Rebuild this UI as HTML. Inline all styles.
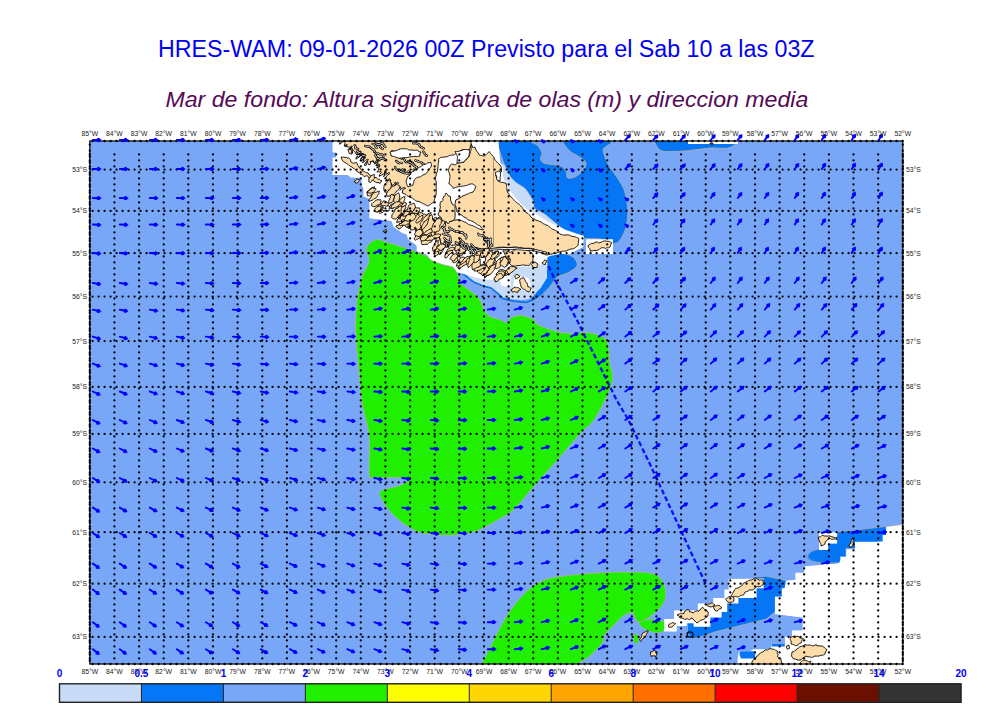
<!DOCTYPE html><html><head><meta charset="utf-8"><style>html,body{margin:0;padding:0;background:#fff;overflow:hidden}</style></head><body><svg width="1000" height="707" viewBox="0 0 1000 707" style="display:block">
<rect width="1000" height="707" fill="#fff"/>
<text x="158" y="56.6" font-family="Liberation Sans" font-size="23" fill="#0000f5" textLength="656.5" lengthAdjust="spacingAndGlyphs">HRES-WAM: 09-01-2026 00Z Previsto para el Sab 10 a las 03Z</text>
<text x="165.5" y="106.5" font-family="Liberation Sans" font-style="italic" font-size="22.6" fill="#550a55" textLength="642.8" lengthAdjust="spacingAndGlyphs">Mar de fondo: Altura significativa de olas (m) y direccion media</text>
<defs><clipPath id="mc"><rect x="89.8" y="141.0" width="813.0" height="523.0"/></clipPath></defs>
<g clip-path="url(#mc)">
<rect x="89.8" y="141.0" width="813.0" height="523.0" fill="#79a7f8"/>
<path d="M498.0,140.0C480.5,141.4 497.9,144.3 499.0,148.5C500.1,152.7 502.6,160.2 504.5,165.0C506.4,169.8 508.5,174.0 510.5,177.0C512.5,180.0 514.0,181.0 516.5,183.0C519.0,185.0 522.8,186.0 525.5,189.0C528.2,192.0 531.5,197.8 533.0,201.0C534.5,204.2 532.5,206.2 534.5,208.5C536.5,210.8 541.8,212.2 545.0,214.5C548.2,216.8 550.5,219.2 554.0,222.0C557.5,224.8 561.3,228.3 566.0,231.0C570.7,233.7 576.3,236.7 582.0,238.0C587.7,239.3 594.5,238.1 600.0,239.0C605.5,239.9 611.1,244.0 614.9,243.4C618.7,242.8 620.8,238.7 622.8,235.4C624.8,232.1 625.9,227.9 626.7,223.6C627.5,219.3 628.0,215.0 627.7,209.7C627.4,204.4 626.3,196.8 624.8,191.9C623.3,187.0 621.6,184.7 618.8,180.0C616.0,175.3 610.6,169.0 608.0,164.0C605.4,159.0 603.7,154.0 603.0,150.0C602.3,146.0 621.5,141.7 604.0,140.0C586.5,138.3 515.5,138.6 498.0,140.0Z" fill="#0576f6" stroke="#b8ae9c" stroke-width="0.8"/>
<path d="M548.0,252.0C551.7,251.5 564.6,253.7 569.3,255.2C574.0,256.7 575.1,259.2 576.2,261.2C577.4,263.2 577.7,265.0 576.2,267.0C574.7,269.0 570.4,271.3 567.3,273.0C564.2,274.7 560.4,274.7 557.4,277.0C554.4,279.3 552.5,283.7 549.5,287.0C546.5,290.3 542.6,294.5 539.6,296.8C536.6,299.1 532.0,302.3 531.7,301.0C531.4,299.7 535.5,293.9 538.0,288.8C540.5,283.7 544.9,275.7 546.4,270.6C547.9,265.5 546.7,261.1 547.0,258.0C547.3,254.9 544.3,252.5 548.0,252.0Z" fill="#0576f6" stroke="#b8ae9c" stroke-width="0.8"/>
<path d="M530.0,140.0C525.8,141.2 535.5,143.3 537.5,145.5C539.5,147.7 541.5,150.8 542.0,153.0C542.5,155.2 540.0,157.2 540.5,159.0C541.0,160.8 541.8,162.4 545.0,163.5C548.2,164.6 556.5,164.5 560.0,165.8C563.5,167.0 564.8,169.0 566.0,171.0C567.2,173.0 566.0,176.8 567.5,177.8C569.0,178.8 572.2,178.4 575.0,177.0C577.8,175.6 582.2,172.0 584.0,169.5C585.8,167.0 586.5,164.2 585.5,162.0C584.5,159.8 580.5,157.8 578.0,156.0C575.5,154.2 573.0,153.8 570.5,151.5C568.0,149.2 564.2,144.8 563.0,142.5C561.8,140.2 568.5,138.4 563.0,138.0C557.5,137.6 534.2,138.8 530.0,140.0Z" fill="#79a7f8" stroke="#b8ae9c" stroke-width="0.8"/>
<path d="M652.0,138.0C637.7,138.5 652.7,139.0 654.0,141.0C655.3,143.0 657.3,148.2 660.0,150.0C662.7,151.8 665.0,151.5 670.0,151.6C675.0,151.7 683.3,151.0 690.0,150.4C696.7,149.8 703.7,148.4 710.0,148.0C716.3,147.6 723.3,149.0 728.0,148.0C732.7,147.0 736.0,143.7 738.0,142.0C740.0,140.3 754.3,138.7 740.0,138.0C725.7,137.3 666.3,137.5 652.0,138.0Z" fill="#0576f6" stroke="#b8ae9c" stroke-width="0.8"/>
<rect x="688" y="140" width="50" height="4" fill="#fff"/>
<path d="M709,143.5l3,-1.5 2,2 -2,1.5z" fill="#333"/>
<polygon points="498.0,162.0 504.5,165.0 510.5,177.0 516.5,183.0 525.5,189.0 533.0,201.0 534.5,208.5 545.0,214.5 554.0,222.0 566.0,231.0 582.0,238.0 584.0,246.0 560.0,252.0 520.0,246.0 500.0,230.0 488.0,200.0 490.0,170.0" fill="#c8dcf8"/>
<path d="M476.0,143.5C476.6,142.8 479.0,143.1 480.0,144.0C481.0,144.9 482.2,147.8 482.0,149.0C481.8,150.2 479.9,151.2 479.0,151.0C478.1,150.8 477.0,149.2 476.5,148.0C476.0,146.8 475.4,144.2 476.0,143.5Z" fill="#c8dcf8"/>
<polygon points="466.4,277.9 482.0,287.0 495.0,290.9 500.2,296.1 508.0,298.7 521.0,300.0 530.1,298.7 540.5,288.3 547.0,277.9 547.0,261.0 540.0,255.0 500.0,258.0 470.0,268.0" fill="#c8dcf8"/>
<polyline points="463.0,274.0 466.4,276.6 473.0,281.8 482.0,285.7 491.1,288.3 497.6,293.5 502.8,298.7 513.2,301.3 526.2,302.6 531.4,300.5 539.2,292.2 547.0,284.4" fill="none" stroke="#0576f6" stroke-width="2.0" stroke-linejoin="round" stroke-linecap="round"/>
<polyline points="463.0,275.2 466.4,277.8 473.0,283.0 482.0,287.0 491.1,289.5 497.6,294.7 502.8,299.9 513.2,302.5 526.2,303.8 532.0,301.5" fill="none" stroke="#b8ae9c" stroke-width="0.5" stroke-linejoin="round" stroke-linecap="round"/>
<polygon points="332.5,141.0 332.5,152.4 336.3,152.4 336.3,157.4 332.5,157.4 332.5,175.0 348.0,175.0 350.7,177.6 361.5,178.0 361.5,184.8 363.4,188.4 363.4,196.3 369.4,199.0 369.4,218.2 391.4,221.0 393.6,227.0 401.3,232.5 406.8,234.7 407.9,239.1 416.7,245.7 416.7,251.2 426.6,254.5 431.0,260.0 436.5,263.3 453.0,266.6 456.3,272.0 463.8,274.0 482.0,279.2 500.2,280.5 501.5,285.7 510.6,287.0 510.6,266.0 547.0,264.0 547.0,258.0 552.0,254.0 570.0,254.0 583.0,247.0 584.0,236.0 566.0,230.0 548.0,221.5 536.0,214.0 526.0,208.5 520.0,203.0 512.0,193.0 505.0,183.0 502.0,172.0 500.0,160.0 499.0,148.0 498.5,140.0 476.0,140.0" fill="#fff"/>
<polygon points="514.5,275.3 528.8,278.0 532.7,292.2 513.2,287.0" fill="#fff"/>
<polygon points="586.0,239.4 613.0,239.4 613.0,254.0 586.0,254.0" fill="#fff"/>
<polygon points="586.0,239.4 613.0,239.4 613.0,254.0 586.0,254.0" fill="#fff"/>
<polygon points="340.0,141.0 471.0,141.0 471.2,144.3 469.4,149.7 462.2,149.7 453.2,155.1 446.0,156.9 438.8,158.7 437.9,167.7 435.2,178.5 436.1,192.7 434.3,201.7 427.9,206.0 419.0,201.7 410.0,197.2 402.0,192.5 394.8,186.0 387.6,180.0 380.4,174.0 376.8,167.7 373.2,162.3 366.0,165.0 357.0,156.9 357.0,151.5 350.7,153.3 348.0,145.2" fill="#fff" stroke="#fff" stroke-width="3" stroke-linejoin="round"/>
<polygon points="471.2,144.3 473.0,147.9 474.8,147.0 479.3,155.1 483.8,156.0 489.2,151.5 493.7,156.9 496.4,161.4 500.0,165.0 501.5,168.0 501.5,171.8 495.5,175.5 498.5,181.5 506.0,183.0 507.5,192.0 513.5,199.5 519.5,204.5 524.0,211.0 531.0,217.0 541.0,222.0 548.0,225.5 560.0,234.0 578.7,238.4 578.2,245.3 574.5,248.2 566.0,251.0 552.0,254.0 546.0,255.0 540.0,252.0 534.0,249.0 508.0,247.4 482.0,249.3 460.0,245.4 450.0,245.0 440.0,243.0 430.0,239.0 420.0,234.0 410.0,229.0 402.0,224.0 397.0,218.0 400.0,212.0 408.0,210.0 418.0,213.0 428.0,215.0 438.0,219.0 445.0,222.0 453.2,220.6 458.6,219.7 465.8,222.4 478.4,228.7 483.8,229.6 480.2,226.0 473.0,221.5 464.0,217.0 457.7,212.5 455.0,204.4 455.9,199.9 464.0,195.4 473.0,192.0 475.7,186.6 473.0,183.9 460.4,186.6 453.2,188.4 448.7,183.0 448.7,168.6 451.4,164.1 455.0,165.0 457.7,163.2 464.0,162.3 469.4,156.0" fill="#fff" stroke="#fff" stroke-width="3" stroke-linejoin="round"/>
<polygon points="341.0,157.0 344.0,157.0 351.0,162.0 359.0,167.5 368.0,173.0 376.0,177.5 382.0,181.0 380.0,183.5 372.0,180.0 362.0,174.0 353.0,168.0 346.0,163.0 342.0,160.0" fill="#fff" stroke="#fff" stroke-width="3" stroke-linejoin="round"/>
<polygon points="348.0,149.0 351.0,149.5 352.0,154.0 349.0,153.5" fill="#fff" stroke="#fff" stroke-width="3" stroke-linejoin="round"/>
<polygon points="446.0,193.0 450.0,196.0 452.0,204.0 455.0,212.0 454.0,220.0 448.0,224.0 442.0,221.0 438.0,214.0 440.0,206.0 443.0,198.0" fill="#fff" stroke="#fff" stroke-width="3" stroke-linejoin="round"/>
<polygon points="503.0,250.5 515.0,250.0 528.0,250.5 533.0,254.0 532.7,261.0 528.8,266.0 523.6,265.0 514.5,266.0 505.4,261.0" fill="#fff" stroke="#fff" stroke-width="3" stroke-linejoin="round"/>
<polygon points="340.0,141.0 341.0,141.0 342.0,141.0 343.1,141.0 344.1,141.0 345.1,141.0 346.1,141.0 347.2,141.0 348.2,141.0 349.2,141.0 350.2,141.0 351.3,141.0 352.3,141.0 353.3,141.0 354.3,141.0 355.4,141.0 356.4,141.0 357.4,141.0 358.4,141.0 359.4,141.0 360.5,141.0 361.5,141.0 362.5,141.0 363.5,141.0 364.6,141.0 365.6,141.0 366.6,141.0 367.6,141.0 368.7,141.0 369.7,141.0 370.7,141.0 371.7,141.0 372.8,141.0 373.8,141.0 374.8,141.0 375.8,141.0 376.8,141.0 377.9,141.0 378.9,141.0 379.9,141.0 380.9,141.0 382.0,141.0 383.0,141.0 384.0,141.0 385.0,141.0 386.1,141.0 387.1,141.0 388.1,141.0 389.1,141.0 390.1,141.0 391.2,141.0 392.2,141.0 393.2,141.0 394.2,141.0 395.3,141.0 396.3,141.0 397.3,141.0 398.3,141.0 399.4,141.0 400.4,141.0 401.4,141.0 402.4,141.0 403.5,141.0 404.5,141.0 405.5,141.0 406.5,141.0 407.5,141.0 408.6,141.0 409.6,141.0 410.6,141.0 411.6,141.0 412.7,141.0 413.7,141.0 414.7,141.0 415.7,141.0 416.8,141.0 417.8,141.0 418.8,141.0 419.8,141.0 420.9,141.0 421.9,141.0 422.9,141.0 423.9,141.0 424.9,141.0 426.0,141.0 427.0,141.0 428.0,141.0 429.0,141.0 430.1,141.0 431.1,141.0 432.1,141.0 433.1,141.0 434.2,141.0 435.2,141.0 436.2,141.0 437.2,141.0 438.2,141.0 439.3,141.0 440.3,141.0 441.3,141.0 442.3,141.0 443.4,141.0 444.4,141.0 445.4,141.0 446.4,141.0 447.5,141.0 448.5,141.0 449.5,141.0 450.5,141.0 451.6,141.0 452.6,141.0 453.6,141.0 454.6,141.0 455.6,141.0 456.7,141.0 457.7,141.0 458.7,141.0 459.7,141.0 460.8,141.0 461.8,141.0 462.8,141.0 463.8,141.0 464.9,141.0 465.9,141.0 466.9,141.0 467.9,141.0 469.0,141.0 470.0,141.0 471.0,141.0 471.1,141.8 471.1,142.7 471.1,143.5 471.2,144.3 470.6,145.6 470.2,147.0 470.0,148.4 469.4,149.7 468.5,149.8 467.6,149.9 466.7,149.9 465.8,149.9 464.9,149.8 464.0,149.9 463.1,149.8 462.2,149.7 461.1,150.4 460.0,151.1 458.8,151.7 457.8,152.5 456.7,153.2 455.5,153.9 454.4,154.6 453.2,155.1 452.3,155.1 451.3,155.1 450.4,155.4 449.5,155.5 448.6,156.0 447.8,156.4 446.9,156.6 446.0,156.9 445.1,157.0 444.1,157.0 443.2,157.3 442.2,157.2 441.3,157.4 440.4,157.7 439.7,158.3 438.8,158.7 438.5,159.8 438.8,161.0 438.5,162.1 438.3,163.2 438.2,164.3 438.0,165.4 438.1,166.6 437.9,167.7 437.7,169.1 437.6,170.5 437.3,171.9 436.6,173.1 436.2,174.5 436.1,175.9 435.5,177.1 435.2,178.5 435.3,179.4 435.6,180.3 436.0,181.1 436.2,182.0 436.3,182.9 436.4,183.8 436.4,184.7 436.3,185.6 436.2,186.5 436.2,187.4 436.1,188.3 436.4,189.1 436.3,190.0 436.3,190.9 436.3,191.8 436.1,192.7 436.2,193.9 435.9,195.0 435.5,196.1 435.2,197.2 434.8,198.3 434.5,199.4 434.3,200.5 434.3,201.7 433.5,202.3 432.7,202.8 431.9,203.3 431.1,203.8 430.4,204.5 429.6,205.0 428.8,205.6 427.9,206.0 426.8,205.5 425.7,204.9 424.6,204.2 423.4,203.9 422.4,203.2 421.2,202.7 420.2,202.1 419.0,201.7 417.8,201.3 416.5,201.1 415.4,200.5 414.4,199.7 413.4,199.0 412.3,198.2 411.2,197.6 410.0,197.2 409.0,196.7 407.9,196.2 407.0,195.5 406.1,194.6 405.1,194.2 404.0,193.7 403.0,193.0 402.3,193.0 402.7,189.8 405.6,188.2 404.7,187.4 401.8,188.4 399.8,190.3 401.2,188.9 400.3,186.7 399.4,185.9 398.9,187.4 398.4,189.1 395.0,190.4 395.4,186.6 396.4,185.3 398.7,182.9 397.8,182.1 396.0,183.6 394.7,186.2 396.0,185.2 395.9,182.7 394.9,182.0 395.1,183.5 393.0,185.0 391.6,185.5 391.5,183.3 389.7,183.9 389.9,182.1 390.2,181.1 390.2,179.5 389.2,178.7 388.1,180.3 387.6,180.2 385.2,180.9 387.7,180.5 385.2,178.2 387.1,175.5 389.9,173.3 389.0,172.5 385.8,174.4 383.6,176.8 385.1,173.2 386.1,170.8 385.2,170.0 384.5,173.5 381.6,175.1 379.1,176.4 379.8,174.4 381.2,172.3 381.5,172.6 380.9,171.5 379.7,172.1 379.0,171.8 376.8,171.8 378.7,170.0 378.7,167.9 379.9,165.4 379.3,164.3 378.7,166.7 376.8,168.1 377.4,165.9 378.7,164.6 378.0,163.6 377.5,165.6 375.8,165.5 376.8,163.5 379.2,161.2 378.5,160.2 376.8,162.8 374.3,163.8 377.0,161.6 378.4,157.7 377.7,156.7 376.7,160.2 373.9,163.1 373.3,161.2 373.6,161.3 372.9,160.3 372.6,161.2 373.0,161.9 372.8,161.3 371.1,161.4 369.9,161.9 371.1,161.7 370.6,163.2 369.9,164.8 368.2,164.3 367.5,162.4 367.7,161.1 366.5,161.5 366.0,163.2 366.6,164.8 366.2,165.2 364.4,165.4 364.8,164.2 366.4,161.8 368.6,159.9 367.8,159.1 365.8,160.2 362.6,162.8 364.0,159.0 364.6,155.1 363.7,154.3 364.2,158.4 361.3,161.2 362.7,158.8 365.9,157.6 365.0,156.8 361.4,157.5 360.7,159.3 362.1,156.9 363.3,154.2 362.4,153.4 361.0,155.5 357.6,158.0 355.9,159.2 356.6,156.5 358.8,157.0 359.5,156.5 359.5,155.3 359.0,154.4 357.0,154.8 360.3,154.1 363.7,154.9 363.7,153.7 360.2,153.4 357.4,152.5 359.4,152.3 361.0,152.3 361.0,151.1 358.5,151.2 357.5,151.9 356.8,155.1 354.9,152.0 353.2,150.4 351.3,147.2 350.2,147.5 352.3,149.6 352.5,153.3 351.3,151.6 349.8,148.9 348.7,149.3 349.5,151.9 351.0,152.8 349.2,150.5 350.5,149.4 350.8,149.0 350.4,147.9 350.7,149.1 349.2,148.7 351.4,147.7 352.3,146.9 351.9,145.8 350.6,147.0 348.6,147.0 344.8,146.3 347.5,144.8 346.0,144.8 344.2,146.0 345.0,143.4 344.4,142.6 343.4,140.6 342.3,140.1 342.4,141.7 342.8,141.8 339.6,144.3" fill="#fddcaa" stroke="#000" stroke-width="0.9" stroke-linejoin="round"/>
<polygon points="471.2,144.3 471.7,145.2 472.3,146.0 472.7,146.9 473.0,147.9 473.9,147.4 474.8,147.0 475.3,148.0 475.8,149.1 476.1,150.2 476.8,151.2 477.5,152.1 478.1,153.1 478.8,154.0 479.3,155.1 480.4,155.3 481.6,155.5 482.7,155.8 483.8,156.0 484.6,155.7 485.4,155.2 486.1,154.6 486.7,154.0 487.4,153.4 488.1,152.9 488.6,152.2 489.2,151.5 489.7,152.2 490.2,152.9 490.7,153.7 491.3,154.3 491.9,155.0 492.4,155.7 493.1,156.3 493.7,156.9 494.2,158.1 494.7,159.4 495.5,160.4 496.4,161.4 497.2,162.4 498.1,163.3 499.0,164.2 500.0,165.0 500.4,165.7 500.8,166.5 501.2,167.2 501.5,168.0 501.5,168.9 501.5,169.9 501.4,170.8 501.5,171.8 500.8,172.3 500.0,172.7 499.3,173.3 498.6,173.8 497.8,174.2 497.1,174.7 496.3,175.1 495.5,175.5 496.0,176.2 496.4,177.0 497.0,177.6 497.5,178.2 497.8,179.1 497.9,179.9 498.3,180.7 498.5,181.5 499.4,181.7 500.3,182.0 501.3,182.3 502.2,182.4 503.2,182.5 504.1,182.8 505.0,183.0 506.0,183.0 506.2,184.1 506.5,185.2 506.6,186.4 506.6,187.5 506.9,188.6 506.9,189.8 507.1,190.9 507.5,192.0 508.1,193.1 508.8,194.1 509.4,195.1 510.2,196.0 511.0,196.9 511.8,197.8 512.7,198.6 513.5,199.5 514.1,200.3 514.8,201.0 515.5,201.6 516.3,202.2 517.2,202.7 517.8,203.5 518.7,204.0 519.5,204.5 520.1,205.3 520.9,206.0 521.5,206.8 522.3,207.4 522.7,208.3 523.2,209.2 523.6,210.1 524.0,211.0 525.0,211.7 525.9,212.3 526.9,212.9 528.0,213.5 528.8,214.3 529.6,215.1 530.3,216.1 531.0,217.0 532.0,218.1 533.3,218.5 534.6,219.2 535.8,220.0 537.1,220.5 538.4,220.9 539.7,221.4 541.0,222.0 541.9,222.5 542.6,223.2 543.4,223.7 544.3,224.1 545.2,224.5 546.1,225.0 547.0,225.3 548.0,225.5 548.7,226.2 549.3,226.8 550.0,227.4 550.7,228.1 551.5,228.6 552.3,229.1 553.1,229.5 554.1,229.7 554.9,230.1 555.7,230.6 556.5,231.0 557.3,231.5 557.9,232.2 558.6,232.7 559.4,233.3 560.0,234.0 561.2,234.4 562.3,234.8 563.5,235.0 564.7,235.1 566.0,235.0 567.2,234.8 568.4,234.9 569.6,235.3 570.7,235.7 571.8,236.3 573.0,236.5 574.2,236.7 575.4,236.9 576.5,237.4 577.6,237.8 578.7,238.4 578.7,239.3 578.7,240.1 578.5,241.0 578.4,241.8 578.4,242.7 578.3,243.6 578.2,244.4 578.2,245.3 577.2,245.9 576.3,246.7 575.5,247.5 574.5,248.2 573.5,248.7 572.3,248.8 571.2,249.0 570.1,249.1 569.1,249.6 568.1,250.1 567.0,250.6 566.0,251.0 565.1,251.2 564.2,251.2 563.3,251.2 562.4,251.2 561.5,251.4 560.6,251.6 559.8,251.9 558.9,252.2 558.1,252.4 557.2,252.7 556.4,253.1 555.5,253.3 554.6,253.4 553.7,253.5 552.9,253.7 552.0,254.0 550.5,254.2 549.0,254.6 547.5,254.8 546.0,255.0 545.2,254.7 544.5,254.3 543.7,254.0 542.8,253.8 542.1,253.4 541.4,252.9 540.7,252.4 540.0,252.0 539.2,251.7 538.4,251.4 537.7,250.9 537.0,250.6 536.2,250.2 535.5,249.8 534.7,249.4 534.0,249.0 533.2,248.7 532.4,248.6 531.6,248.6 530.8,248.4 530.0,248.3 529.2,248.3 528.4,248.2 527.5,248.2 526.7,248.3 525.9,248.3 525.1,248.2 524.3,248.2 523.4,248.1 522.7,247.8 521.9,247.7 521.0,247.6 520.2,247.6 519.4,247.6 518.6,247.5 517.8,247.3 517.0,247.1 516.2,247.0 515.3,247.0 514.5,247.0 513.7,247.1 512.9,247.2 512.1,247.3 511.3,247.4 510.5,247.4 509.6,247.4 508.8,247.4 508.0,247.4 507.2,247.3 506.4,247.3 505.5,247.4 504.7,247.3 503.9,247.2 503.1,247.1 502.3,247.3 501.5,247.2 500.6,247.3 499.8,247.2 499.0,247.3 498.2,247.4 497.4,247.5 496.6,247.7 495.8,248.0 495.0,248.2 494.2,248.4 493.4,248.5 492.6,248.6 491.8,248.6 490.9,248.6 490.1,248.6 489.3,248.6 488.5,248.6 487.7,248.7 486.9,248.8 486.1,248.8 485.2,248.9 484.4,249.0 483.6,249.0 482.8,249.0 482.0,249.3 480.6,249.1 479.2,248.7 478.0,248.0 476.7,247.6 475.3,247.4 473.9,247.3 472.5,246.9 471.1,246.9 469.7,246.6 468.3,246.7 466.9,246.6 465.5,246.7 464.1,246.3 462.7,246.0 461.4,245.7 459.8,245.0 459.2,244.0 460.5,241.5 459.3,241.4 458.8,242.7 458.2,245.4 457.9,244.3 456.7,243.2 455.5,243.1 456.4,244.2 455.5,245.2 453.5,245.1 451.6,245.6 450.8,245.2 449.3,243.3 449.2,241.3 448.0,241.3 448.4,243.6 449.5,244.5 448.6,247.6 448.0,244.2 446.9,247.8 447.3,244.9 447.0,242.0 445.3,241.1 444.1,240.9 444.5,243.2 444.4,243.7 442.7,244.9 441.6,242.9 440.6,243.3 440.3,239.4 438.6,235.6 437.5,235.2 440.0,239.5 437.3,242.0 435.2,244.6 435.5,240.9 436.0,239.2 436.4,236.1 435.2,235.7 434.1,237.4 432.5,239.7 432.5,238.2 432.5,237.7 431.3,237.3 431.2,239.1 430.2,238.6 428.7,239.4 429.6,239.1 430.1,237.1 429.9,235.5 428.8,235.0 428.4,236.4 427.5,237.7 424.3,236.1 423.6,235.3 421.1,234.6 420.7,233.1 421.3,230.9 420.2,230.4 419.8,232.0 420.2,233.6 420.4,231.1 422.1,227.5 421.0,227.0 419.0,229.5 417.5,232.7 417.4,231.7 416.4,228.7 415.3,228.2 416.1,230.3 415.4,231.2 415.8,229.5 415.8,227.5 414.8,227.0 414.7,229.2 413.0,230.0 410.7,230.0 410.5,227.4 409.9,223.7 408.8,223.2 409.6,225.9 409.5,228.5 409.4,227.8 409.9,228.0 408.9,227.3 408.3,228.4 408.5,228.5 407.8,227.5 408.8,226.3 407.8,225.7 408.0,227.1 406.2,227.3 404.9,225.3 405.0,223.5 404.4,222.9 403.4,222.2 403.4,222.9 402.3,224.0 402.7,221.2 405.7,220.2 404.7,219.6 401.4,220.0 402.1,224.4 402.2,222.7 402.0,221.0 401.2,220.1 401.7,221.3 400.4,221.7 396.6,222.5 397.8,219.2 400.6,216.6 401.2,212.5 400.4,211.5 399.8,215.9 396.8,217.7 398.3,217.2 400.0,219.3 400.5,218.3 400.3,216.0 398.9,215.4 397.1,213.3 399.9,213.7 401.8,214.0 403.8,215.8 404.3,214.7 402.0,213.0 400.4,212.3 401.7,213.8 401.5,216.1 402.6,215.8 402.1,212.8 402.1,211.3 405.2,210.8 407.7,210.0 408.4,214.0 412.4,215.8 413.6,215.5 409.2,212.7 408.2,209.6 409.1,211.2 407.3,213.3 408.4,213.6 409.4,212.2 411.6,211.2 411.9,212.5 411.1,214.6 412.3,215.0 411.9,214.0 413.7,211.4 413.4,212.9 413.3,215.1 414.4,215.4 415.5,214.6 416.8,212.5 417.5,214.5 418.0,214.9 419.2,215.3 419.2,214.5 418.0,212.9 419.6,211.6 420.3,213.1 421.6,212.3 422.8,214.1 424.6,214.0 426.0,215.2 426.1,215.7 427.3,215.9 426.7,214.6 426.8,214.9 428.5,213.4 428.3,215.0 429.2,214.4 429.2,216.2 431.7,214.6 432.5,216.4 432.5,219.4 433.9,221.3 435.0,221.8 433.1,218.9 435.2,217.4 436.3,217.4 436.8,219.2 438.5,217.3 437.9,218.4 437.5,220.5 439.1,223.2 440.2,223.7 439.4,222.1 441.2,219.6 442.7,218.0 442.2,220.5 444.5,219.6 445.3,222.0 443.9,224.7 441.3,227.0 442.4,227.5 445.9,226.1 445.0,222.0 446.0,222.0 447.1,221.9 448.1,221.7 449.2,221.7 450.2,221.5 451.2,221.3 452.2,221.0 453.2,220.6 454.5,220.3 455.9,220.0 457.2,219.8 458.6,219.7 459.6,219.8 460.5,220.2 461.4,220.5 462.2,220.9 463.1,221.3 464.0,221.8 464.9,222.2 465.8,222.4 466.5,222.9 467.3,223.4 468.0,224.0 468.6,224.6 469.5,224.9 470.4,225.0 471.2,225.3 472.1,225.5 473.0,225.8 473.7,226.2 474.5,226.6 475.3,226.9 476.1,227.4 476.9,227.8 477.6,228.3 478.4,228.7 479.7,229.0 481.0,229.5 482.4,229.8 483.8,229.6 482.7,229.0 481.7,228.1 481.0,227.0 480.2,226.0 479.3,225.5 478.2,225.3 477.4,224.6 476.4,224.1 475.7,223.3 474.8,222.7 473.9,222.1 473.0,221.5 471.8,221.2 470.6,220.6 469.4,220.3 468.2,219.9 467.4,218.9 466.3,218.1 465.2,217.5 464.0,217.0 463.2,216.4 462.5,215.8 461.7,215.2 460.8,214.9 460.0,214.2 459.3,213.6 458.5,213.0 457.7,212.5 457.0,211.7 456.6,210.6 456.7,209.5 456.4,208.4 456.0,207.4 455.7,206.4 455.4,205.4 455.0,204.4 455.2,203.3 455.4,202.1 455.6,201.0 455.9,199.9 457.0,199.4 458.0,199.0 459.1,198.5 460.0,197.8 461.1,197.3 461.9,196.5 463.0,195.9 464.0,195.4 465.2,195.1 466.2,194.4 467.4,194.2 468.5,193.7 469.5,193.0 470.7,192.7 471.9,192.5 473.0,192.0 473.8,190.7 474.7,189.5 475.2,188.0 475.7,186.6 475.3,185.7 474.4,185.2 473.7,184.6 473.0,183.9 472.2,184.0 471.4,183.9 470.5,184.0 469.8,184.2 469.0,184.5 468.2,184.8 467.5,185.2 466.7,185.4 465.9,185.5 465.1,185.7 464.4,185.9 463.6,186.0 462.8,186.1 462.0,186.3 461.2,186.4 460.4,186.6 459.5,186.6 458.5,186.7 457.6,187.0 456.7,186.9 455.8,187.3 454.9,187.6 454.1,188.1 453.2,188.4 452.9,187.6 452.4,186.8 451.9,186.0 451.1,185.6 450.4,185.0 450.0,184.2 449.2,183.8 448.7,183.0 449.1,182.1 449.5,181.3 449.5,180.4 449.7,179.5 449.6,178.5 449.8,177.6 450.0,176.7 450.1,175.8 449.7,175.0 449.5,174.1 449.3,173.2 449.0,172.3 448.6,171.4 448.5,170.5 448.6,169.5 448.7,168.6 449.3,167.4 449.9,166.2 450.5,165.1 451.4,164.1 452.3,164.2 453.3,164.3 454.1,164.7 455.0,165.0 455.7,164.5 456.3,164.0 457.0,163.7 457.7,163.2 459.3,162.8 460.8,162.6 461.6,162.3 462.4,162.1 463.2,162.2 464.0,162.3 464.6,161.4 465.3,160.6 466.0,159.9 466.8,159.2 467.4,158.4 468.1,157.6 468.7,156.8 469.4,156.0 469.6,154.5 470.2,153.1 470.3,151.6 471.0,150.3 471.1,148.8 471.2,147.3 471.2,145.8" fill="#fddcaa" stroke="#000" stroke-width="0.9" stroke-linejoin="round"/>
<polygon points="341.0,157.0 341.8,157.1 342.5,157.4 343.3,157.2 344.0,157.0 345.1,157.6 346.4,157.4 347.4,158.0 348.7,157.8 349.6,158.6 350.4,159.6 350.8,160.8 351.0,162.0 351.6,162.5 352.3,162.8 353.0,163.2 353.8,163.2 354.5,163.0 355.2,162.7 355.9,162.7 356.6,162.4 357.2,163.7 357.4,165.1 358.5,166.1 359.0,167.5 360.2,168.2 360.9,169.4 361.8,170.4 363.1,170.9 364.2,171.7 365.4,172.3 366.7,172.7 368.0,173.0 368.8,173.9 369.4,175.0 370.4,175.7 371.7,175.7 372.7,176.3 373.8,176.7 374.8,177.5 376.0,177.5 376.7,178.0 377.4,178.6 378.1,179.0 378.9,179.4 379.7,179.7 380.4,180.3 381.3,180.5 382.0,181.0 381.2,181.4 380.7,182.0 380.5,182.8 380.0,183.5 379.1,182.8 378.0,182.5 376.8,182.7 375.8,182.3 374.9,181.6 373.8,181.3 373.2,180.3 372.0,180.0 371.4,179.4 370.9,178.9 370.1,178.7 369.3,178.5 368.8,177.9 368.6,177.1 368.0,176.6 367.7,175.9 366.7,175.8 365.8,175.9 365.1,176.4 364.2,176.7 363.7,176.1 363.1,175.4 362.5,174.7 362.0,174.0 361.3,174.4 360.5,174.2 359.9,173.6 359.4,173.0 358.4,172.0 357.0,171.7 356.3,170.5 355.2,169.6 354.2,168.6 353.0,168.0 352.1,167.3 351.3,166.7 350.3,166.3 349.4,165.7 348.6,164.9 347.7,164.3 346.8,163.7 346.0,163.0 344.9,162.4 343.8,161.8 342.9,160.9 342.0,160.0 342.0,159.2 341.6,158.5 341.3,157.7" fill="#fddcaa" stroke="#000" stroke-width="0.9" stroke-linejoin="round"/>
<polygon points="348.0,149.0 348.7,149.3 349.5,149.4 350.2,149.4 351.0,149.5 351.3,150.6 351.7,151.7 351.6,152.9 352.0,154.0 351.2,153.9 350.5,153.7 349.7,153.6 349.0,153.5 348.9,152.4 348.5,151.3 348.2,150.1" fill="#fddcaa" stroke="#000" stroke-width="0.9" stroke-linejoin="round"/>
<polygon points="446.0,193.0 446.9,193.8 447.8,194.7 448.1,195.5 448.5,196.1 449.2,196.1 450.0,196.0 450.4,197.0 450.5,198.0 450.5,199.1 450.6,200.1 450.9,201.1 451.5,202.0 451.8,203.0 452.0,204.0 453.1,204.5 454.0,205.3 454.9,206.2 455.0,207.4 455.1,208.6 455.0,209.7 454.8,210.9 455.0,212.0 455.0,213.0 455.2,214.0 455.1,215.1 455.2,216.1 454.8,217.1 455.0,218.2 454.6,219.2 454.0,220.0 453.2,220.4 452.3,220.7 451.5,221.2 450.5,221.2 449.5,221.6 449.3,222.7 448.7,223.4 448.0,224.0 447.5,223.2 447.1,222.4 446.4,221.8 445.5,221.5 444.6,221.2 443.8,220.8 442.9,221.0 442.0,221.0 442.2,219.9 441.6,219.0 441.3,218.0 440.8,217.0 439.9,216.5 439.0,215.9 438.3,215.1 438.0,214.0 438.5,213.1 439.1,212.2 439.2,211.1 439.6,210.2 439.8,209.1 440.2,208.1 440.4,207.0 440.0,206.0 440.0,204.9 440.2,203.8 440.2,202.7 440.7,201.7 442.0,201.5 442.9,200.5 442.8,199.2 443.0,198.0 443.5,197.3 443.5,196.5 444.3,196.3 444.9,195.8 445.4,194.3" fill="#fddcaa" stroke="#000" stroke-width="0.9" stroke-linejoin="round"/>
<polygon points="503.0,250.5 503.8,250.6 504.6,250.8 505.4,250.7 506.2,250.8 507.0,251.1 507.7,251.4 508.4,251.8 509.1,252.2 509.9,252.1 510.7,252.0 511.4,251.7 512.1,251.3 512.9,251.0 513.6,250.7 514.3,250.3 515.0,250.0 515.8,249.7 516.6,249.4 517.4,249.1 518.2,248.8 519.0,248.8 519.8,249.1 520.7,249.1 521.5,249.3 522.4,249.4 523.2,249.5 524.0,249.4 524.9,249.3 525.7,249.3 526.5,249.7 527.3,250.0 528.0,250.5 528.7,250.8 529.2,251.4 529.9,251.8 530.5,252.2 531.3,252.5 531.9,252.9 532.5,253.4 533.0,254.0 532.9,254.9 533.0,255.8 533.0,256.6 533.1,257.5 533.0,258.4 533.1,259.3 532.8,260.1 532.7,261.0 532.3,261.7 531.5,262.1 531.1,262.8 530.5,263.3 530.0,263.9 529.7,264.7 529.3,265.4 528.8,266.0 527.5,265.5 526.3,265.2 524.9,265.3 523.6,265.0 522.5,265.0 521.3,265.1 520.2,265.6 519.1,265.5 517.9,265.7 516.8,265.6 515.7,266.2 514.5,266.0 513.1,266.1 511.8,265.7 510.9,264.6 509.7,263.9 509.1,262.7 508.1,261.7 506.8,261.3 505.4,261.0 505.3,259.6 505.6,258.2 505.1,256.8 505.6,255.4 504.7,254.3 504.6,252.8 503.9,252.5 503.3,252.0 503.2,251.3" fill="#fddcaa" stroke="#000" stroke-width="0.9" stroke-linejoin="round"/>
<polygon points="531.4,264.5 532.0,263.8 532.5,263.2 533.2,262.7 534.0,262.3 535.2,262.1 536.1,262.9 537.0,263.5 538.0,264.0 537.5,264.8 537.2,265.7 537.2,266.6 537.0,267.5 536.0,267.4 535.0,267.7 534.0,267.3 533.0,267.5 532.7,266.7 532.5,265.9 532.1,265.1" fill="#fddcaa" stroke="#000" stroke-width="0.9" stroke-linejoin="round"/>
<polygon points="541.8,263.0 542.8,262.4 543.4,261.4 544.4,260.7 545.0,259.7 545.8,260.7 547.0,261.0 546.2,261.9 545.9,263.0 545.3,263.9 545.0,265.0 544.3,264.3 543.3,264.1 542.5,263.6" fill="#fddcaa" stroke="#000" stroke-width="0.9" stroke-linejoin="round"/>
<polygon points="514.5,276.0 515.2,275.5 515.8,275.1 516.4,274.5 517.0,274.0 517.7,274.8 518.7,275.2 519.3,276.1 519.7,277.0 518.7,277.5 517.7,277.9 516.7,278.4 516.0,279.2 515.7,278.4 515.2,277.6 515.0,276.7" fill="#fddcaa" stroke="#000" stroke-width="0.9" stroke-linejoin="round"/>
<polygon points="519.7,280.0 520.4,278.9 521.5,278.3 522.7,277.8 524.0,278.0 524.4,278.7 524.7,279.5 525.1,280.2 525.0,281.0 525.6,281.6 526.1,282.2 526.5,283.0 527.3,283.3 527.6,284.2 527.6,285.1 527.8,286.0 527.9,286.9 528.9,286.9 529.7,287.2 530.5,287.8 531.4,288.0 530.7,289.0 530.2,290.1 529.9,291.3 529.0,292.2 528.2,291.5 527.1,291.4 526.3,290.7 525.5,290.1 524.6,289.6 523.7,289.1 522.9,288.5 522.0,288.0 521.3,287.2 520.9,286.2 520.7,285.1 520.5,284.1 520.0,283.1 520.2,282.0 519.6,281.1" fill="#fddcaa" stroke="#000" stroke-width="0.9" stroke-linejoin="round"/>
<polygon points="510.6,290.0 511.7,289.3 512.9,288.7 513.8,287.6 515.0,287.0 515.8,287.3 516.5,287.7 517.3,287.5 518.1,287.8 518.9,287.9 519.5,288.5 520.2,289.0 521.0,289.0 520.2,289.8 519.1,290.3 518.0,290.9 518.0,292.2 517.2,292.3 516.4,292.2 515.6,292.0 515.0,291.5 514.2,291.5 513.5,291.8 512.8,292.0 512.0,292.0 511.8,290.6" fill="#fddcaa" stroke="#000" stroke-width="0.9" stroke-linejoin="round"/>
<polygon points="354.3,181.0 355.3,180.9 356.2,180.3 356.8,179.5 357.0,178.5 357.5,179.2 358.2,179.6 359.0,179.6 359.7,180.0 358.9,180.7 358.4,181.6 357.8,182.4 357.0,183.0 356.0,183.0 355.1,182.7 354.5,181.9" fill="#fddcaa" stroke="#000" stroke-width="0.9" stroke-linejoin="round"/>
<polygon points="396.0,226.0 397.1,225.6 398.3,225.3 398.9,224.2 400.0,223.5 400.7,224.2 401.4,224.8 402.6,224.9 403.0,226.0 402.0,226.8 401.2,227.8 400.1,228.4 399.0,229.0 398.0,228.5 397.6,227.4 396.4,227.1" fill="#fddcaa" stroke="#000" stroke-width="0.9" stroke-linejoin="round"/>
<polygon points="383.0,231.0 383.9,230.8 384.8,230.4 385.5,229.8 386.0,229.0 386.1,229.8 386.5,230.5 386.7,231.3 387.0,232.0 386.2,232.0 385.4,231.8 384.7,232.1 384.0,232.5 383.5,231.8" fill="#fddcaa" stroke="#000" stroke-width="0.9" stroke-linejoin="round"/>
<polygon points="588.0,246.0 588.7,245.0 589.8,244.6 590.6,243.7 591.8,243.5 592.9,243.4 594.0,243.2 595.0,242.5 596.0,242.0 597.4,242.1 598.5,243.0 599.8,242.7 601.1,242.2 602.3,241.7 603.4,241.1 604.7,241.0 606.0,241.0 606.8,241.3 607.6,241.2 608.4,241.3 609.2,241.3 609.9,241.7 610.7,242.0 611.2,242.6 612.0,243.0 611.3,243.9 610.6,244.8 610.3,245.9 610.0,247.0 609.4,247.5 608.6,247.8 607.8,247.8 607.0,247.8 606.1,248.0 605.4,248.5 604.7,248.0 603.8,247.8 603.0,247.7 602.2,247.7 601.4,247.8 600.7,248.3 599.9,248.5 599.3,249.1 598.8,249.8 598.0,250.0 597.1,250.4 596.0,250.6 595.0,250.5 594.0,250.3 593.1,250.8 592.0,251.0 591.0,250.9 590.0,251.0 590.2,249.5 589.3,248.4 588.4,247.3" fill="#fddcaa" stroke="#000" stroke-width="0.9" stroke-linejoin="round"/>
<polyline points="460.0,246.5 482.0,249.8 508.0,248.3 534.0,250.0 546.0,253.0" fill="none" stroke="#000" stroke-width="2.6" stroke-linejoin="round" stroke-linecap="round"/>
<polyline points="460.0,246.5 482.0,249.8 508.0,248.3 534.0,250.0 546.0,253.0" fill="none" stroke="#fff" stroke-width="1.0" stroke-linejoin="round" stroke-linecap="round"/>
<polygon points="388.8,207.9 389.3,206.9 390.3,206.3 390.5,205.5 390.6,204.7 391.9,204.2 393.3,203.8 394.2,203.6 395.1,203.9 396.1,203.8 397.1,204.1 396.7,204.8 396.7,205.6 395.7,206.4 394.6,207.0 393.7,208.0 392.5,208.5 391.6,208.3 390.8,208.0 389.8,208.1" fill="#fddcaa" stroke="#000" stroke-width="0.9" stroke-linejoin="round"/>
<polygon points="421.9,244.5 421.5,243.4 421.2,242.3 421.3,241.2 422.1,240.4 423.0,239.8 423.8,239.2 424.5,238.5 425.1,237.8 426.1,237.9 427.0,237.4 428.0,236.6 429.3,236.7 429.9,235.6 430.7,234.7 431.3,235.7 431.7,236.8 432.7,237.5 433.7,238.2 433.1,239.0 432.4,239.8 432.1,240.8 431.6,241.8 430.4,242.2 429.2,242.5 428.3,243.4 427.6,244.4 426.1,244.2 424.6,244.5 423.2,244.5" fill="#fddcaa" stroke="#000" stroke-width="0.9" stroke-linejoin="round"/>
<polygon points="394.5,202.6 394.1,201.7 393.8,200.8 393.7,199.5 394.2,198.2 393.9,197.3 394.5,196.5 394.7,195.7 394.8,194.9 395.9,194.5 396.9,194.0 397.7,193.2 398.8,192.8 398.9,193.8 399.5,194.6 399.7,195.9 399.8,197.1 399.5,198.0 399.4,199.0 398.9,199.9 398.5,200.7 398.0,201.6 397.8,202.6 397.0,203.1 396.1,203.7 395.3,203.1" fill="#fddcaa" stroke="#000" stroke-width="0.9" stroke-linejoin="round"/>
<polygon points="368.8,181.9 369.0,180.9 368.8,180.0 368.9,178.9 369.4,178.0 370.3,177.0 370.7,175.7 371.7,175.5 372.6,175.0 373.6,174.8 374.5,174.5 374.3,175.5 374.3,176.5 374.4,177.5 374.4,178.4 373.5,179.4 372.4,180.2 371.4,181.5 370.2,182.6 369.5,182.2" fill="#fddcaa" stroke="#000" stroke-width="0.9" stroke-linejoin="round"/>
<polygon points="379.0,212.5 378.9,211.6 378.4,210.9 379.3,210.6 379.8,209.9 380.3,209.1 380.7,208.3 381.5,208.0 382.2,207.5 382.9,206.8 383.9,206.9 385.4,206.5 386.8,205.8 387.5,206.3 388.4,206.5 388.5,207.6 387.7,208.5 387.0,209.6 385.9,210.4 384.7,211.0 383.5,211.6 382.8,212.3 382.0,212.8 381.0,212.8 380.3,213.5 379.7,213.0" fill="#fddcaa" stroke="#000" stroke-width="0.9" stroke-linejoin="round"/>
<polygon points="424.1,234.5 423.3,233.7 423.9,233.2 424.5,232.7 425.2,232.2 425.9,231.8 426.4,231.0 427.2,230.6 428.1,230.3 428.7,229.6 430.1,228.9 431.7,228.9 432.7,228.9 433.8,228.9 433.2,229.9 432.7,230.9 432.3,231.6 431.7,232.3 430.9,232.7 430.0,232.8 429.3,233.3 428.4,233.5 427.8,234.2 427.2,234.9 426.4,234.6 425.5,234.6" fill="#fddcaa" stroke="#000" stroke-width="0.9" stroke-linejoin="round"/>
<polygon points="420.6,225.6 419.9,224.3 420.4,223.3 420.9,222.3 421.7,221.5 422.3,220.6 422.8,219.6 423.1,218.5 423.9,217.6 424.9,217.1 425.6,216.4 426.3,215.7 427.2,215.2 427.8,214.5 428.6,213.8 429.2,213.1 430.1,212.7 431.1,212.5 430.8,213.7 429.9,214.6 429.3,215.6 429.0,216.8 428.7,218.3 427.8,219.6 427.1,220.4 426.1,221.0 425.9,222.1 425.2,222.9 423.9,223.8 422.9,224.9 422.0,226.1 421.3,227.4 421.0,226.5" fill="#fddcaa" stroke="#000" stroke-width="0.9" stroke-linejoin="round"/>
<polygon points="387.1,196.1 386.5,195.2 386.2,194.0 386.8,192.9 387.4,191.7 388.3,190.8 389.3,190.0 390.0,188.9 390.8,187.8 391.8,186.8 392.9,186.1 394.2,186.0 395.3,185.4 396.2,184.6 397.2,183.8 397.9,184.6 398.4,185.6 399.4,186.1 400.3,186.8 399.4,187.9 399.2,189.2 398.2,190.1 397.2,191.0 396.0,191.6 395.5,192.8 394.5,193.7 393.4,194.4 392.5,194.9 391.5,195.0 390.6,195.4 389.8,196.0 388.5,196.1" fill="#fddcaa" stroke="#000" stroke-width="0.9" stroke-linejoin="round"/>
<polygon points="490.6,258.7 490.6,257.8 490.5,257.0 490.4,255.7 490.5,254.4 491.2,253.5 491.7,252.5 492.8,252.1 493.9,252.5 494.9,252.0 495.2,251.1 496.2,251.4 497.1,250.8 498.2,251.0 498.7,252.0 498.6,253.0 498.8,254.0 499.0,255.6 498.0,256.8 497.0,257.1 496.5,258.0 495.6,258.5 494.7,258.7 493.9,259.4 493.3,260.2 492.3,260.3 491.4,260.6 491.0,259.7" fill="#fddcaa" stroke="#000" stroke-width="0.9" stroke-linejoin="round"/>
<polygon points="406.6,215.5 406.2,214.6 405.5,213.9 406.2,213.6 406.9,213.2 407.5,212.6 408.2,212.3 409.3,211.8 410.1,211.0 411.4,210.2 412.9,210.0 413.3,210.8 413.7,211.7 414.3,212.4 414.9,213.2 414.1,213.4 413.3,213.7 412.6,214.2 412.0,214.8 410.9,215.3 410.2,216.3 409.3,215.8 408.3,216.1 407.4,215.8" fill="#fddcaa" stroke="#000" stroke-width="0.9" stroke-linejoin="round"/>
<polygon points="380.7,207.8 379.9,207.1 379.4,206.2 380.1,205.6 380.6,205.0 381.0,204.2 381.6,203.7 382.0,202.9 382.6,202.4 383.0,201.7 383.3,200.9 384.6,200.9 385.7,201.4 387.0,202.3 387.8,202.8 388.6,203.4 388.2,204.7 387.6,206.0 386.3,206.8 385.0,207.7 384.0,207.4 382.9,207.7 381.8,207.3" fill="#fddcaa" stroke="#000" stroke-width="0.9" stroke-linejoin="round"/>
<polygon points="484.6,278.3 484.6,277.0 484.0,275.8 484.4,274.6 485.3,273.7 485.7,272.5 485.7,271.2 486.2,270.1 487.1,269.2 487.9,268.2 488.7,267.3 489.4,266.4 490.3,265.7 490.9,264.8 491.5,263.8 492.0,263.1 492.9,262.8 493.6,262.1 494.5,262.0 493.9,262.9 493.3,263.8 494.0,264.8 493.6,266.0 493.1,266.8 492.9,267.7 492.8,268.6 492.6,269.5 491.7,270.4 491.0,271.5 490.8,272.7 490.4,273.9 489.2,274.7 487.9,275.1 487.0,275.8 486.3,276.8 485.3,277.4" fill="#fddcaa" stroke="#000" stroke-width="0.9" stroke-linejoin="round"/>
<polygon points="495.3,268.5 495.0,267.3 495.4,266.2 495.6,264.7 496.0,263.3 496.1,262.0 497.0,261.0 497.8,260.2 498.7,259.3 499.4,258.8 500.1,258.4 500.7,257.8 501.4,257.4 502.3,257.6 503.1,257.3 504.2,257.5 505.2,257.5 504.5,258.7 503.5,259.8 503.0,261.2 501.9,262.3 501.5,263.5 501.4,264.8 500.4,265.6 500.0,266.9 499.3,267.4 498.5,267.8 497.7,268.1 497.0,268.5 496.1,268.7" fill="#fddcaa" stroke="#000" stroke-width="0.9" stroke-linejoin="round"/>
<polygon points="434.2,254.8 433.8,253.3 434.3,252.2 434.6,251.1 435.5,250.0 436.6,249.2 437.3,248.6 438.0,247.9 438.7,247.2 439.2,246.4 439.6,247.4 440.0,248.3 441.0,248.4 442.0,248.8 441.5,249.7 441.0,250.6 440.1,251.0 439.4,251.8 439.0,253.3 438.0,254.5 436.7,255.2 435.4,255.7" fill="#fddcaa" stroke="#000" stroke-width="0.9" stroke-linejoin="round"/>
<polygon points="453.2,262.7 452.4,261.7 452.3,260.9 452.6,260.0 453.4,259.1 453.3,257.9 454.2,257.5 455.1,257.0 456.6,256.9 457.3,257.5 457.3,258.4 457.6,259.4 457.8,260.4 456.7,261.1 456.1,262.2 455.3,262.4 454.5,262.6" fill="#fddcaa" stroke="#000" stroke-width="0.9" stroke-linejoin="round"/>
<polygon points="499.9,262.3 501.0,261.6 501.2,260.3 501.8,259.5 502.5,258.8 503.4,257.9 504.5,257.3 505.6,257.1 506.8,256.9 507.9,257.2 509.0,257.3 508.9,258.2 509.0,259.2 508.5,259.8 507.7,260.2 507.0,260.7 506.2,260.9 505.3,261.5 504.3,262.0 503.5,262.3 502.7,262.8 502.1,263.4 501.2,263.6 500.4,263.1" fill="#fddcaa" stroke="#000" stroke-width="0.9" stroke-linejoin="round"/>
<polygon points="469.3,260.3 469.9,259.6 470.4,258.7 470.5,257.8 470.8,256.8 471.4,256.2 472.0,255.6 472.2,254.8 472.3,253.9 473.1,252.9 473.8,251.8 474.8,251.0 475.6,250.0 476.4,249.9 477.3,249.8 478.1,249.9 479.0,249.9 480.5,250.1 481.9,249.8 482.4,250.9 482.7,252.1 482.8,253.4 482.1,254.4 481.2,255.1 480.4,256.0 479.5,256.9 478.6,257.9 477.3,258.2 476.2,258.9 475.3,259.2 474.6,259.7 473.7,259.6 472.9,259.7 472.0,260.0 471.0,259.8 470.1,260.0" fill="#fddcaa" stroke="#000" stroke-width="0.9" stroke-linejoin="round"/>
<polygon points="438.9,254.0 438.4,253.0 438.6,251.6 439.0,250.2 439.5,249.2 440.4,248.6 441.0,247.8 441.4,246.8 442.1,245.8 442.9,245.0 443.2,243.8 443.9,242.9 444.8,242.3 445.9,241.9 445.8,242.9 445.9,244.0 445.0,244.6 444.7,245.6 444.4,247.1 443.6,248.4 443.6,249.4 443.1,250.3 442.6,251.1 442.2,252.0 441.5,252.7 440.9,253.4 440.3,254.2 439.7,255.0" fill="#fddcaa" stroke="#000" stroke-width="0.9" stroke-linejoin="round"/>
<polygon points="445.4,254.2 445.5,253.0 446.3,252.1 446.9,251.1 447.2,250.2 447.6,249.3 448.4,248.9 449.3,248.5 450.1,248.2 450.7,247.4 451.6,247.4 452.4,247.1 453.3,247.4 454.3,247.5 454.4,248.4 454.3,249.3 453.4,249.8 452.6,250.4 452.0,251.2 451.4,252.0 450.9,252.7 450.2,253.2 449.5,253.8 448.8,254.4 448.0,254.7 447.2,255.0 446.2,255.1 445.6,255.9 445.5,255.0" fill="#fddcaa" stroke="#000" stroke-width="0.9" stroke-linejoin="round"/>
<polygon points="490.5,264.2 489.8,263.4 488.8,263.1 488.8,262.0 488.4,260.9 488.5,259.7 489.4,258.8 490.5,258.9 491.3,258.2 492.2,258.4 493.1,258.1 494.0,258.5 494.8,259.0 495.3,260.1 495.5,261.3 494.6,262.1 494.0,263.1 493.1,263.5 492.2,263.7 491.4,264.2" fill="#fddcaa" stroke="#000" stroke-width="0.9" stroke-linejoin="round"/>
<polygon points="484.9,264.3 484.5,263.2 484.1,262.1 485.1,261.4 485.6,260.3 485.5,259.1 485.3,257.8 486.0,257.1 486.4,256.1 487.1,255.4 487.6,254.5 488.2,253.7 488.7,252.9 489.5,252.2 489.9,251.3 491.0,250.5 492.4,250.1 491.9,251.6 492.5,253.1 492.3,253.9 492.2,254.7 492.0,255.6 492.0,256.4 491.4,257.3 490.9,258.2 490.3,259.0 489.9,259.9 489.4,261.1 488.3,261.8 487.6,262.8 487.3,264.0 486.1,264.0" fill="#fddcaa" stroke="#000" stroke-width="0.9" stroke-linejoin="round"/>
<polygon points="455.9,266.1 456.8,265.2 456.9,263.9 457.6,262.5 458.5,261.2 459.3,260.1 460.6,259.3 461.8,258.6 463.2,258.0 464.2,258.1 465.3,258.1 466.3,257.8 467.3,257.4 467.3,258.4 467.7,259.2 467.6,260.2 467.1,261.1 465.9,262.0 465.1,263.3 464.0,263.9 463.2,264.9 462.7,266.2 461.3,266.5 459.9,265.8 458.4,266.2 457.2,265.8" fill="#fddcaa" stroke="#000" stroke-width="0.9" stroke-linejoin="round"/>
<polygon points="398.4,206.7 397.8,205.4 398.3,203.9 398.9,202.4 399.5,201.6 399.6,200.6 400.0,199.7 400.7,199.0 401.1,198.2 401.9,197.8 402.8,197.4 403.3,196.7 404.2,196.9 405.1,196.5 404.7,197.6 405.1,198.7 404.6,199.4 404.4,200.3 404.1,201.0 403.5,201.7 403.1,202.4 402.6,203.1 402.8,204.0 402.2,204.8 401.4,205.3 400.6,205.8 400.0,206.5 399.7,207.4" fill="#fddcaa" stroke="#000" stroke-width="0.9" stroke-linejoin="round"/>
<polygon points="415.3,240.3 414.6,239.6 414.2,238.7 414.7,237.7 415.6,237.1 415.7,236.0 416.0,235.1 416.6,234.4 417.3,234.0 417.5,233.1 418.1,232.4 419.3,231.3 420.4,230.2 421.6,230.2 422.6,229.6 422.7,230.7 423.1,231.7 423.2,232.6 423.1,233.5 422.7,234.3 422.0,234.8 421.3,235.4 420.7,236.2 420.4,237.0 420.0,237.9 418.7,238.3 417.7,239.2 416.4,239.3" fill="#fddcaa" stroke="#000" stroke-width="0.9" stroke-linejoin="round"/>
<polygon points="457.5,256.4 457.7,255.4 457.6,254.4 458.1,253.8 458.7,253.1 459.2,252.4 459.5,251.7 460.1,250.9 460.9,250.2 461.3,249.2 461.9,248.4 462.7,248.0 463.5,248.0 464.1,247.5 464.8,247.0 466.1,247.5 467.2,248.5 466.2,248.8 465.8,249.9 465.3,250.7 465.1,251.7 464.2,252.4 463.3,253.1 463.0,254.3 462.1,255.1 460.8,255.2 459.6,255.7 458.5,255.9" fill="#fddcaa" stroke="#000" stroke-width="0.9" stroke-linejoin="round"/>
<polygon points="457.8,267.9 458.2,266.9 458.6,265.9 459.6,265.6 460.5,264.9 461.3,263.9 461.6,262.7 462.5,262.2 463.6,261.8 464.4,261.0 465.4,260.6 466.3,259.9 467.1,259.1 468.2,258.9 469.2,258.3 470.2,258.1 471.3,258.3 470.3,258.5 469.9,259.3 469.8,260.2 469.3,260.9 468.3,261.8 467.7,263.1 467.0,263.9 466.3,264.8 465.2,264.8 464.2,265.3 463.1,265.9 462.0,266.7 461.2,267.7 459.9,268.1 458.8,268.2" fill="#fddcaa" stroke="#000" stroke-width="0.9" stroke-linejoin="round"/>
<polygon points="371.6,205.8 372.0,204.9 371.4,204.1 372.0,203.4 372.7,202.7 373.6,202.4 374.3,201.7 375.0,201.0 375.8,200.2 376.9,200.0 377.9,199.5 379.2,200.0 380.6,199.6 381.1,200.8 380.8,202.1 380.7,203.2 380.3,204.2 379.4,204.7 378.4,204.8 377.5,205.2 376.5,205.4 375.8,206.0 375.0,206.6 374.0,206.6 373.0,206.7 372.4,206.1" fill="#fddcaa" stroke="#000" stroke-width="0.9" stroke-linejoin="round"/>
<polygon points="460.4,263.4 460.0,262.5 460.8,261.2 461.9,260.1 462.9,259.5 463.9,258.7 465.0,258.2 465.9,257.3 467.2,256.5 468.7,256.4 470.1,256.1 471.5,255.6 470.6,256.8 469.6,258.0 468.7,259.2 467.8,260.3 466.8,260.7 466.0,261.2 465.1,261.7 464.3,262.3 463.3,263.0 462.2,263.8 461.1,264.4 460.1,265.1 459.9,264.2" fill="#fddcaa" stroke="#000" stroke-width="0.9" stroke-linejoin="round"/>
<polygon points="367.6,195.9 367.4,195.0 367.2,194.2 366.9,192.8 367.1,191.5 368.0,191.3 368.9,190.9 369.5,190.1 370.0,189.3 370.8,188.3 372.1,187.6 373.3,187.2 374.4,186.7 374.5,187.9 374.4,189.1 373.8,190.3 373.3,191.7 372.6,192.3 372.1,193.1 372.3,194.1 371.9,195.0 370.6,195.3 369.4,196.0 368.5,195.7" fill="#fddcaa" stroke="#000" stroke-width="0.9" stroke-linejoin="round"/>
<polygon points="413.5,218.1 413.3,217.0 413.2,215.9 412.7,215.1 412.8,214.1 413.4,212.8 414.0,211.6 414.5,210.4 415.5,209.6 416.2,208.8 417.3,208.5 417.9,209.4 418.0,210.4 418.1,211.7 418.2,212.9 417.4,214.1 416.5,215.3 415.6,215.8 415.2,216.9 414.4,217.5" fill="#fddcaa" stroke="#000" stroke-width="0.9" stroke-linejoin="round"/>
<polygon points="486.2,267.7 486.2,266.7 486.2,265.7 486.0,264.5 486.1,263.3 486.9,262.6 487.7,261.8 488.2,260.8 488.8,259.9 490.2,259.3 491.6,258.6 492.7,258.4 493.9,258.3 494.4,259.2 494.3,260.3 494.2,261.2 493.6,261.8 493.2,262.6 493.3,263.5 492.7,264.4 492.0,265.1 491.2,265.6 490.3,266.0 489.5,266.5 489.1,267.4 488.4,268.0 487.6,268.4 486.9,268.1" fill="#fddcaa" stroke="#000" stroke-width="0.9" stroke-linejoin="round"/>
<polygon points="417.5,235.9 416.3,235.7 415.2,235.6 414.8,234.9 414.6,234.1 415.0,233.4 415.4,232.6 415.9,231.2 417.2,230.4 418.0,229.6 419.1,229.5 419.9,229.3 420.8,229.3 421.4,229.9 421.8,230.7 422.3,231.7 422.7,232.8 422.2,234.3 420.8,235.0 420.1,236.0 419.0,236.8 418.0,236.7" fill="#fddcaa" stroke="#000" stroke-width="0.9" stroke-linejoin="round"/>
<polygon points="433.4,250.4 433.6,248.8 434.0,248.1 434.6,247.5 435.2,246.8 436.0,246.6 437.0,246.2 438.1,246.2 439.1,246.1 440.1,245.8 441.6,245.5 443.1,245.2 444.6,245.0 446.1,245.2 445.7,246.1 445.5,247.1 444.4,247.6 444.0,248.7 443.0,248.8 441.9,249.2 440.9,249.8 439.9,250.3 438.9,250.9 437.9,251.4 436.9,251.5 436.3,252.1 435.6,251.4 434.6,251.4" fill="#fddcaa" stroke="#000" stroke-width="0.9" stroke-linejoin="round"/>
<polygon points="390.7,208.4 391.3,207.5 391.5,206.4 391.6,205.5 392.1,204.8 393.0,204.7 393.7,204.2 394.1,203.3 394.7,202.5 395.8,202.4 396.6,201.7 397.8,201.8 399.0,201.8 399.9,201.8 400.7,202.0 401.1,202.8 401.8,203.2 400.8,203.6 399.9,204.1 399.1,204.8 398.5,205.7 397.9,206.3 397.1,206.7 396.4,207.2 395.7,207.8 394.6,207.7 393.5,207.8 392.2,208.3" fill="#fddcaa" stroke="#000" stroke-width="0.9" stroke-linejoin="round"/>
<polygon points="400.1,210.0 400.0,208.9 400.4,208.0 400.6,207.1 400.9,206.2 401.8,205.4 402.6,204.4 403.6,203.3 404.7,202.3 406.0,202.8 406.6,204.0 405.9,205.2 405.3,206.4 404.3,207.2 403.7,208.4 402.8,208.9 401.9,209.3 401.0,209.7" fill="#fddcaa" stroke="#000" stroke-width="0.9" stroke-linejoin="round"/>
<polygon points="420.7,240.3 420.2,238.9 420.8,238.0 421.1,237.0 422.0,236.0 423.1,235.3 424.2,235.3 425.2,235.0 426.0,235.3 426.8,235.6 427.5,236.3 428.1,237.0 427.5,238.4 426.4,239.4 425.1,240.0 424.0,240.7 423.0,240.9 422.0,240.9" fill="#fddcaa" stroke="#000" stroke-width="0.9" stroke-linejoin="round"/>
<polygon points="376.4,212.0 376.2,210.9 376.1,209.8 377.0,208.9 376.8,207.6 377.6,206.5 378.4,205.4 379.4,204.3 380.9,204.1 381.0,205.1 381.8,205.9 382.4,207.1 382.1,208.0 381.6,208.9 381.1,210.1 380.9,211.5 379.9,211.2 378.8,211.0 377.8,212.0" fill="#fddcaa" stroke="#000" stroke-width="0.9" stroke-linejoin="round"/>
<polygon points="460.3,252.6 460.1,251.1 460.9,249.8 462.3,249.0 463.5,248.6 464.2,247.4 465.3,247.1 466.3,246.7 467.1,246.7 468.0,246.9 467.6,247.7 467.3,248.6 467.2,249.7 466.3,250.3 465.6,251.6 464.4,252.5 463.3,253.0 462.1,252.8 461.2,252.7" fill="#fddcaa" stroke="#000" stroke-width="0.9" stroke-linejoin="round"/>
<polygon points="404.2,216.3 402.7,216.0 403.1,215.2 403.7,214.5 404.0,213.6 404.4,212.8 405.3,211.7 405.7,210.4 406.5,209.7 407.3,209.1 408.2,208.4 409.2,207.9 409.4,208.8 409.4,209.7 409.3,210.9 409.2,212.0 409.2,213.0 408.5,213.8 407.9,214.5 407.5,215.3 406.6,215.8 405.6,215.8" fill="#fddcaa" stroke="#000" stroke-width="0.9" stroke-linejoin="round"/>
<polygon points="399.7,225.5 399.5,224.5 399.8,223.6 400.9,223.4 402.0,223.1 402.8,222.3 403.3,221.3 404.4,221.1 405.3,220.5 406.2,219.9 407.2,219.4 408.6,219.6 410.0,219.4 411.3,220.2 410.9,221.7 409.4,222.2 409.1,223.8 408.0,224.3 406.9,223.9 406.1,224.7 405.2,225.4 404.1,225.4 403.1,225.1 402.2,225.1 401.4,225.4 400.6,225.7" fill="#fddcaa" stroke="#000" stroke-width="0.9" stroke-linejoin="round"/>
<polygon points="406.6,211.7 406.8,210.8 407.3,210.2 407.8,209.5 407.8,208.7 408.0,207.5 408.4,206.4 408.6,205.5 409.4,205.0 410.2,204.7 410.9,204.3 411.7,204.0 412.5,203.7 413.3,203.3 414.1,203.1 414.6,204.2 415.0,205.3 415.3,206.2 415.5,207.0 415.1,208.3 414.2,209.2 413.6,209.8 413.3,210.7 412.6,211.2 412.3,212.1 410.9,212.1 409.6,211.5 408.1,211.4" fill="#fddcaa" stroke="#000" stroke-width="0.9" stroke-linejoin="round"/>
<polygon points="483.0,275.2 482.1,274.7 481.6,274.0 482.8,273.1 484.3,272.4 485.3,272.0 486.2,271.4 487.1,271.3 487.8,270.9 488.4,270.3 489.2,270.0 490.0,270.6 489.9,271.6 490.1,273.2 489.5,274.3 488.6,275.2 487.1,275.7 485.9,276.6 485.1,276.0 484.1,275.8" fill="#fddcaa" stroke="#000" stroke-width="0.9" stroke-linejoin="round"/>
<polygon points="425.5,240.5 425.9,239.3 426.8,238.5 427.8,238.0 428.6,237.1 429.6,236.4 430.8,236.3 431.7,235.6 432.7,235.0 433.9,235.0 435.1,234.5 436.0,234.4 436.9,234.0 437.8,234.0 438.7,233.9 439.7,234.4 440.9,234.3 440.6,235.1 440.4,235.9 439.5,236.8 438.3,237.5 437.1,238.0 435.7,237.9 434.7,238.3 433.7,238.9 432.7,239.5 431.9,240.3 430.4,240.2 428.8,240.3 428.0,240.8 427.1,240.8 426.4,240.4" fill="#fddcaa" stroke="#000" stroke-width="0.9" stroke-linejoin="round"/>
<polygon points="451.5,259.6 450.6,259.1 449.7,258.9 450.8,257.9 451.1,256.4 452.3,255.7 452.9,254.5 454.1,254.3 455.1,253.5 456.4,254.4 457.0,254.9 457.6,255.5 457.5,256.8 457.0,258.0 456.2,258.2 455.5,258.7 455.1,259.4 454.9,260.2 453.8,260.9 452.6,260.8" fill="#fddcaa" stroke="#000" stroke-width="0.9" stroke-linejoin="round"/>
<polygon points="438.2,249.1 437.5,248.2 436.5,247.7 437.5,246.6 438.8,246.0 439.4,244.8 440.3,244.0 441.5,244.2 442.6,244.1 443.9,244.2 445.0,244.6 445.3,245.7 445.3,246.9 444.4,248.0 443.2,248.8 442.0,249.4 441.5,250.8 440.5,250.3 439.5,249.9" fill="#fddcaa" stroke="#000" stroke-width="0.9" stroke-linejoin="round"/>
<polygon points="501.2,260.5 500.7,259.8 499.9,259.3 500.7,258.6 501.3,257.6 502.3,257.4 503.1,256.8 504.1,256.8 504.9,256.5 506.2,257.4 506.8,258.1 507.5,258.8 506.1,259.1 505.2,260.3 504.9,261.4 504.0,262.3 502.7,261.9 501.5,262.6 501.4,261.5" fill="#fddcaa" stroke="#000" stroke-width="0.9" stroke-linejoin="round"/>
<polygon points="504.1,274.0 503.7,273.3 503.6,272.4 504.5,271.8 505.5,271.5 506.3,270.8 506.7,269.7 507.8,269.1 508.6,268.3 509.3,267.2 510.2,266.5 511.7,266.6 513.1,266.6 514.0,266.8 514.9,267.1 516.0,267.5 517.1,268.1 515.9,268.8 514.8,269.5 513.9,270.4 513.1,271.4 511.9,271.9 511.1,272.9 510.0,273.3 509.0,274.1 508.0,274.3 507.1,274.8 506.2,275.3 505.2,275.3 504.6,274.6" fill="#fddcaa" stroke="#000" stroke-width="0.9" stroke-linejoin="round"/>
<polygon points="503.4,265.6 503.4,264.5 503.8,263.6 503.6,262.7 503.7,261.7 504.2,261.1 504.5,260.3 505.0,259.6 505.7,259.2 506.8,259.3 507.9,259.4 509.1,259.3 510.3,258.8 510.5,260.0 509.9,261.1 510.1,262.3 509.3,263.2 508.3,264.4 507.2,265.4 506.2,266.3 504.9,266.1 504.3,265.4" fill="#fddcaa" stroke="#000" stroke-width="0.9" stroke-linejoin="round"/>
<polygon points="491.1,259.1 490.7,257.7 491.3,257.1 491.7,256.4 491.8,255.6 492.2,254.9 493.0,254.3 493.9,254.0 494.8,253.5 495.1,252.6 496.2,251.9 497.3,251.5 498.4,251.8 498.4,253.1 497.8,254.0 497.3,255.0 496.7,255.6 496.1,256.1 495.7,256.9 495.3,257.5 494.5,257.8 493.7,258.1 493.1,258.7 492.6,259.3" fill="#fddcaa" stroke="#000" stroke-width="0.9" stroke-linejoin="round"/>
<polygon points="486.7,275.6 485.6,274.7 486.4,273.7 487.2,272.7 487.5,271.5 488.4,270.5 488.8,269.4 489.7,268.6 490.0,267.4 491.0,266.7 491.7,265.9 492.6,265.5 493.7,265.1 494.1,264.1 495.2,263.9 496.3,263.6 495.6,264.7 495.9,266.1 495.1,266.7 494.7,267.6 494.4,268.5 494.4,269.4 493.6,270.5 492.8,271.5 492.1,272.6 491.3,273.6 490.0,274.5 488.5,275.1 487.6,275.3" fill="#fddcaa" stroke="#000" stroke-width="0.9" stroke-linejoin="round"/>
<polygon points="368.7,201.0 369.1,199.6 369.8,198.4 371.0,197.5 371.4,196.1 371.9,195.2 372.4,194.3 373.1,193.5 374.0,192.9 374.8,192.4 375.7,192.4 376.5,192.1 377.2,191.5 378.4,191.3 379.6,191.3 378.9,192.5 378.9,193.8 378.3,194.4 377.9,195.1 377.3,195.8 377.3,196.6 376.5,197.3 375.8,198.1 374.9,198.5 373.9,198.8 373.3,199.4 372.7,200.1 371.9,200.4 371.0,200.6 369.9,201.1" fill="#fddcaa" stroke="#000" stroke-width="0.9" stroke-linejoin="round"/>
<polygon points="498.7,276.4 497.7,275.6 496.5,275.1 497.4,274.7 498.3,274.2 498.7,273.3 499.5,272.8 500.5,271.7 501.4,270.6 502.6,270.2 503.9,270.5 505.2,270.6 506.6,270.6 507.2,271.7 507.6,272.8 506.8,273.3 506.0,273.9 505.4,274.6 504.8,275.4 503.9,275.7 503.2,276.2 503.2,277.1 502.6,277.9 501.1,278.0 499.6,278.3 499.0,277.5" fill="#fddcaa" stroke="#000" stroke-width="0.9" stroke-linejoin="round"/>
<polygon points="498.7,275.7 498.6,274.4 498.5,273.0 498.4,271.9 498.8,270.7 499.5,269.7 500.7,269.2 501.7,269.6 502.8,269.6 503.6,270.1 504.5,270.3 505.3,271.0 505.4,272.0 505.3,273.1 505.1,274.1 504.9,275.4 503.7,275.9 502.5,276.3 501.3,276.2 500.1,275.7" fill="#fddcaa" stroke="#000" stroke-width="0.9" stroke-linejoin="round"/>
<polygon points="456.8,253.6 456.5,252.7 456.0,251.7 456.3,250.9 456.5,250.1 456.9,249.4 457.3,248.6 457.7,247.5 458.3,246.5 459.3,246.0 460.4,245.4 461.3,245.5 462.1,246.1 462.9,245.8 463.6,245.0 464.4,245.8 465.5,245.8 465.9,246.8 466.3,247.8 466.0,248.6 465.7,249.4 465.6,250.2 465.4,251.0 464.5,251.7 463.4,252.0 462.6,252.8 461.8,253.6 460.9,253.6 460.0,253.9 459.2,254.4 458.4,255.0 457.5,254.4" fill="#fddcaa" stroke="#000" stroke-width="0.9" stroke-linejoin="round"/>
<polygon points="472.4,269.7 472.3,268.4 471.9,267.1 471.9,265.6 472.1,264.1 472.7,263.3 473.2,262.4 473.5,261.4 474.3,260.6 475.7,260.7 477.2,260.8 477.9,260.3 478.7,259.9 479.5,259.6 480.4,259.4 480.1,260.3 480.2,261.1 480.3,262.0 480.1,262.8 480.4,264.3 480.9,265.7 479.9,266.1 478.9,266.5 478.4,267.4 477.8,268.3 476.5,268.6 475.2,269.0 473.8,269.2" fill="#fddcaa" stroke="#000" stroke-width="0.9" stroke-linejoin="round"/>
<polygon points="458.7,262.9 459.0,262.0 459.2,261.0 459.2,259.5 460.1,258.6 460.5,257.3 461.4,257.3 462.3,257.2 463.8,257.0 464.8,258.1 463.8,259.0 463.1,260.2 462.7,261.1 462.0,261.8 460.5,262.3 459.7,262.6" fill="#fddcaa" stroke="#000" stroke-width="0.9" stroke-linejoin="round"/>
<polygon points="416.2,222.7 415.5,221.8 416.2,221.2 416.4,220.4 417.0,219.8 417.5,219.2 418.5,218.1 419.3,216.8 420.5,216.5 421.4,215.6 423.0,215.5 422.8,217.1 422.2,218.1 421.6,219.2 420.9,220.5 419.7,221.3 418.3,222.0 417.3,223.2" fill="#fddcaa" stroke="#000" stroke-width="0.9" stroke-linejoin="round"/>
<polygon points="466.6,263.8 466.4,263.0 466.2,262.1 466.4,261.1 466.5,260.1 467.3,259.2 467.9,258.1 468.8,257.9 469.8,258.0 470.6,258.0 471.4,257.9 471.5,258.8 471.6,259.6 471.9,260.5 471.8,261.3 471.6,262.7 470.5,263.6 469.5,264.0 468.4,264.0 467.5,264.0" fill="#fddcaa" stroke="#000" stroke-width="0.9" stroke-linejoin="round"/>
<polygon points="374.6,211.0 374.7,209.7 374.9,208.9 375.3,208.2 376.3,207.5 376.9,206.6 378.1,206.6 379.1,206.0 380.0,206.2 381.0,206.3 381.2,207.2 380.9,208.1 380.7,209.3 379.9,210.2 378.5,210.6 377.6,211.7 376.6,211.9 375.6,212.0" fill="#fddcaa" stroke="#000" stroke-width="0.9" stroke-linejoin="round"/>
<polygon points="389.1,203.5 388.8,202.5 388.6,201.5 389.0,200.2 389.6,198.9 390.5,197.6 390.1,196.1 390.9,194.9 392.1,194.2 392.5,195.0 393.1,195.6 394.0,195.4 394.9,195.5 394.4,197.0 393.8,198.4 393.3,199.8 393.0,201.3 392.3,202.3 391.0,202.7 390.0,202.9" fill="#fddcaa" stroke="#000" stroke-width="0.9" stroke-linejoin="round"/>
<polygon points="367.2,192.8 367.6,191.9 367.8,191.0 369.1,190.7 369.5,189.3 371.1,189.0 372.2,188.0 373.2,188.1 374.1,188.5 375.1,188.6 376.0,188.8 375.7,189.7 375.0,190.4 374.5,191.3 374.2,192.2 372.7,192.4 371.4,193.0 370.3,193.0 369.3,193.1 368.2,192.7" fill="#fddcaa" stroke="#000" stroke-width="0.9" stroke-linejoin="round"/>
<polygon points="404.4,220.7 404.5,219.5 404.9,218.3 405.8,217.0 406.1,215.5 407.2,215.1 408.2,214.5 409.2,214.1 410.1,213.5 411.1,213.5 412.0,213.5 412.9,213.3 413.8,213.0 414.3,213.9 414.7,214.9 415.5,215.7 416.0,216.7 415.5,217.6 414.9,218.2 414.6,219.2 413.9,219.8 412.8,220.2 411.8,220.7 410.6,220.8 409.7,221.6 408.4,221.1 407.0,221.1 405.7,220.6" fill="#fddcaa" stroke="#000" stroke-width="0.9" stroke-linejoin="round"/>
<polygon points="481.4,274.0 480.7,273.3 479.9,272.7 480.2,271.9 480.6,271.2 481.1,270.5 481.0,269.7 481.7,269.0 482.3,268.3 482.5,267.4 483.5,267.0 484.2,266.6 485.0,266.2 485.8,265.9 486.6,265.5 487.2,266.4 488.1,267.1 488.3,268.2 489.2,268.7 488.8,269.4 488.2,270.1 488.0,270.9 487.2,271.4 486.6,272.5 485.4,273.2 484.8,273.9 484.3,274.7 483.3,275.1 482.7,275.9 482.1,275.0" fill="#fddcaa" stroke="#000" stroke-width="0.9" stroke-linejoin="round"/>
<polygon points="454.9,250.7 454.8,249.9 454.8,249.1 455.1,248.1 455.1,247.2 456.1,246.3 456.9,245.4 458.0,245.0 458.5,244.0 459.6,243.3 460.7,242.6 460.2,244.0 459.9,245.4 460.1,246.3 460.3,247.2 459.5,248.5 458.2,249.5 457.2,250.1 456.3,251.0" fill="#fddcaa" stroke="#000" stroke-width="0.9" stroke-linejoin="round"/>
<polygon points="432.5,236.3 431.6,235.1 431.0,233.7 431.9,232.6 432.4,231.3 431.8,230.0 431.5,228.6 432.1,227.3 432.5,225.8 433.1,224.5 433.6,223.1 434.7,222.4 435.3,221.3 435.8,220.2 436.7,219.4 437.5,218.8 438.5,218.8 439.1,218.0 439.9,217.4 440.0,218.3 440.2,219.1 440.9,219.7 441.5,220.3 441.2,221.8 441.2,223.4 440.2,224.7 439.7,226.1 440.0,227.5 440.1,229.0 439.3,230.2 438.5,231.3 437.5,231.1 436.6,231.4 436.1,232.1 435.6,232.9 434.9,233.8 434.3,234.9 433.4,235.7" fill="#fddcaa" stroke="#000" stroke-width="0.9" stroke-linejoin="round"/>
<polygon points="395.5,211.7 395.1,210.8 395.1,209.8 395.6,209.0 396.3,208.4 397.1,208.1 398.0,208.0 399.5,207.6 400.8,207.0 402.0,207.0 403.1,206.7 404.1,206.1 405.1,205.4 405.4,206.7 405.9,207.8 405.0,208.8 404.7,210.0 403.5,211.0 403.5,212.5 402.7,213.2 401.6,213.7 400.7,214.3 399.6,214.6 399.2,213.9 398.8,213.1 397.9,212.9 397.0,213.0 396.1,212.6" fill="#fddcaa" stroke="#000" stroke-width="0.9" stroke-linejoin="round"/>
<polygon points="384.8,192.2 384.6,191.2 384.0,190.3 383.9,188.9 383.7,187.5 384.2,186.4 383.9,185.3 384.7,184.6 385.4,183.7 386.3,183.2 387.0,182.4 387.3,181.4 388.2,180.7 389.5,180.1 390.9,180.1 390.5,180.9 390.1,181.9 390.9,182.5 391.2,183.5 391.3,185.1 391.3,186.7 390.9,187.6 390.3,188.4 389.6,189.1 389.0,189.8 388.4,190.3 388.0,191.1 387.4,191.7 386.8,192.1 385.8,192.2" fill="#fddcaa" stroke="#000" stroke-width="0.9" stroke-linejoin="round"/>
<polygon points="480.8,257.7 481.3,256.5 480.7,255.4 480.5,254.0 480.7,252.7 481.3,251.8 482.4,251.6 482.7,250.6 483.2,249.6 484.0,249.7 484.9,249.6 485.3,248.9 485.9,248.3 487.0,248.2 488.1,248.5 489.1,249.0 489.7,250.0 489.1,250.8 488.4,251.5 488.0,252.5 487.8,253.5 487.4,254.3 487.0,255.2 486.4,256.0 485.7,256.5 484.4,257.0 483.1,257.5 481.9,257.4" fill="#fddcaa" stroke="#000" stroke-width="0.9" stroke-linejoin="round"/>
<polygon points="478.4,272.7 477.7,272.0 477.4,271.0 477.8,270.2 478.3,269.5 479.0,268.8 479.5,268.1 479.7,267.3 480.3,266.6 480.6,265.9 481.1,265.2 482.2,264.3 483.6,264.5 484.5,264.5 485.3,264.9 485.4,265.8 485.8,266.6 485.4,267.8 485.0,269.1 483.9,270.2 482.9,271.4 482.2,271.9 481.5,272.6 481.0,273.4 480.1,273.7 479.3,273.1" fill="#fddcaa" stroke="#000" stroke-width="0.9" stroke-linejoin="round"/>
<polygon points="393.7,218.8 392.6,218.3 391.7,217.7 391.8,216.6 391.9,215.5 392.3,214.4 392.8,213.4 393.8,212.5 394.6,211.4 394.7,210.1 395.4,208.9 396.2,208.6 397.0,208.5 397.7,208.0 398.4,207.6 399.1,206.9 399.9,206.4 400.8,206.0 401.7,205.7 401.7,206.7 401.7,207.7 401.3,208.7 401.0,209.7 401.1,211.2 401.2,212.7 400.7,213.7 399.9,214.5 399.4,215.4 398.5,216.1 397.7,216.9 397.2,217.8 396.3,218.5 395.7,219.4 394.7,219.0" fill="#fddcaa" stroke="#000" stroke-width="0.9" stroke-linejoin="round"/>
<polygon points="421.3,229.6 421.2,228.7 421.3,227.8 421.8,226.7 421.9,225.4 422.6,224.6 423.3,223.6 423.8,222.6 424.0,221.4 424.9,221.6 425.6,221.0 426.1,220.4 426.5,219.7 427.5,219.0 428.6,218.7 428.5,220.0 428.0,221.3 427.7,222.7 427.3,224.0 426.8,225.0 425.8,225.6 425.4,226.6 424.8,227.5 423.7,228.2 422.7,229.1" fill="#fddcaa" stroke="#000" stroke-width="0.9" stroke-linejoin="round"/>
<polygon points="497.2,275.8 496.6,275.0 496.2,274.1 497.0,272.9 498.1,272.0 499.3,271.3 500.6,271.1 501.7,270.9 502.8,271.0 503.5,271.6 504.3,272.0 504.3,272.9 504.6,273.8 504.1,275.0 504.0,276.3 503.2,276.7 502.4,277.1 501.7,277.6 501.0,278.0 500.1,278.3 499.3,278.1 498.5,278.3 497.6,278.3 497.5,277.1" fill="#fddcaa" stroke="#000" stroke-width="0.9" stroke-linejoin="round"/>
<polygon points="471.9,261.3 471.7,260.1 471.5,258.9 472.1,257.6 472.5,256.3 473.7,255.4 474.9,254.5 475.9,255.1 477.2,255.4 478.5,255.1 479.8,255.3 479.6,256.5 479.5,257.8 479.1,258.9 478.9,260.0 478.0,261.1 476.9,262.0 475.5,262.5 474.0,262.7 472.9,262.2" fill="#fddcaa" stroke="#000" stroke-width="0.9" stroke-linejoin="round"/>
<polygon points="468.4,267.9 468.1,266.7 467.7,265.5 467.9,264.5 468.2,263.5 468.6,262.6 468.7,261.6 469.2,260.6 469.8,259.6 469.6,258.5 469.8,257.4 471.0,256.6 472.0,255.4 473.1,256.2 473.9,255.8 474.8,255.9 474.2,256.7 474.2,257.7 474.1,258.7 473.9,259.6 474.1,260.7 473.9,261.7 473.2,262.5 472.7,263.4 471.7,264.2 470.8,265.1 470.2,265.9 469.5,266.4 468.9,267.2" fill="#fddcaa" stroke="#000" stroke-width="0.9" stroke-linejoin="round"/>
<polygon points="444.9,257.0 444.7,255.8 445.4,254.9 445.8,253.8 446.5,253.2 447.0,252.5 447.5,251.8 448.0,251.1 449.1,251.0 450.1,250.6 451.2,250.4 452.2,250.0 452.5,251.4 451.7,252.0 451.3,252.8 450.6,253.3 450.1,254.1 448.7,254.7 448.1,256.2 447.4,256.7 446.9,257.4 446.2,257.8 445.4,258.1" fill="#fddcaa" stroke="#000" stroke-width="0.9" stroke-linejoin="round"/>
<polygon points="473.9,270.7 473.9,269.6 475.1,268.7 476.1,267.6 477.4,267.6 478.6,267.2 479.6,266.4 480.7,265.8 481.6,265.7 482.4,265.4 483.2,265.2 484.1,265.2 485.6,265.3 487.0,265.1 486.4,266.3 485.4,267.0 484.5,267.7 483.5,268.1 482.4,268.4 481.5,269.0 480.6,269.5 480.1,270.3 479.1,270.1 478.2,270.3 476.8,271.0 475.2,271.0" fill="#fddcaa" stroke="#000" stroke-width="0.9" stroke-linejoin="round"/>
<polygon points="413.3,213.3 412.9,212.5 412.5,211.8 413.4,211.0 414.0,210.0 414.6,208.8 415.2,207.7 416.2,207.9 417.2,207.8 418.2,208.1 419.3,207.7 419.5,208.6 420.0,209.4 419.5,210.7 418.6,211.7 418.0,213.0 416.9,213.8 416.0,213.4 415.0,213.2 414.2,213.1" fill="#fddcaa" stroke="#000" stroke-width="0.9" stroke-linejoin="round"/>
<polygon points="433.2,251.4 432.8,250.5 432.7,249.6 432.4,248.0 433.2,246.6 433.8,245.9 434.2,245.0 434.6,244.1 434.7,243.2 435.4,242.6 436.1,242.0 436.4,241.2 436.6,240.3 437.7,240.9 438.2,242.1 437.9,243.4 438.6,244.4 438.0,245.2 437.3,245.9 436.7,246.7 436.5,247.7 436.3,248.6 436.3,249.5 435.5,250.0 434.7,250.5 434.0,251.0" fill="#fddcaa" stroke="#000" stroke-width="0.9" stroke-linejoin="round"/>
<polygon points="494.9,279.9 494.0,279.6 493.8,278.6 495.0,277.8 495.5,276.3 496.3,275.8 496.9,275.1 497.7,274.6 498.4,273.9 499.2,273.6 500.0,273.6 500.8,273.3 501.6,273.4 502.0,274.3 502.6,275.1 502.7,276.1 503.6,276.7 502.9,277.3 502.2,277.8 501.5,278.5 500.7,278.8 499.9,279.1 499.0,279.1 498.5,279.8 498.3,280.6 497.6,281.1 496.8,281.5 495.8,281.6 495.0,282.0 495.3,280.9" fill="#fddcaa" stroke="#000" stroke-width="0.9" stroke-linejoin="round"/>
<polygon points="502.6,265.9 501.5,265.6 500.5,265.2 500.3,264.5 500.1,263.7 500.3,262.9 500.6,262.1 501.6,260.9 502.5,259.6 502.8,258.7 503.4,257.9 503.9,257.1 504.4,256.2 505.4,257.2 506.2,258.3 507.0,258.8 507.6,259.5 508.3,260.7 508.7,262.0 507.9,262.6 507.6,263.5 507.0,264.2 506.9,265.2 506.5,266.1 505.6,266.4 505.0,267.1 504.4,267.8 503.4,266.9" fill="#fddcaa" stroke="#000" stroke-width="0.9" stroke-linejoin="round"/>
<polyline points="408.5,171.4 409.4,172.0 409.4,173.1 409.7,174.0 410.3,174.8 411.4,175.0 412.3,174.2 413.2,174.7 414.1,175.3" fill="none" stroke="#000" stroke-width="2.3" stroke-linejoin="round" stroke-linecap="round"/>
<polyline points="408.5,171.4 409.4,172.0 409.4,173.1 409.7,174.0 410.3,174.8 411.4,175.0 412.3,174.2 413.2,174.7 414.1,175.3" fill="none" stroke="#fff" stroke-width="0.9" stroke-linejoin="round" stroke-linecap="round"/>
<polyline points="403.4,156.3 403.2,157.1 403.1,157.9 403.7,158.4 404.0,159.2 404.7,159.7 404.6,160.5 405.0,161.2 405.5,161.7 406.3,162.2 407.1,162.2 407.9,161.7 408.5,161.1 409.3,161.3 410.0,161.1 410.6,161.7 411.3,162.1" fill="none" stroke="#000" stroke-width="2.3" stroke-linejoin="round" stroke-linecap="round"/>
<polyline points="403.4,156.3 403.2,157.1 403.1,157.9 403.7,158.4 404.0,159.2 404.7,159.7 404.6,160.5 405.0,161.2 405.5,161.7 406.3,162.2 407.1,162.2 407.9,161.7 408.5,161.1 409.3,161.3 410.0,161.1 410.6,161.7 411.3,162.1" fill="none" stroke="#fff" stroke-width="0.9" stroke-linejoin="round" stroke-linecap="round"/>
<polyline points="395.8,151.8 395.8,152.6 396.6,153.0 396.1,153.6 396.1,154.3 396.8,154.3 397.3,154.7 398.0,155.0 398.3,155.7 399.0,156.1 399.9,156.1 399.7,156.9 399.6,157.7 400.2,157.7 400.8,157.9 401.4,158.2 401.8,158.6" fill="none" stroke="#000" stroke-width="2.3" stroke-linejoin="round" stroke-linecap="round"/>
<polyline points="395.8,151.8 395.8,152.6 396.6,153.0 396.1,153.6 396.1,154.3 396.8,154.3 397.3,154.7 398.0,155.0 398.3,155.7 399.0,156.1 399.9,156.1 399.7,156.9 399.6,157.7 400.2,157.7 400.8,157.9 401.4,158.2 401.8,158.6" fill="none" stroke="#fff" stroke-width="0.9" stroke-linejoin="round" stroke-linecap="round"/>
<polyline points="415.4,160.4 416.0,160.6 416.5,161.0 417.1,161.0 417.8,161.0 418.0,161.7 418.8,161.7 419.4,161.8 420.0,162.0 420.5,162.2 421.1,162.5 421.7,162.6 422.2,163.0 422.6,163.6 422.8,164.3 423.5,164.2 424.2,164.3" fill="none" stroke="#000" stroke-width="2.3" stroke-linejoin="round" stroke-linecap="round"/>
<polyline points="415.4,160.4 416.0,160.6 416.5,161.0 417.1,161.0 417.8,161.0 418.0,161.7 418.8,161.7 419.4,161.8 420.0,162.0 420.5,162.2 421.1,162.5 421.7,162.6 422.2,163.0 422.6,163.6 422.8,164.3 423.5,164.2 424.2,164.3" fill="none" stroke="#fff" stroke-width="0.9" stroke-linejoin="round" stroke-linecap="round"/>
<polyline points="375.2,155.4 375.9,155.8 376.2,156.6 376.6,157.4 377.3,157.8 377.6,158.8 378.6,158.7 379.3,159.2 379.8,159.7 380.1,158.6 381.2,158.2 382.1,158.8 383.1,158.9 384.0,159.0 384.6,159.7 385.5,159.6 386.2,160.2" fill="none" stroke="#000" stroke-width="2.3" stroke-linejoin="round" stroke-linecap="round"/>
<polyline points="375.2,155.4 375.9,155.8 376.2,156.6 376.6,157.4 377.3,157.8 377.6,158.8 378.6,158.7 379.3,159.2 379.8,159.7 380.1,158.6 381.2,158.2 382.1,158.8 383.1,158.9 384.0,159.0 384.6,159.7 385.5,159.6 386.2,160.2" fill="none" stroke="#fff" stroke-width="0.9" stroke-linejoin="round" stroke-linecap="round"/>
<polyline points="377.7,144.2 378.7,144.5 379.7,144.8 379.8,145.8 380.0,146.7 380.5,147.5 381.3,147.9 381.9,148.6 382.8,148.8" fill="none" stroke="#000" stroke-width="2.3" stroke-linejoin="round" stroke-linecap="round"/>
<polyline points="377.7,144.2 378.7,144.5 379.7,144.8 379.8,145.8 380.0,146.7 380.5,147.5 381.3,147.9 381.9,148.6 382.8,148.8" fill="none" stroke="#fff" stroke-width="0.9" stroke-linejoin="round" stroke-linecap="round"/>
<polyline points="373.9,150.5 374.4,151.2 374.4,152.0 375.1,152.4 375.7,152.9 376.5,153.3 377.1,153.8 377.9,153.7 378.7,153.6 379.3,154.1 380.0,154.4 380.7,154.4 381.4,154.7 382.4,154.4 383.0,155.3 383.0,156.1 383.5,156.8" fill="none" stroke="#000" stroke-width="2.3" stroke-linejoin="round" stroke-linecap="round"/>
<polyline points="373.9,150.5 374.4,151.2 374.4,152.0 375.1,152.4 375.7,152.9 376.5,153.3 377.1,153.8 377.9,153.7 378.7,153.6 379.3,154.1 380.0,154.4 380.7,154.4 381.4,154.7 382.4,154.4 383.0,155.3 383.0,156.1 383.5,156.8" fill="none" stroke="#fff" stroke-width="0.9" stroke-linejoin="round" stroke-linecap="round"/>
<polyline points="393.2,152.8 393.9,152.8 394.6,152.8 394.8,153.4 395.0,154.1 396.1,154.2 397.2,154.5 397.3,155.1 397.5,155.7 398.1,156.1 398.7,156.0 399.3,156.9 400.4,157.3" fill="none" stroke="#000" stroke-width="2.3" stroke-linejoin="round" stroke-linecap="round"/>
<polyline points="393.2,152.8 393.9,152.8 394.6,152.8 394.8,153.4 395.0,154.1 396.1,154.2 397.2,154.5 397.3,155.1 397.5,155.7 398.1,156.1 398.7,156.0 399.3,156.9 400.4,157.3" fill="none" stroke="#fff" stroke-width="0.9" stroke-linejoin="round" stroke-linecap="round"/>
<polyline points="413.3,143.3 414.1,142.9 414.8,143.4 415.6,143.0 416.4,143.1 417.0,143.6 417.8,143.8 418.4,144.2 419.2,144.4 419.5,145.2 419.5,146.0 420.3,146.5 420.9,147.1 421.7,147.2 422.4,147.6 422.9,148.2 423.8,148.4" fill="none" stroke="#000" stroke-width="2.3" stroke-linejoin="round" stroke-linecap="round"/>
<polyline points="413.3,143.3 414.1,142.9 414.8,143.4 415.6,143.0 416.4,143.1 417.0,143.6 417.8,143.8 418.4,144.2 419.2,144.4 419.5,145.2 419.5,146.0 420.3,146.5 420.9,147.1 421.7,147.2 422.4,147.6 422.9,148.2 423.8,148.4" fill="none" stroke="#fff" stroke-width="0.9" stroke-linejoin="round" stroke-linecap="round"/>
<polyline points="395.3,167.0 395.0,167.8 395.7,168.5 396.4,168.9 396.7,169.7 397.5,170.0 398.0,170.6 398.8,170.5 399.6,170.7 400.5,171.3 401.5,170.8 402.3,170.3 402.6,169.4 403.3,169.8 404.1,170.1 404.9,170.5 405.2,171.3" fill="none" stroke="#000" stroke-width="2.3" stroke-linejoin="round" stroke-linecap="round"/>
<polyline points="395.3,167.0 395.0,167.8 395.7,168.5 396.4,168.9 396.7,169.7 397.5,170.0 398.0,170.6 398.8,170.5 399.6,170.7 400.5,171.3 401.5,170.8 402.3,170.3 402.6,169.4 403.3,169.8 404.1,170.1 404.9,170.5 405.2,171.3" fill="none" stroke="#fff" stroke-width="0.9" stroke-linejoin="round" stroke-linecap="round"/>
<polyline points="423.2,151.6 423.6,152.3 424.3,152.6 424.6,153.3 424.7,154.0 425.3,154.5 425.8,155.0 426.2,155.7 427.0,155.7" fill="none" stroke="#000" stroke-width="2.3" stroke-linejoin="round" stroke-linecap="round"/>
<polyline points="423.2,151.6 423.6,152.3 424.3,152.6 424.6,153.3 424.7,154.0 425.3,154.5 425.8,155.0 426.2,155.7 427.0,155.7" fill="none" stroke="#fff" stroke-width="0.9" stroke-linejoin="round" stroke-linecap="round"/>
<polyline points="396.1,160.8 396.7,161.3 397.4,161.7 397.7,162.7 398.6,162.9 399.4,163.3 400.3,162.9 401.1,162.8 401.9,163.0" fill="none" stroke="#000" stroke-width="2.3" stroke-linejoin="round" stroke-linecap="round"/>
<polyline points="396.1,160.8 396.7,161.3 397.4,161.7 397.7,162.7 398.6,162.9 399.4,163.3 400.3,162.9 401.1,162.8 401.9,163.0" fill="none" stroke="#fff" stroke-width="0.9" stroke-linejoin="round" stroke-linecap="round"/>
<polyline points="372.5,143.9 373.3,144.0 374.0,144.3 374.7,144.6 375.4,145.0 375.3,145.8 375.6,146.6 375.9,147.5 376.8,147.7" fill="none" stroke="#000" stroke-width="2.3" stroke-linejoin="round" stroke-linecap="round"/>
<polyline points="372.5,143.9 373.3,144.0 374.0,144.3 374.7,144.6 375.4,145.0 375.3,145.8 375.6,146.6 375.9,147.5 376.8,147.7" fill="none" stroke="#fff" stroke-width="0.9" stroke-linejoin="round" stroke-linecap="round"/>
<polyline points="357.0,151.4 358.1,152.0 359.2,152.1 360.0,153.0 361.0,153.6 361.4,154.1 361.6,154.7 362.1,155.1 362.7,155.3 363.4,155.5 364.0,155.6 364.7,155.6 365.2,155.2" fill="none" stroke="#000" stroke-width="2.3" stroke-linejoin="round" stroke-linecap="round"/>
<polyline points="357.0,151.4 358.1,152.0 359.2,152.1 360.0,153.0 361.0,153.6 361.4,154.1 361.6,154.7 362.1,155.1 362.7,155.3 363.4,155.5 364.0,155.6 364.7,155.6 365.2,155.2" fill="none" stroke="#fff" stroke-width="0.9" stroke-linejoin="round" stroke-linecap="round"/>
<polyline points="407.9,162.0 408.7,162.3 409.2,161.6 409.7,162.1 409.7,162.9 410.6,162.6 411.6,162.7 412.7,162.9 413.2,163.8 413.7,164.6 414.5,165.2" fill="none" stroke="#000" stroke-width="2.3" stroke-linejoin="round" stroke-linecap="round"/>
<polyline points="407.9,162.0 408.7,162.3 409.2,161.6 409.7,162.1 409.7,162.9 410.6,162.6 411.6,162.7 412.7,162.9 413.2,163.8 413.7,164.6 414.5,165.2" fill="none" stroke="#fff" stroke-width="0.9" stroke-linejoin="round" stroke-linecap="round"/>
<polyline points="375.8,143.3 376.2,144.0 376.9,144.4 377.6,144.6 378.4,144.5 379.2,144.7 380.0,144.7 380.6,144.2 381.2,143.6 382.0,143.2 382.9,143.3 383.4,144.0 383.7,144.8 384.0,145.5 384.1,146.2 385.0,146.2 385.4,147.0" fill="none" stroke="#000" stroke-width="2.3" stroke-linejoin="round" stroke-linecap="round"/>
<polyline points="375.8,143.3 376.2,144.0 376.9,144.4 377.6,144.6 378.4,144.5 379.2,144.7 380.0,144.7 380.6,144.2 381.2,143.6 382.0,143.2 382.9,143.3 383.4,144.0 383.7,144.8 384.0,145.5 384.1,146.2 385.0,146.2 385.4,147.0" fill="none" stroke="#fff" stroke-width="0.9" stroke-linejoin="round" stroke-linecap="round"/>
<polyline points="354.6,145.2 355.2,145.7 355.4,146.5 355.7,147.3 355.3,148.1 356.1,148.1 356.8,148.4 357.5,148.7 358.1,149.2" fill="none" stroke="#000" stroke-width="2.3" stroke-linejoin="round" stroke-linecap="round"/>
<polyline points="354.6,145.2 355.2,145.7 355.4,146.5 355.7,147.3 355.3,148.1 356.1,148.1 356.8,148.4 357.5,148.7 358.1,149.2" fill="none" stroke="#fff" stroke-width="0.9" stroke-linejoin="round" stroke-linecap="round"/>
<polyline points="413.7,169.8 414.5,170.2 415.1,170.8 415.4,171.6 415.9,172.3 416.7,172.9 417.8,172.6 418.1,173.4 418.4,174.3" fill="none" stroke="#000" stroke-width="2.3" stroke-linejoin="round" stroke-linecap="round"/>
<polyline points="413.7,169.8 414.5,170.2 415.1,170.8 415.4,171.6 415.9,172.3 416.7,172.9 417.8,172.6 418.1,173.4 418.4,174.3" fill="none" stroke="#fff" stroke-width="0.9" stroke-linejoin="round" stroke-linecap="round"/>
<polyline points="399.7,169.7 399.5,170.5 400.0,171.1 400.6,171.8 401.4,171.5 401.7,172.0 402.3,172.3 402.9,172.5 403.4,172.9 404.0,173.0 404.6,173.0 405.2,173.1 405.7,173.2 406.3,173.3 407.0,173.3 407.6,173.3 408.2,173.3" fill="none" stroke="#000" stroke-width="2.3" stroke-linejoin="round" stroke-linecap="round"/>
<polyline points="399.7,169.7 399.5,170.5 400.0,171.1 400.6,171.8 401.4,171.5 401.7,172.0 402.3,172.3 402.9,172.5 403.4,172.9 404.0,173.0 404.6,173.0 405.2,173.1 405.7,173.2 406.3,173.3 407.0,173.3 407.6,173.3 408.2,173.3" fill="none" stroke="#fff" stroke-width="0.9" stroke-linejoin="round" stroke-linecap="round"/>
<polyline points="392.3,151.1 392.6,151.8 392.5,152.5 393.2,152.7 394.0,152.4 395.0,151.9 396.1,152.2 397.1,152.3 398.0,153.0 398.7,153.7 399.5,154.3" fill="none" stroke="#000" stroke-width="2.3" stroke-linejoin="round" stroke-linecap="round"/>
<polyline points="392.3,151.1 392.6,151.8 392.5,152.5 393.2,152.7 394.0,152.4 395.0,151.9 396.1,152.2 397.1,152.3 398.0,153.0 398.7,153.7 399.5,154.3" fill="none" stroke="#fff" stroke-width="0.9" stroke-linejoin="round" stroke-linecap="round"/>
<polyline points="409.7,162.3 410.4,162.4 411.0,162.8 411.3,163.5 411.8,164.0 412.5,164.1 413.1,164.5 413.9,164.9 413.9,165.7 414.5,166.2 415.3,166.5 416.1,166.7 416.9,167.1 416.6,168.0 415.8,168.6 416.1,169.6 416.7,170.3" fill="none" stroke="#000" stroke-width="2.3" stroke-linejoin="round" stroke-linecap="round"/>
<polyline points="409.7,162.3 410.4,162.4 411.0,162.8 411.3,163.5 411.8,164.0 412.5,164.1 413.1,164.5 413.9,164.9 413.9,165.7 414.5,166.2 415.3,166.5 416.1,166.7 416.9,167.1 416.6,168.0 415.8,168.6 416.1,169.6 416.7,170.3" fill="none" stroke="#fff" stroke-width="0.9" stroke-linejoin="round" stroke-linecap="round"/>
<polyline points="365.1,145.9 365.8,146.1 366.5,146.3 367.2,146.6 367.9,146.7 368.6,146.3 369.4,146.5 369.9,147.1 370.6,147.6 371.1,148.0 371.7,148.4 371.9,149.2 372.7,149.4 373.7,149.3 374.0,150.2 374.4,150.9 374.5,151.6" fill="none" stroke="#000" stroke-width="2.3" stroke-linejoin="round" stroke-linecap="round"/>
<polyline points="365.1,145.9 365.8,146.1 366.5,146.3 367.2,146.6 367.9,146.7 368.6,146.3 369.4,146.5 369.9,147.1 370.6,147.6 371.1,148.0 371.7,148.4 371.9,149.2 372.7,149.4 373.7,149.3 374.0,150.2 374.4,150.9 374.5,151.6" fill="none" stroke="#fff" stroke-width="0.9" stroke-linejoin="round" stroke-linecap="round"/>
<polyline points="444.3,238.2 445.1,238.8 445.6,239.6 446.5,240.1 446.9,241.0 448.0,241.1 449.0,241.0 449.6,241.8 450.6,242.3" fill="none" stroke="#000" stroke-width="2.3" stroke-linejoin="round" stroke-linecap="round"/>
<polyline points="444.3,238.2 445.1,238.8 445.6,239.6 446.5,240.1 446.9,241.0 448.0,241.1 449.0,241.0 449.6,241.8 450.6,242.3" fill="none" stroke="#fff" stroke-width="1.0" stroke-linejoin="round" stroke-linecap="round"/>
<polyline points="442.5,227.4 443.0,227.9 443.3,228.5 444.0,228.7 444.8,228.7 444.0,229.4 444.7,230.0 444.3,230.6 444.5,231.3 445.2,231.4 445.7,231.1 446.3,231.3 446.8,231.7 447.5,231.6 448.0,232.0 448.5,231.6 449.0,231.3" fill="none" stroke="#000" stroke-width="2.3" stroke-linejoin="round" stroke-linecap="round"/>
<polyline points="442.5,227.4 443.0,227.9 443.3,228.5 444.0,228.7 444.8,228.7 444.0,229.4 444.7,230.0 444.3,230.6 444.5,231.3 445.2,231.4 445.7,231.1 446.3,231.3 446.8,231.7 447.5,231.6 448.0,232.0 448.5,231.6 449.0,231.3" fill="none" stroke="#fff" stroke-width="1.0" stroke-linejoin="round" stroke-linecap="round"/>
<polyline points="483.1,235.4 483.4,236.2 484.2,236.7 484.0,237.7 485.0,238.2 485.8,237.8 486.8,237.8 487.4,238.6 488.3,239.1" fill="none" stroke="#000" stroke-width="2.3" stroke-linejoin="round" stroke-linecap="round"/>
<polyline points="483.1,235.4 483.4,236.2 484.2,236.7 484.0,237.7 485.0,238.2 485.8,237.8 486.8,237.8 487.4,238.6 488.3,239.1" fill="none" stroke="#fff" stroke-width="1.0" stroke-linejoin="round" stroke-linecap="round"/>
<polyline points="455.8,242.2 456.3,242.8 456.5,243.6 457.5,243.4 457.8,244.4 458.6,244.3 459.3,244.7 460.0,244.6 460.7,244.4 461.4,244.8 462.0,245.3 461.6,246.1 462.2,246.7 463.0,247.1 463.1,247.9 463.8,248.1 464.5,248.3" fill="none" stroke="#000" stroke-width="2.3" stroke-linejoin="round" stroke-linecap="round"/>
<polyline points="455.8,242.2 456.3,242.8 456.5,243.6 457.5,243.4 457.8,244.4 458.6,244.3 459.3,244.7 460.0,244.6 460.7,244.4 461.4,244.8 462.0,245.3 461.6,246.1 462.2,246.7 463.0,247.1 463.1,247.9 463.8,248.1 464.5,248.3" fill="none" stroke="#fff" stroke-width="1.0" stroke-linejoin="round" stroke-linecap="round"/>
<polyline points="449.0,227.6 450.1,228.1 450.4,229.2 451.4,229.9 452.5,229.5 453.4,230.1 454.1,230.9 455.1,231.1 455.9,231.7" fill="none" stroke="#000" stroke-width="2.3" stroke-linejoin="round" stroke-linecap="round"/>
<polyline points="449.0,227.6 450.1,228.1 450.4,229.2 451.4,229.9 452.5,229.5 453.4,230.1 454.1,230.9 455.1,231.1 455.9,231.7" fill="none" stroke="#fff" stroke-width="1.0" stroke-linejoin="round" stroke-linecap="round"/>
<polyline points="471.2,244.4 471.6,244.9 472.1,245.4 472.7,245.7 473.1,246.3 473.3,247.0 473.8,247.4 474.3,247.8 474.9,248.2 475.5,248.7 476.2,249.0 476.6,249.6 476.7,250.4 477.4,250.5 478.2,250.5 478.8,250.8 479.5,251.0" fill="none" stroke="#000" stroke-width="2.3" stroke-linejoin="round" stroke-linecap="round"/>
<polyline points="471.2,244.4 471.6,244.9 472.1,245.4 472.7,245.7 473.1,246.3 473.3,247.0 473.8,247.4 474.3,247.8 474.9,248.2 475.5,248.7 476.2,249.0 476.6,249.6 476.7,250.4 477.4,250.5 478.2,250.5 478.8,250.8 479.5,251.0" fill="none" stroke="#fff" stroke-width="1.0" stroke-linejoin="round" stroke-linecap="round"/>
<polyline points="443.3,234.0 444.1,234.3 444.8,234.6 445.5,234.8 446.3,234.8 447.1,234.7 447.8,235.2 448.5,235.7 449.3,235.6 449.7,236.3 450.2,237.0 450.2,237.8 450.2,238.6 450.5,239.3 450.5,240.1 450.7,240.9 451.1,241.6" fill="none" stroke="#000" stroke-width="2.3" stroke-linejoin="round" stroke-linecap="round"/>
<polyline points="443.3,234.0 444.1,234.3 444.8,234.6 445.5,234.8 446.3,234.8 447.1,234.7 447.8,235.2 448.5,235.7 449.3,235.6 449.7,236.3 450.2,237.0 450.2,237.8 450.2,238.6 450.5,239.3 450.5,240.1 450.7,240.9 451.1,241.6" fill="none" stroke="#fff" stroke-width="1.0" stroke-linejoin="round" stroke-linecap="round"/>
<polyline points="486.3,239.5 485.8,240.2 485.2,240.8 485.8,241.4 486.3,242.0 487.0,242.2 487.6,242.6 488.0,243.1 488.2,243.8 488.0,244.4 488.1,245.1 488.5,245.5 488.8,246.1 489.1,247.2 489.6,248.4" fill="none" stroke="#000" stroke-width="2.3" stroke-linejoin="round" stroke-linecap="round"/>
<polyline points="486.3,239.5 485.8,240.2 485.2,240.8 485.8,241.4 486.3,242.0 487.0,242.2 487.6,242.6 488.0,243.1 488.2,243.8 488.0,244.4 488.1,245.1 488.5,245.5 488.8,246.1 489.1,247.2 489.6,248.4" fill="none" stroke="#fff" stroke-width="1.0" stroke-linejoin="round" stroke-linecap="round"/>
<polyline points="460.0,238.7 460.6,239.7 461.3,240.6 462.1,241.5 463.3,241.9 463.7,242.9 464.3,243.9 464.5,245.1 464.6,246.2" fill="none" stroke="#000" stroke-width="2.3" stroke-linejoin="round" stroke-linecap="round"/>
<polyline points="460.0,238.7 460.6,239.7 461.3,240.6 462.1,241.5 463.3,241.9 463.7,242.9 464.3,243.9 464.5,245.1 464.6,246.2" fill="none" stroke="#fff" stroke-width="1.0" stroke-linejoin="round" stroke-linecap="round"/>
<polyline points="456.2,231.9 457.1,231.6 457.9,231.4 458.8,231.7 459.5,232.3 460.3,232.8 461.2,232.5 462.1,232.5 462.9,232.6 463.4,233.5 463.9,234.4 464.8,235.1 466.0,234.7 466.0,235.5 465.4,236.0 466.0,236.3 466.6,236.6 466.0,237.5 466.0,238.5" fill="none" stroke="#000" stroke-width="2.3" stroke-linejoin="round" stroke-linecap="round"/>
<polyline points="456.2,231.9 457.1,231.6 457.9,231.4 458.8,231.7 459.5,232.3 460.3,232.8 461.2,232.5 462.1,232.5 462.9,232.6 463.4,233.5 463.9,234.4 464.8,235.1 466.0,234.7 466.0,235.5 465.4,236.0 466.0,236.3 466.6,236.6 466.0,237.5 466.0,238.5" fill="none" stroke="#fff" stroke-width="1.0" stroke-linejoin="round" stroke-linecap="round"/>
<polyline points="465.4,244.5 466.4,244.0 467.2,244.7 467.5,245.6 467.8,246.5 468.1,247.3 468.6,248.0 468.7,248.8 468.5,249.6 469.3,250.3 470.2,250.7 471.0,249.9 472.0,249.6 472.2,250.5 473.0,251.0 473.1,251.9 473.6,252.7" fill="none" stroke="#000" stroke-width="2.3" stroke-linejoin="round" stroke-linecap="round"/>
<polyline points="465.4,244.5 466.4,244.0 467.2,244.7 467.5,245.6 467.8,246.5 468.1,247.3 468.6,248.0 468.7,248.8 468.5,249.6 469.3,250.3 470.2,250.7 471.0,249.9 472.0,249.6 472.2,250.5 473.0,251.0 473.1,251.9 473.6,252.7" fill="none" stroke="#fff" stroke-width="1.0" stroke-linejoin="round" stroke-linecap="round"/>
<polyline points="484.8,238.7 485.5,239.0 485.9,239.7 486.6,239.8 487.2,239.9 487.7,240.4 487.9,241.1 488.2,241.8 488.9,242.1 488.6,242.7 488.7,243.4 488.3,244.0 488.4,244.7 488.4,245.5 488.2,246.2 488.6,246.9 489.2,247.3" fill="none" stroke="#000" stroke-width="2.3" stroke-linejoin="round" stroke-linecap="round"/>
<polyline points="484.8,238.7 485.5,239.0 485.9,239.7 486.6,239.8 487.2,239.9 487.7,240.4 487.9,241.1 488.2,241.8 488.9,242.1 488.6,242.7 488.7,243.4 488.3,244.0 488.4,244.7 488.4,245.5 488.2,246.2 488.6,246.9 489.2,247.3" fill="none" stroke="#fff" stroke-width="1.0" stroke-linejoin="round" stroke-linecap="round"/>
<polyline points="478.2,233.6 478.7,234.4 478.9,235.2 479.8,235.3 480.7,235.3 481.4,235.5 482.2,235.3 483.0,235.4 483.5,236.1 484.0,236.8 484.5,237.3 485.1,238.0 484.7,238.8 485.3,239.4 486.2,239.6 486.3,240.4 486.8,241.0" fill="none" stroke="#000" stroke-width="2.3" stroke-linejoin="round" stroke-linecap="round"/>
<polyline points="478.2,233.6 478.7,234.4 478.9,235.2 479.8,235.3 480.7,235.3 481.4,235.5 482.2,235.3 483.0,235.4 483.5,236.1 484.0,236.8 484.5,237.3 485.1,238.0 484.7,238.8 485.3,239.4 486.2,239.6 486.3,240.4 486.8,241.0" fill="none" stroke="#fff" stroke-width="1.0" stroke-linejoin="round" stroke-linecap="round"/>
<polyline points="484.0,240.1 484.6,239.2 485.7,239.4 486.6,239.4 487.5,239.1 488.6,239.2 489.4,240.1 490.5,239.7 491.0,238.6 490.9,239.7 490.1,240.4 490.4,241.3 490.5,242.3 490.2,243.3 491.1,244.0 491.7,244.7 491.9,245.7" fill="none" stroke="#000" stroke-width="2.3" stroke-linejoin="round" stroke-linecap="round"/>
<polyline points="484.0,240.1 484.6,239.2 485.7,239.4 486.6,239.4 487.5,239.1 488.6,239.2 489.4,240.1 490.5,239.7 491.0,238.6 490.9,239.7 490.1,240.4 490.4,241.3 490.5,242.3 490.2,243.3 491.1,244.0 491.7,244.7 491.9,245.7" fill="none" stroke="#fff" stroke-width="1.0" stroke-linejoin="round" stroke-linecap="round"/>
<polygon points="390.0,152.0 391.2,151.6 392.5,151.3 393.8,151.1 395.1,150.9 396.4,150.5 397.6,150.1 398.8,149.5 400.0,149.0 400.7,148.8 401.5,148.7 402.3,148.8 403.0,148.7 403.8,148.8 404.6,148.8 405.3,148.7 406.1,148.6 406.8,148.9 407.5,149.2 408.2,149.6 408.9,149.9 409.7,150.0 410.4,150.0 411.2,150.0 412.0,150.0 413.2,150.3 414.3,150.2 415.5,150.3 416.7,150.1 417.8,150.6 418.7,151.4 419.8,151.9 421.0,152.0 420.5,152.9 420.1,153.9 419.8,154.9 420.0,156.0 418.8,156.2 417.5,156.5 416.2,156.7 415.0,156.3 413.7,156.5 412.5,156.6 411.2,156.6 410.0,157.0 409.2,156.9 408.5,157.2 407.8,157.5 407.0,157.5 406.3,157.5 405.5,157.4 404.8,157.6 404.0,157.7 403.3,157.6 402.5,157.7 401.7,158.0 401.0,158.2 400.3,158.2 399.5,158.3 398.7,158.2 398.0,158.0 397.2,157.6 396.3,157.3 395.4,157.1 394.6,156.7 393.7,156.5 392.8,156.3 391.9,156.0 391.0,156.0 391.0,155.0 390.8,153.9 390.4,153.0" fill="#fff" stroke="#000" stroke-width="0.9" stroke-linejoin="round"/>
<polygon points="408.0,176.0 408.8,175.8 409.7,175.5 410.3,175.0 410.7,174.2 410.9,173.3 411.2,172.5 412.0,172.1 412.7,171.6 413.5,171.4 414.1,170.9 414.8,170.5 415.5,170.0 416.1,169.5 416.6,168.8 417.3,168.4 418.0,168.0 418.9,167.8 419.6,167.3 420.4,166.9 421.1,166.4 421.9,166.0 422.6,165.5 423.4,165.0 424.0,164.4 424.9,164.3 425.9,164.3 426.5,163.7 427.3,163.1 428.1,162.9 429.0,162.6 429.8,162.5 430.7,162.3 431.1,163.2 431.2,164.1 431.4,165.0 431.6,165.9 431.1,166.5 430.8,167.2 430.2,167.8 429.7,168.4 429.3,169.1 428.8,169.7 428.3,170.3 428.0,171.0 427.4,171.9 426.9,172.7 426.1,173.3 425.3,174.0 424.0,174.5 422.8,175.1 421.6,175.9 420.5,176.7 419.2,177.1 417.8,177.2 416.6,177.8 415.4,178.5 415.0,179.3 414.4,179.9 414.1,180.8 413.7,181.6 413.8,182.4 413.4,183.3 413.2,184.1 413.0,185.0 411.8,185.7 410.5,186.0 409.2,186.4 408.0,187.0 407.6,186.3 407.3,185.6 407.0,184.8 406.6,184.1 406.4,183.3 406.7,182.5 406.2,181.8 406.0,181.0 406.6,179.8 407.0,178.5 407.6,177.3" fill="#fff" stroke="#000" stroke-width="0.9" stroke-linejoin="round"/>
<polygon points="455.0,151.5 455.9,151.7 456.8,151.6 457.7,151.6 458.6,151.5 459.4,151.1 460.2,150.8 461.1,150.6 462.0,150.5 462.8,149.9 463.7,149.6 464.7,149.5 465.7,149.6 466.6,149.5 467.5,149.6 468.5,149.9 469.4,150.0 469.4,150.8 469.5,151.5 469.5,152.3 469.3,153.0 469.3,153.8 469.1,154.5 469.1,155.3 469.0,156.0 468.4,156.8 467.8,157.6 467.2,158.3 466.4,158.9 465.7,159.6 465.1,160.4 464.7,161.3 464.0,162.0 463.1,162.0 462.2,162.2 461.3,162.3 460.5,162.8 459.6,162.8 458.8,162.7 457.9,162.7 457.0,163.0 457.0,162.2 457.2,161.5 457.2,160.8 457.2,160.0 457.3,159.3 457.4,158.5 457.5,157.8 457.4,157.0 457.3,156.3 457.1,155.5 456.6,154.9 456.3,154.2 456.1,153.5 455.7,152.8 455.3,152.2" fill="#fff" stroke="#000" stroke-width="0.9" stroke-linejoin="round"/>
<polygon points="495.5,172.2 496.7,172.0 497.7,171.5 498.8,171.1 500.0,171.0 500.3,172.3 500.4,173.5 500.5,174.8 500.3,176.1 500.1,177.4 500.2,178.7 500.0,179.9 500.0,181.2 499.2,180.9 498.5,180.6 497.7,180.4 497.0,180.0 496.7,179.0 496.6,178.0 496.8,177.0 496.6,176.0 496.1,175.2 495.6,174.2 495.5,173.2" fill="#fff" stroke="#000" stroke-width="0.9" stroke-linejoin="round"/>
<polygon points="382.6,205.4 383.5,205.5 384.3,205.5 385.1,205.8 386.0,206.0 386.8,206.1 387.7,205.9 388.5,206.0 389.4,206.0 389.5,207.3 389.3,208.5 389.1,209.7 389.0,211.0 388.2,211.0 387.5,210.9 386.8,210.7 386.0,210.7 385.2,210.6 384.5,210.6 383.7,210.7 383.0,211.0 382.7,209.5 383.2,208.2 383.1,206.7" fill="#fff" stroke="#000" stroke-width="0.9" stroke-linejoin="round"/>
<polyline points="493.5,157.0 493.5,246.5" fill="none" stroke="#8a7a60" stroke-width="0.7" stroke-linejoin="round" stroke-linecap="round"/>
<path d="M376.1,239.6C372.7,240.5 367.7,244.4 366.5,248.0C365.3,251.6 369.7,256.3 368.9,261.3C368.1,266.3 363.6,271.3 361.6,278.1C359.6,284.9 357.8,294.2 356.8,302.2C355.8,310.2 355.6,318.2 355.6,326.2C355.6,334.2 356.2,342.3 356.8,350.3C357.4,358.3 358.4,366.0 359.2,374.3C360.0,382.6 360.7,393.4 361.6,400.0C362.5,406.6 363.1,407.7 364.4,414.0C365.7,420.3 368.4,428.0 369.2,438.0C370.0,448.0 368.4,467.4 369.2,474.0C370.0,480.6 369.2,477.0 374.0,477.6C378.8,478.2 392.4,477.0 398.0,477.6C403.6,478.2 407.6,479.8 407.6,481.2C407.6,482.6 402.4,484.4 398.0,486.0C393.6,487.6 384.0,488.8 381.2,490.8C378.4,492.8 379.2,494.0 381.2,498.0C383.2,502.0 388.0,509.6 393.2,514.8C398.4,520.0 406.4,526.0 412.4,529.2C418.4,532.4 422.4,533.0 429.2,534.0C436.0,535.0 445.6,535.6 453.2,535.2C460.8,534.8 468.0,533.8 474.8,531.6C481.6,529.4 487.6,525.6 494.0,522.0C500.4,518.4 507.2,515.2 513.2,510.0C519.2,504.8 524.0,497.6 530.0,490.8C536.0,484.0 543.2,476.0 549.2,469.2C555.2,462.4 560.8,456.0 566.0,450.0C571.2,444.0 576.1,437.8 580.4,433.2C584.7,428.6 588.6,426.7 592.0,422.6C595.4,418.5 598.3,413.0 600.7,408.7C603.1,404.4 604.8,400.8 606.6,396.8C608.4,392.9 610.6,388.6 611.6,385.0C612.6,381.4 612.9,378.6 612.6,375.0C612.3,371.4 610.3,367.8 609.6,363.2C608.9,358.6 609.4,351.4 608.6,347.3C607.8,343.2 606.7,340.5 604.7,338.4C602.7,336.3 600.0,335.5 596.7,334.5C593.4,333.5 589.5,332.7 584.9,332.5C580.3,332.3 574.3,333.8 569.0,333.5C563.7,333.2 558.5,332.0 553.2,330.5C547.9,329.0 540.6,326.4 537.3,324.6C534.0,322.8 536.0,321.1 533.4,319.6C530.8,318.1 525.1,315.9 521.5,315.6C517.9,315.3 514.1,316.4 511.6,317.6C509.1,318.8 508.6,322.3 506.6,322.6C504.6,322.9 502.5,320.6 499.7,319.6C496.9,318.6 492.4,318.2 489.8,316.6C487.2,315.0 485.5,312.5 483.9,309.7C482.2,306.9 481.8,302.7 479.9,299.8C478.0,296.9 475.6,295.3 472.3,292.5C469.0,289.7 462.7,285.8 460.3,282.9C457.9,280.0 459.1,277.5 457.9,275.0C456.7,272.5 455.6,269.5 453.0,267.7C450.4,265.9 445.7,265.7 442.0,264.4C438.3,263.1 433.8,261.5 431.0,260.0C428.2,258.5 427.9,256.9 425.5,255.6C423.1,254.3 419.4,253.4 416.7,252.3C413.9,251.2 413.9,250.7 409.0,249.0C404.1,247.3 392.5,244.0 387.0,242.4C381.5,240.8 379.5,238.7 376.1,239.6Z" fill="#20f000" stroke="#b8ae9c" stroke-width="0.8"/>
<polygon points="478.0,668.0 482.1,663.4 492.0,643.6 507.4,615.0 525.0,593.0 544.8,579.8 569.0,575.4 593.2,573.2 624.0,572.1 650.4,573.2 661.4,579.8 665.8,593.0 661.4,606.2 646.0,619.4 637.2,621.6 632.8,612.8 624.0,615.0 613.0,626.0 604.2,634.8 602.0,643.6 588.8,656.8 577.8,663.4 577.0,668.0" fill="#20f000"/>
<path d="M482.1,663.4C483.8,660.1 487.8,651.7 492.0,643.6C496.2,635.5 501.9,623.4 507.4,615.0C512.9,606.6 518.8,598.9 525.0,593.0C531.2,587.1 537.5,582.7 544.8,579.8C552.1,576.9 560.9,576.5 569.0,575.4C577.1,574.3 584.0,573.8 593.2,573.2C602.4,572.7 614.5,572.1 624.0,572.1C633.5,572.1 644.2,571.9 650.4,573.2C656.6,574.5 658.8,576.5 661.4,579.8C664.0,583.1 665.8,588.6 665.8,593.0C665.8,597.4 664.7,601.8 661.4,606.2C658.1,610.6 650.0,616.8 646.0,619.4C642.0,622.0 639.4,622.7 637.2,621.6C635.0,620.5 635.0,613.9 632.8,612.8C630.6,611.7 627.3,612.8 624.0,615.0C620.7,617.2 616.3,622.7 613.0,626.0C609.7,629.3 606.0,631.9 604.2,634.8C602.4,637.7 604.6,639.9 602.0,643.6C599.4,647.3 592.8,653.5 588.8,656.8C584.8,660.1 579.6,662.3 577.8,663.4" fill="#20f000" stroke="#b8ae9c" stroke-width="0.8"/>
<path d="M639.4,622.7C640.5,621.2 646.4,619.6 650.4,619.4C654.4,619.2 661.4,619.8 663.6,621.6C665.8,623.4 665.1,628.6 663.6,630.4C662.1,632.2 658.1,633.0 654.8,632.6C651.5,632.2 646.4,629.9 643.8,628.2C641.2,626.6 638.3,624.2 639.4,622.7Z" fill="#20f000" stroke="#b8ae9c" stroke-width="0.6"/>
<path d="M634.0,635.0C634.5,633.8 636.2,633.2 637.0,634.0C637.8,634.8 638.6,638.3 638.5,640.0C638.4,641.7 637.2,643.8 636.5,644.0C635.8,644.2 634.4,642.5 634.0,641.0C633.6,639.5 633.5,636.2 634.0,635.0Z" fill="#20f000" stroke="#b8ae9c" stroke-width="0.6"/>
<polygon points="902.8,524.5 885.4,526.8 885.4,534.7 878.0,534.7 878.0,541.9 855.0,541.9 855.0,549.2 846.2,549.2 846.2,556.4 839.0,556.4 838.0,563.0 804.2,566.5 804.2,572.7 795.4,572.7 795.4,579.8 784.8,580.7 784.8,586.9 781.2,586.9 781.2,596.6 775.0,596.6 775.0,614.3 802.4,617.8 802.4,630.2 791.8,630.2 791.8,636.4 784.8,636.4 784.8,644.3 772.0,644.3 770.8,649.2 753.4,649.2 750.5,651.0 739.0,651.0 737.6,658.4 737.6,668.0 910.0,668.0 910.0,524.0" fill="#fff"/>
<polygon points="775.0,614.3 802.4,617.8 802.4,630.2 791.8,630.2 791.8,636.4 784.8,636.4 784.8,644.3 772.0,644.3 772.0,614.3" fill="#79a7f8"/>
<polygon points="837.1,532.0 886.0,526.5 886.0,535.0 882.7,535.0 882.7,541.5 855.0,541.5 855.0,548.0 845.6,548.0 845.6,556.4 838.7,556.4 838.7,562.7 821.0,562.7 828.1,550.0 828.1,543.6 837.1,543.6" fill="#0576f6"/>
<path d="M821.0,562.7C816.5,562.4 814.3,562.0 812.0,561.0C809.7,560.0 807.6,558.5 807.4,556.9C807.2,555.3 809.1,552.8 811.0,551.5C812.9,550.2 815.8,549.4 819.0,549.0C822.2,548.6 826.7,548.3 830.0,549.0C833.3,549.7 837.2,550.7 838.7,553.0C840.2,555.3 841.7,561.1 838.7,562.7C835.8,564.3 825.5,563.0 821.0,562.7Z" fill="#0576f6"/>
<polyline points="837.1,532.0 860.0,529.5 886.0,526.5 902.8,524.5" fill="none" stroke="#b8ae9c" stroke-width="0.7" stroke-linejoin="round" stroke-linecap="round"/>
<polyline points="838.0,562.7 821.0,562.7 812.0,561.0 807.4,556.9 811.0,551.5 819.0,549.0 828.0,549.0" fill="none" stroke="#b8ae9c" stroke-width="0.7" stroke-linejoin="round" stroke-linecap="round"/>
<polygon points="819.0,532.5 837.1,532.5 837.1,543.6 828.1,543.6 828.1,550.0 819.0,550.0" fill="#fff"/>
<polygon points="688.0,621.8 755.0,577.0 766.4,576.3 779.0,579.1 786.0,580.5 784.6,588.2 781.8,588.2 781.8,596.6 774.8,596.6 774.8,612.0 766.4,619.0 744.0,624.6 716.0,631.6 699.2,637.2 693.6,638.6 688.0,634.0" fill="#0576f6"/>
<polyline points="774.8,612.0 766.4,619.0 744.0,624.6 716.0,631.6 699.2,637.2 693.6,638.6" fill="none" stroke="#b8ae9c" stroke-width="0.7" stroke-linejoin="round" stroke-linecap="round"/>
<polyline points="755.0,577.0 766.4,576.3 779.0,579.1 786.0,580.5" fill="none" stroke="#b8ae9c" stroke-width="0.7" stroke-linejoin="round" stroke-linecap="round"/>
<polygon points="728.6,579.1 763.6,578.4 763.6,588.2 756.6,588.2 756.6,598.0 738.4,598.0 738.4,603.6 727.2,603.6 727.2,612.0 721.6,612.0 721.6,617.6 710.4,617.6 710.4,626.7 693.6,626.7 693.6,623.2 686.6,623.2 686.6,626.0 676.8,626.0 676.8,631.6 664.2,631.6 664.2,619.0 674.0,619.0 674.0,610.6 697.8,610.6 697.8,603.6 713.2,603.6 713.2,598.0 724.4,598.0 724.4,589.6 728.6,589.6" fill="#fff"/>
<polygon points="739.6,651.2 755.2,651.2 755.2,658.4 741.0,658.4 739.6,655.0" fill="#0576f6"/>
<polygon points="772.0,644.0 784.8,644.0 784.8,646.5 772.0,646.5" fill="#0576f6"/>
<polygon points="731.0,596.0 731.9,594.8 732.6,593.5 733.1,592.2 734.0,591.0 734.4,590.1 735.1,589.5 735.5,588.5 736.5,588.3 737.4,588.1 738.3,587.9 739.1,587.3 740.0,587.0 740.8,586.4 741.6,585.9 742.2,585.1 743.0,584.5 743.2,583.4 744.2,582.9 745.2,582.5 746.0,582.0 746.7,581.6 747.4,581.3 748.1,580.9 748.8,580.5 749.6,580.2 750.4,580.0 751.2,580.0 752.0,580.0 752.7,579.5 753.4,579.0 754.1,578.6 754.7,578.0 755.6,578.2 756.4,578.5 757.1,579.0 758.0,579.0 758.9,580.2 760.4,579.9 761.7,579.9 763.0,580.0 763.3,581.0 763.1,582.0 763.2,583.0 763.5,584.0 762.9,584.8 762.1,585.2 761.4,585.8 760.7,586.4 759.8,586.6 758.9,586.8 757.9,586.5 757.0,586.5 755.7,587.4 754.8,588.7 753.5,589.6 752.0,590.0 750.9,590.1 749.8,589.7 748.9,590.4 748.0,591.0 746.7,591.6 745.2,591.9 744.4,593.1 744.0,594.5 743.3,595.0 742.5,595.1 741.6,595.1 740.9,595.5 740.1,595.8 739.5,596.4 738.8,596.8 738.0,597.0 737.1,596.9 736.3,596.6 735.4,596.4 734.5,596.4 733.6,596.7 732.7,596.8 731.7,596.7" fill="#fddcaa" stroke="#000" stroke-width="0.9" stroke-linejoin="round"/>
<polygon points="725.5,599.0 726.5,598.5 727.4,597.9 728.2,597.2 729.0,596.5 730.1,596.9 731.3,596.5 732.4,596.6 733.5,597.0 733.9,598.0 733.8,599.0 733.8,600.0 734.0,601.0 733.4,601.5 732.6,601.8 732.0,602.4 731.1,602.1 730.3,602.2 729.5,602.3 728.7,602.1 728.0,602.5 727.3,601.7 726.8,600.7 726.3,599.7" fill="#fddcaa" stroke="#000" stroke-width="0.9" stroke-linejoin="round"/>
<polygon points="677.0,615.0 677.8,614.5 678.8,614.4 679.5,613.8 680.3,613.4 681.3,613.1 682.1,613.8 683.0,613.5 684.0,613.5 684.3,612.0 685.3,610.8 686.6,610.0 688.0,609.5 689.4,610.2 689.4,611.8 690.8,611.8 692.0,612.5 693.0,612.7 693.9,612.6 694.5,611.8 695.4,611.3 696.3,611.1 697.2,610.7 698.0,611.1 699.0,611.0 699.8,610.0 700.8,609.0 701.7,607.9 703.0,607.5 703.8,608.6 704.7,609.6 706.1,609.9 707.0,611.0 708.1,611.9 708.1,613.4 708.0,614.7 708.0,616.0 707.3,616.6 706.6,617.2 705.7,617.5 705.2,618.2 704.4,618.8 703.7,619.4 702.8,619.6 702.0,620.0 700.5,620.3 699.4,621.4 698.2,622.2 697.0,623.0 695.9,622.1 695.0,621.0 693.9,620.1 693.0,619.0 692.2,618.1 691.0,618.0 690.5,619.0 689.5,619.6 688.6,619.4 687.8,618.9 686.9,618.8 686.0,619.0 685.2,619.4 684.4,619.2 683.7,618.8 683.0,618.3 681.5,618.0 680.0,618.0 679.4,617.0 679.0,616.0 678.1,615.4" fill="#fddcaa" stroke="#000" stroke-width="0.9" stroke-linejoin="round"/>
<polygon points="706.0,604.5 706.8,604.2 707.6,604.1 708.4,604.0 709.2,604.1 710.0,603.9 710.7,603.5 711.4,603.0 712.0,602.5 712.7,603.2 713.4,603.9 714.2,604.5 715.0,605.0 713.8,605.7 712.6,606.2 711.4,606.8 710.0,607.0 709.0,606.2 707.8,606.0 706.8,605.4" fill="#fddcaa" stroke="#000" stroke-width="0.9" stroke-linejoin="round"/>
<polygon points="713.0,607.0 713.7,606.6 714.4,606.3 715.2,606.2 715.9,605.7 716.7,605.7 717.5,605.7 718.3,605.5 719.0,605.0 719.5,605.9 720.3,606.4 721.3,607.0 721.5,608.0 721.0,608.7 720.1,608.7 719.3,608.9 718.7,609.4 718.1,610.0 717.6,610.7 716.8,610.9 716.0,611.0 714.9,610.3 714.4,609.1 713.8,608.0" fill="#fddcaa" stroke="#000" stroke-width="0.9" stroke-linejoin="round"/>
<polygon points="668.5,625.0 669.2,624.2 670.3,623.8 671.3,623.4 672.0,622.5 672.9,622.8 673.8,623.0 674.6,623.2 675.5,623.5 674.7,624.5 673.9,625.4 672.9,626.1 672.0,627.0 671.3,627.1 670.5,627.2 669.7,627.3 669.0,627.5 668.5,626.3" fill="#fddcaa" stroke="#000" stroke-width="0.9" stroke-linejoin="round"/>
<polygon points="818.5,537.0 819.5,536.8 820.6,536.8 821.4,536.1 822.1,535.4 823.1,535.4 824.0,536.0 825.0,536.0 826.0,536.0 827.4,536.1 828.8,535.9 830.2,536.2 831.5,536.5 832.9,537.0 834.2,537.5 835.6,537.8 837.0,537.5 836.7,538.5 837.0,539.5 835.9,539.2 834.8,538.8 833.7,539.1 832.5,539.2 831.3,539.1 830.3,538.5 829.0,538.3 828.0,539.0 827.6,539.7 827.2,540.3 826.5,540.7 825.8,541.1 825.4,541.8 825.1,542.5 825.0,543.2 825.0,544.0 823.9,544.4 823.2,545.3 822.1,545.7 821.0,546.0 821.0,544.6 820.5,543.3 819.9,542.0 819.0,541.0 819.0,540.0 818.7,539.0 818.3,538.0" fill="#fddcaa" stroke="#000" stroke-width="0.9" stroke-linejoin="round"/>
<polygon points="849.0,545.0 849.6,544.3 850.4,543.9 850.9,543.1 850.9,542.2 851.0,541.3 851.6,540.6 851.7,539.8 852.0,539.0 853.0,538.7 854.0,538.5 853.9,539.4 853.8,540.2 853.3,540.9 852.8,541.7 853.1,542.5 853.6,543.2 853.5,544.1 853.5,545.0 852.7,545.8 851.9,546.5 850.9,546.9 850.0,547.5 849.4,546.3" fill="#fddcaa" stroke="#000" stroke-width="0.9" stroke-linejoin="round"/>
<polygon points="750.4,668.0 750.8,667.3 751.2,666.6 751.4,665.8 752.1,665.3 752.1,664.5 752.1,663.7 751.9,662.9 751.9,662.1 752.7,660.8 753.6,659.5 754.5,659.5 755.4,659.3 755.6,658.4 756.0,657.6 756.5,656.3 757.8,655.7 758.8,654.8 759.4,653.6 760.5,653.0 761.7,652.4 762.9,651.9 764.0,651.2 764.5,650.2 765.5,649.8 766.5,649.9 767.6,650.0 768.4,649.4 769.3,649.0 770.2,648.5 771.2,648.8 772.0,649.2 772.9,649.1 773.7,649.4 774.6,649.5 775.3,650.0 775.9,650.6 776.8,650.7 777.6,651.2 777.3,652.3 777.2,653.3 778.0,654.2 777.9,655.4 777.5,656.7 778.7,657.5 779.8,657.8 780.8,658.4 780.9,659.6 781.2,660.8 781.2,662.0 781.6,663.2 782.1,664.5 783.2,665.4 783.0,666.8 782.4,668.0 781.3,668.0 780.4,668.6 779.4,668.7 778.4,669.1 777.2,669.1 776.6,670.1 775.5,670.1 774.5,670.0 773.5,670.3 772.5,670.5 771.4,670.4 770.5,670.9 769.5,671.1 768.5,671.3 767.4,671.5 766.4,671.3 765.4,671.0 764.5,670.2 763.8,669.4 762.9,668.8 761.9,668.1 761.3,667.0 760.2,666.6 759.0,666.9 757.8,666.6 756.7,667.1 755.7,666.4 754.6,666.4 753.3,666.4 752.1,666.3 751.3,667.2" fill="#fddcaa" stroke="#000" stroke-width="0.9" stroke-linejoin="round"/>
<polygon points="790.0,637.0 790.9,637.0 791.8,636.8 792.6,636.7 793.5,636.3 794.4,636.2 795.2,636.4 796.1,636.2 797.0,636.4 797.9,636.4 798.9,636.6 799.6,637.2 799.9,638.1 800.8,638.1 801.6,638.3 802.5,638.3 803.3,638.5 802.7,639.6 801.8,640.6 801.7,641.9 801.0,643.0 799.8,643.4 798.7,644.1 797.6,644.8 797.0,646.0 796.3,645.6 795.5,645.6 794.7,645.2 794.1,644.7 793.3,644.7 792.6,644.3 791.8,644.2 791.0,644.0 791.1,643.1 791.1,642.2 791.2,641.3 790.8,640.5 790.2,639.7 790.4,638.7 790.3,637.8" fill="#fddcaa" stroke="#000" stroke-width="0.9" stroke-linejoin="round"/>
<polygon points="792.0,652.0 793.2,651.7 794.4,651.3 795.2,650.3 796.4,649.8 797.1,648.8 798.2,648.1 799.1,647.4 800.0,646.5 801.3,646.4 802.6,646.0 804.1,645.8 804.8,644.5 806.0,645.0 807.4,645.1 808.7,645.0 810.0,645.0 810.7,645.4 811.5,645.5 812.3,645.8 813.1,645.9 813.8,645.4 814.7,645.6 815.2,644.8 816.1,644.7 816.9,645.1 817.2,646.0 818.1,645.7 818.9,645.7 820.5,646.0 822.0,646.0 822.7,646.3 823.4,646.8 824.0,647.4 824.7,647.7 825.3,648.3 825.9,648.9 826.6,649.3 827.0,650.0 826.0,650.7 825.7,651.9 825.2,652.9 825.0,654.0 823.8,654.6 822.8,655.4 821.4,655.3 820.1,655.4 818.9,656.3 817.6,655.9 816.3,656.2 815.0,656.0 813.9,656.5 812.9,657.1 811.7,657.5 810.5,657.2 809.4,656.7 808.2,656.8 807.0,656.6 806.0,656.0 805.3,656.6 804.4,656.9 804.0,657.7 803.1,658.1 802.2,658.4 801.5,659.0 801.0,659.8 800.0,660.0 798.5,660.1 797.0,659.8 795.6,659.0 794.0,659.0 793.1,658.5 792.7,657.5 791.9,656.9 791.6,655.9 791.6,654.9 791.8,653.9 791.8,653.0" fill="#fddcaa" stroke="#000" stroke-width="0.9" stroke-linejoin="round"/>
<polygon points="799.0,664.0 799.8,663.6 800.1,662.8 800.6,662.2 801.3,661.7 801.9,661.1 802.4,660.5 803.2,660.3 804.0,660.0 804.8,660.4 805.8,660.4 806.6,660.8 807.4,661.0 808.3,661.6 809.2,661.9 810.1,661.5 811.0,661.0 810.7,661.9 810.2,662.7 809.9,663.6 810.0,664.5 810.1,665.4 810.7,666.2 811.0,667.1 811.0,668.0 810.2,667.8 809.5,668.0 808.7,667.9 808.0,668.2 807.2,668.4 806.4,668.1 805.8,667.7 805.0,667.5 804.2,667.7 803.6,668.1 802.8,668.3 802.0,668.2 801.3,667.8 800.5,667.8 799.8,667.9 799.0,668.0 798.8,667.0 798.6,666.0 799.1,665.1" fill="#fddcaa" stroke="#000" stroke-width="0.9" stroke-linejoin="round"/>
<polygon points="786.5,646.0 787.8,645.7 789.0,645.0 789.0,645.8 789.2,646.6 789.4,647.4 790.0,648.0 789.3,648.5 788.6,648.7 787.8,649.0 787.0,649.0 786.9,648.2 786.5,647.5 786.5,646.8" fill="#fddcaa" stroke="#000" stroke-width="0.9" stroke-linejoin="round"/>
<polygon points="639.4,640.0 639.8,639.3 640.3,638.6 640.6,637.8 641.4,637.3 641.6,636.5 641.7,635.6 641.8,634.8 642.0,634.0 642.8,633.4 643.2,632.5 644.1,632.3 645.0,632.0 645.8,631.6 646.5,631.1 647.4,630.8 648.2,630.4 647.9,631.1 647.7,631.8 647.3,632.5 647.0,633.2 646.5,633.8 646.3,634.5 646.1,635.2 646.0,636.0 645.5,636.8 644.5,637.2 643.9,637.9 643.0,638.2 642.6,639.1 641.7,639.6 641.5,640.6 641.0,641.4 640.2,640.7" fill="#fddcaa" stroke="#000" stroke-width="0.9" stroke-linejoin="round"/>
<polygon points="650.4,652.0 651.5,651.8 652.6,651.8 653.3,651.0 654.0,650.2 654.9,650.7 655.7,651.4 656.1,652.4 657.0,653.0 656.8,654.0 656.5,654.9 656.0,655.8 656.0,656.8 654.9,656.0 653.6,655.7 652.2,655.9 651.0,656.5 651.0,655.3 650.4,654.3 650.6,653.1" fill="#fddcaa" stroke="#000" stroke-width="0.9" stroke-linejoin="round"/>
<ellipse cx="690" cy="634.5" rx="3" ry="2.6" fill="none" stroke="#000" stroke-width="1.2"/>
<polyline points="548.5,266.0 555.1,280.0 576.2,318.6 616.6,400.0 628.4,420.0 648.0,460.0 676.0,520.0 706.2,585.0" fill="none" stroke="#0a10f5" stroke-width="2.3" stroke-linejoin="round" stroke-linecap="butt" stroke-dasharray="5 2.6"/>
</g>
<path d="M878.2 154.4V664.0M853.5 154.4V664.0M828.9 154.4V664.0M804.2 154.4V664.0M779.6 154.4V664.0M755.0 154.4V664.0M730.3 154.4V664.0M705.7 154.4V664.0M681.1 154.4V664.0M656.4 154.4V664.0M631.8 154.4V664.0M607.2 154.4V664.0M582.5 154.4V664.0M557.9 154.4V664.0M533.2 154.4V664.0M508.6 154.4V664.0M484.0 154.4V664.0M459.3 154.4V664.0M434.7 154.4V664.0M410.1 154.4V664.0M385.4 154.4V664.0M360.8 154.4V664.0M336.2 154.4V664.0M311.5 154.4V664.0M286.9 154.4V664.0M262.3 154.4V664.0M237.6 154.4V664.0M213.0 154.4V664.0M188.3 154.4V664.0M163.7 154.4V664.0M139.1 154.4V664.0M114.4 154.4V664.0M92.6 169.6H902.8M92.6 210.9H902.8M92.6 253.2H902.8M92.6 296.6H902.8M92.6 341.1H902.8M92.6 386.9H902.8M92.6 433.9H902.8M92.6 482.3H902.8M92.6 532.2H902.8M92.6 583.7H902.8M92.6 636.9H902.8" stroke="#000" stroke-width="2.3" stroke-dasharray="0 6" stroke-linecap="round" fill="none"/>
<rect x="89.8" y="141.0" width="813.0" height="523.0" fill="none" stroke="#111" stroke-width="1.3"/>
<path d="M92.6 141.0H902.8M92.6 664.0H902.8M89.8 144.6V664.0M902.8 144.6V664.0M89.8 154.4V664.0M902.8 154.4V664.0" fill="none" stroke="#000" stroke-width="2.4" stroke-dasharray="0 6" stroke-linecap="round"/>
<path d="M92.8 140.0L98.4 140.0M119.8 140.0L125.4 140.0M149.8 140.0L155.4 140.0M176.8 140.0L182.4 140.0M205.9 140.0L211.5 140.0M232.9 140.0L238.5 140.0M260.8 140.0L266.4 139.8M289.9 140.0L295.5 139.3M317.8 140.0L323.3 138.9M514.8 140.0L516.7 141.6M541.8 140.0L543.7 141.6M570.9 140.0L572.8 141.6M598.8 140.0L600.7 141.6M625.3 140.0L628.5 136.6M653.3 140.0L656.2 136.8M680.8 140.0L683.6 136.8M710.8 140.0L713.5 136.8M737.8 140.0L740.4 136.7M764.8 140.0L767.3 136.6M794.8 140.0L797.2 136.5M821.8 140.0L824.1 136.5M851.8 140.0L854.0 136.4M878.8 140.0L880.9 136.4M92.8 169.0L98.4 169.0M119.8 169.0L125.4 169.0M149.8 169.0L155.4 169.0M176.8 169.0L182.4 169.0M205.9 169.0L211.5 169.0M232.9 169.0L238.5 169.0M260.8 169.0L266.4 168.8M289.9 169.0L295.4 168.2M317.8 169.0L323.2 167.7M514.8 169.0L516.7 170.6M541.8 169.0L543.7 170.6M570.9 169.0L572.8 170.6M598.8 169.0L600.7 170.6M625.3 169.0L628.5 165.6M653.3 169.0L656.2 165.8M680.8 169.0L683.6 165.8M710.8 169.0L713.5 165.8M737.8 169.0L740.4 165.7M764.8 169.0L767.3 165.6M794.8 169.0L797.2 165.5M821.8 169.0L824.1 165.5M851.8 169.0L854.0 165.4M878.8 169.0L880.9 165.4M92.8 198.0L98.4 198.2M119.8 198.0L125.4 198.1M149.8 198.0L155.4 198.1M176.8 198.0L182.4 198.1M205.9 198.0L211.5 198.0M232.9 198.0L238.5 198.0M260.8 198.0L266.4 197.8M289.9 198.0L295.5 197.3M317.8 198.0L323.3 196.8M347.3 198.0L352.6 196.2M541.8 198.0L543.7 199.6M570.9 198.0L572.8 199.6M598.8 198.0L600.7 199.6M625.3 198.0L627.2 199.6M653.3 198.0L656.1 194.8M680.8 198.0L683.4 194.7M710.8 198.0L713.3 194.6M737.8 198.0L740.3 194.6M764.8 198.0L767.2 194.5M794.8 198.0L797.1 194.5M821.8 198.0L824.0 194.5M851.8 198.0L854.0 194.4M878.8 198.0L880.9 194.4M92.8 224.5L98.4 224.8M119.8 224.5L125.4 224.8M149.8 224.5L155.4 224.7M176.8 224.5L182.4 224.7M205.9 224.5L211.5 224.6M232.9 224.5L238.5 224.5M260.8 224.5L266.4 224.3M289.9 224.5L295.5 223.8M317.8 224.5L323.3 223.3M347.3 224.5L352.6 222.8M374.3 224.5L379.5 222.4M570.9 224.5L572.8 226.1M598.8 224.5L600.7 226.1M625.3 224.5L627.2 226.1M653.3 224.5L656.0 221.2M680.8 224.5L683.3 221.1M710.8 224.5L713.2 221.0M737.8 224.5L740.1 221.0M764.8 224.5L767.1 221.0M794.8 224.5L797.0 220.9M821.8 224.5L824.0 220.9M851.8 224.5L853.9 220.9M878.8 224.5L880.9 220.9M92.8 253.0L98.4 253.5M119.8 253.0L125.4 253.4M149.8 253.0L155.4 253.3M176.8 253.0L182.4 253.2M205.9 253.0L211.5 253.1M232.9 253.0L238.5 253.1M260.8 253.0L266.4 252.8M289.9 253.0L295.5 252.3M317.8 253.0L323.3 251.9M347.3 253.0L352.7 251.4M374.3 253.0L379.5 250.9M402.3 253.0L407.5 251.0M625.3 253.0L628.4 249.5M653.3 253.0L656.0 249.6M680.8 253.0L683.2 249.5M710.8 253.0L713.1 249.4M737.8 253.0L740.0 249.4M764.8 253.0L767.0 249.4M794.8 253.0L797.0 249.4M821.8 253.0L824.0 249.3M851.8 253.0L853.9 249.3M878.8 253.0L880.9 249.3M92.8 283.0L98.3 283.9M119.8 283.0L125.3 283.8M149.8 283.0L155.4 283.7M176.8 283.0L182.4 283.5M205.9 283.0L211.5 283.4M232.9 283.0L238.5 283.3M260.8 283.0L266.4 283.0M289.9 283.0L295.5 282.6M317.8 283.0L323.4 282.3M347.3 283.0L352.8 281.9M374.3 283.0L379.7 281.5M402.3 283.0L407.7 281.6M430.8 283.0L436.2 281.7M458.7 283.0L464.2 281.8M570.9 283.0L575.5 279.9M598.8 283.0L602.8 279.5M625.3 283.0L628.9 279.4M653.3 283.0L656.5 279.4M680.8 283.0L683.8 279.3M710.8 283.0L713.6 279.1M737.8 283.0L740.6 279.1M764.8 283.0L767.6 279.1M794.8 283.0L797.6 279.1M821.8 283.0L824.6 279.1M851.8 283.0L854.5 279.1M878.8 283.0L881.5 279.1M92.8 309.6L98.2 310.9M119.8 309.6L125.3 310.8M149.8 309.6L155.3 310.6M176.8 309.6L182.3 310.4M205.9 309.6L211.5 310.2M232.9 309.6L238.5 310.0M260.8 309.6L266.4 309.8M289.9 309.6L295.5 309.5M317.8 309.6L323.4 309.3M347.3 309.6L352.9 309.0M374.3 309.6L379.8 308.7M402.3 309.6L407.8 308.7M430.8 309.6L436.3 308.7M458.7 309.6L464.2 308.8M487.8 309.6L493.3 308.8M514.8 309.6L520.2 308.1M541.8 309.6L547.0 307.4M570.9 309.6L575.7 306.8M598.8 309.6L603.1 306.2M625.3 309.6L629.3 306.1M653.3 309.6L657.0 305.9M680.8 309.6L684.3 305.7M710.8 309.6L714.2 305.6M737.8 309.6L741.2 305.6M764.8 309.6L768.1 305.6M794.8 309.6L798.1 305.6M821.8 309.6L825.1 305.6M851.8 309.6L855.1 305.5M878.8 309.6L882.1 305.5M92.8 336.6L98.1 338.3M119.8 336.6L125.2 338.1M149.8 336.6L155.3 337.9M176.8 336.6L182.3 337.7M205.9 336.6L211.4 337.4M232.9 336.6L238.5 337.2M260.8 336.6L266.4 337.0M289.9 336.6L295.5 336.8M317.8 336.6L323.4 336.7M347.3 336.6L352.9 336.5M374.3 336.6L379.9 336.3M402.3 336.6L407.9 336.2M430.8 336.6L436.4 336.2M458.7 336.6L464.3 336.1M487.8 336.6L493.4 336.1M514.8 336.6L520.3 335.4M541.8 336.6L547.1 334.7M570.9 336.6L575.9 334.0M598.8 336.6L603.4 333.4M625.3 336.6L629.7 333.2M653.3 336.6L657.5 332.9M680.8 336.6L684.8 332.7M710.8 336.6L714.7 332.6M737.8 336.6L741.7 332.6M764.8 336.6L768.7 332.6M794.8 336.6L798.7 332.6M821.8 336.6L825.7 332.6M851.8 336.6L855.7 332.6M878.8 336.6L882.7 332.6M92.8 363.6L98.0 365.6M119.8 363.6L125.1 365.4M149.8 363.6L155.2 365.2M176.8 363.6L182.2 365.0M205.9 363.6L211.4 364.7M232.9 363.6L238.4 364.5M260.8 363.6L266.4 364.3M289.9 363.6L295.5 364.2M317.8 363.6L323.4 364.0M347.3 363.6L352.9 363.8M374.3 363.6L379.9 363.7M402.3 363.6L407.9 363.6M430.8 363.6L436.4 363.5M458.7 363.6L464.3 363.4M487.8 363.6L493.4 363.3M514.8 363.6L520.3 362.6M541.8 363.6L547.1 361.9M570.9 363.6L575.9 361.1M598.8 363.6L603.5 360.5M625.3 363.6L629.8 360.3M653.3 363.6L657.6 360.1M680.8 363.6L685.0 359.9M710.8 363.6L714.9 359.7M737.8 363.6L741.9 359.8M764.8 363.6L768.9 359.8M794.8 363.6L798.9 359.8M821.8 363.6L825.9 359.8M851.8 363.6L855.9 359.8M878.8 363.6L882.9 359.8M92.8 391.5L97.9 393.8M119.8 391.5L125.0 393.6M149.8 391.5L155.1 393.4M176.8 391.5L182.1 393.2M205.9 391.5L211.3 393.0M232.9 391.5L238.4 392.8M260.8 391.5L266.3 392.6M289.9 391.5L295.4 392.4M317.8 391.5L323.4 392.2M347.3 391.5L352.9 392.1M374.3 391.5L379.9 391.9M402.3 391.5L407.9 391.8M430.8 391.5L436.4 391.6M458.7 391.5L464.3 391.5M487.8 391.5L493.4 391.3M514.8 391.5L520.3 390.6M541.8 391.5L547.2 389.9M570.9 391.5L576.0 389.1M598.8 391.5L603.5 388.5M625.3 391.5L629.9 388.3M653.3 391.5L657.8 388.1M680.8 391.5L685.1 388.0M710.8 391.5L715.0 387.9M737.8 391.5L742.1 387.9M764.8 391.5L769.1 387.9M794.8 391.5L799.1 387.9M821.8 391.5L826.1 387.9M851.8 391.5L856.1 388.0M878.8 391.5L883.2 388.0M92.8 420.0L97.7 422.6M119.8 420.0L124.8 422.5M149.8 420.0L154.9 422.2M176.8 420.0L182.0 422.0M205.9 420.0L211.2 421.8M232.9 420.0L238.3 421.6M260.8 420.0L266.2 421.4M289.9 420.0L295.4 421.2M317.8 420.0L323.3 421.1M347.3 420.0L352.8 420.9M374.3 420.0L379.8 420.8M402.3 420.0L407.9 420.6M430.8 420.0L436.4 420.4M458.7 420.0L464.3 420.2M487.8 420.0L493.4 420.0M514.8 420.0L520.4 419.3M541.8 420.0L547.2 418.5M570.9 420.0L576.0 417.8M598.8 420.0L603.6 417.1M625.3 420.0L630.0 416.9M653.3 420.0L657.9 416.8M680.8 420.0L685.3 416.6M710.8 420.0L715.2 416.6M737.8 420.0L742.3 416.6M764.8 420.0L769.3 416.6M794.8 420.0L799.3 416.7M821.8 420.0L826.3 416.7M851.8 420.0L856.4 416.8M878.8 420.0L883.4 416.8M92.8 448.5L97.7 451.2M119.8 448.5L124.8 451.1M149.8 448.5L154.9 450.9M176.8 448.5L182.0 450.7M205.9 448.5L211.1 450.5M232.9 448.5L238.2 450.3M260.8 448.5L266.2 450.1M289.9 448.5L295.3 449.9M317.8 448.5L323.3 449.8M347.3 448.5L352.8 449.6M374.3 448.5L379.8 449.4M402.3 448.5L407.9 449.2M430.8 448.5L436.4 449.0M458.7 448.5L464.3 448.7M487.8 448.5L493.4 448.5M514.8 448.5L520.4 447.8M541.8 448.5L547.2 447.1M570.9 448.5L576.1 446.3M598.8 448.5L603.6 445.6M625.3 448.5L630.0 445.5M653.3 448.5L657.9 445.3M680.8 448.5L685.3 445.2M710.8 448.5L715.3 445.2M737.8 448.5L742.4 445.3M764.8 448.5L769.5 445.4M794.8 448.5L799.6 445.5M821.8 448.5L826.6 445.7M851.8 448.5L856.7 445.8M878.8 448.5L883.8 445.9M92.8 478.0L97.6 480.9M119.8 478.0L124.7 480.7M149.8 478.0L154.8 480.5M176.8 478.0L181.9 480.4M205.9 478.0L211.1 480.2M232.9 478.0L238.1 480.0M260.8 478.0L266.1 479.8M289.9 478.0L295.3 479.6M317.8 478.0L323.2 479.4M347.3 478.0L352.8 479.2M374.3 478.0L379.8 479.1M402.3 478.0L407.8 478.8M430.8 478.0L436.4 478.5M458.7 478.0L464.3 478.3M487.8 478.0L493.4 478.0M514.8 478.0L520.4 477.3M541.8 478.0L547.2 476.6M570.9 478.0L576.1 475.8M598.8 478.0L603.6 475.2M625.3 478.0L630.1 475.0M653.3 478.0L658.0 474.9M680.8 478.0L685.4 474.8M710.8 478.0L715.4 474.8M737.8 478.0L742.5 475.0M764.8 478.0L769.7 475.2M794.8 478.0L799.8 475.5M821.8 478.0L826.9 475.7M851.8 478.0L857.0 475.9M878.8 478.0L884.1 476.2M92.8 507.6L97.5 510.6M119.8 507.6L124.6 510.5M149.8 507.6L154.7 510.3M176.8 507.6L181.8 510.1M205.9 507.6L211.0 510.0M232.9 507.6L238.0 509.8M260.8 507.6L266.0 509.7M289.9 507.6L295.2 509.4M317.8 507.6L323.2 509.2M347.3 507.6L352.7 509.0M374.3 507.6L379.8 508.8M402.3 507.6L407.8 508.5M430.8 507.6L436.4 508.2M458.7 507.6L464.3 507.9M487.8 507.6L493.4 507.6M514.8 507.6L520.4 506.9M541.8 507.6L547.2 506.2M570.9 507.6L576.1 505.5M598.8 507.6L603.7 504.8M625.3 507.6L630.1 504.7M653.3 507.6L658.0 504.6M680.8 507.6L685.5 504.5M710.8 507.6L715.5 504.5M737.8 507.6L742.7 504.8M764.8 507.6L769.8 505.1M794.8 507.6L800.0 505.5M821.8 507.6L827.1 505.8M851.8 507.6L857.2 506.1M878.8 507.6L884.3 506.5M92.8 533.0L97.5 536.1M119.8 533.0L124.5 536.0M149.8 533.0L154.6 535.8M176.8 533.0L181.7 535.7M205.9 533.0L210.9 535.6M232.9 533.0L237.9 535.4M260.8 533.0L265.9 535.3M289.9 533.0L295.1 535.1M317.8 533.0L323.1 534.8M347.3 533.0L352.7 534.6M374.3 533.0L379.7 534.4M402.3 533.0L407.8 534.1M430.8 533.0L436.4 533.7M458.7 533.0L464.3 533.4M487.8 533.0L493.4 533.0M514.8 533.0L520.4 532.3M541.8 533.0L547.2 531.7M570.9 533.0L576.1 531.0M598.8 533.0L603.7 530.3M625.3 533.0L630.2 530.2M653.3 533.0L658.1 530.1M680.8 533.0L685.6 530.0M710.8 533.0L715.6 530.1M737.8 533.0L742.8 530.4M764.8 533.0L769.9 530.7M794.8 533.0L800.1 531.1M821.8 533.0L827.2 531.4M851.8 533.0L857.3 531.8M878.8 533.0L884.3 532.2M92.8 563.6L97.4 566.8M119.8 563.6L124.4 566.7M149.8 563.6L154.5 566.6M176.8 563.6L181.6 566.5M205.9 563.6L210.7 566.4M232.9 563.6L237.8 566.3M260.8 563.6L265.8 566.1M289.9 563.6L295.0 565.9M317.8 563.6L323.0 565.7M347.3 563.6L352.6 565.4M374.3 563.6L379.7 565.2M402.3 563.6L407.8 564.8M430.8 563.6L436.3 564.4M458.7 563.6L464.3 564.0M487.8 563.6L493.4 563.6M514.8 563.6L520.4 563.0M541.8 563.6L547.2 562.3M570.9 563.6L576.1 561.6M598.8 563.6L603.8 561.0M625.3 563.6L630.2 560.9M653.3 563.6L658.2 560.9M680.8 563.6L685.7 560.8M710.8 563.6L715.7 560.9M737.8 563.6L742.9 561.3M764.8 563.6L770.0 561.6M794.8 563.6L800.2 562.0M821.8 563.6L827.3 562.3M92.8 589.6L97.3 592.9M119.8 589.6L124.4 592.8M149.8 589.6L154.5 592.7M176.8 589.6L181.5 592.6M205.9 589.6L210.7 592.5M232.9 589.6L237.8 592.4M260.8 589.6L265.7 592.2M289.9 589.6L295.0 592.0M317.8 589.6L323.0 591.8M347.3 589.6L352.6 591.5M374.3 589.6L379.6 591.3M402.3 589.6L407.7 590.9M430.8 589.6L436.3 590.5M458.7 589.6L464.3 590.1M487.8 589.6L493.4 589.6M514.8 589.6L520.4 589.0M541.8 589.6L547.2 588.3M570.9 589.6L576.1 587.6M598.8 589.6L603.8 587.0M625.3 589.6L630.2 587.0M653.3 589.6L658.2 586.9M680.8 589.6L685.7 586.9M710.8 589.6L715.8 587.1M764.8 589.6L770.1 587.7M92.8 622.2L97.3 625.6M119.8 622.2L124.3 625.5M149.8 622.2L154.4 625.4M176.8 622.2L181.5 625.3M205.9 622.2L210.6 625.2M232.9 622.2L237.7 625.1M260.8 622.2L265.7 625.0M289.9 622.2L294.9 624.7M317.8 622.2L322.9 624.5M347.3 622.2L352.5 624.3M374.3 622.2L379.6 624.0M402.3 622.2L407.7 623.6M430.8 622.2L436.3 623.1M458.7 622.2L464.3 622.7M487.8 622.2L493.4 622.2M514.8 622.2L520.4 621.6M541.8 622.2L547.2 620.9M570.9 622.2L576.1 620.2M598.8 622.2L603.8 619.6M625.3 622.2L630.3 619.6M653.3 622.2L658.3 619.6M710.8 622.2L715.9 619.8M737.8 622.2L743.0 620.2M764.8 622.2L770.1 620.5M794.8 622.2L800.2 620.9M92.8 649.2L97.2 652.6M119.8 649.2L124.3 652.6M149.8 649.2L154.3 652.5M176.8 649.2L181.4 652.4M205.9 649.2L210.6 652.3M232.9 649.2L237.6 652.2M260.8 649.2L265.6 652.1M289.9 649.2L294.8 651.8M317.8 649.2L322.9 651.6M347.3 649.2L352.5 651.4M374.3 649.2L379.6 651.1M402.3 649.2L407.7 650.7M430.8 649.2L436.3 650.2M458.7 649.2L464.3 649.7M487.8 649.2L493.4 649.2M514.8 649.2L520.4 648.6M541.8 649.2L547.2 647.9M570.9 649.2L576.1 647.2M598.8 649.2L603.8 646.6M625.3 649.2L630.3 646.6M653.3 649.2L658.3 646.7M680.8 649.2L685.8 646.8M710.8 649.2L715.9 647.0M737.8 649.2L743.1 647.3" stroke="#0000ff" stroke-width="1.9" stroke-linecap="round" fill="none"/><path d="M98.40 140.00h0M125.40 140.00h0M155.40 140.00h0M182.40 140.00h0M211.50 140.00h0M238.50 140.00h0M266.40 139.82h0M295.46 139.33h0M323.28 138.86h0M516.72 141.61h0M543.72 141.61h0M572.82 141.61h0M600.72 141.61h0M628.54 136.61h0M656.19 136.83h0M683.55 136.83h0M713.47 136.75h0M740.38 136.69h0M767.29 136.62h0M797.19 136.55h0M824.10 136.49h0M854.00 136.42h0M880.90 136.37h0M98.40 169.00h0M125.40 169.00h0M155.40 169.00h0M182.40 169.00h0M211.50 169.00h0M238.50 169.00h0M266.40 168.79h0M295.45 168.24h0M323.25 167.71h0M516.72 170.61h0M543.72 170.61h0M572.82 170.61h0M600.72 170.61h0M628.54 165.61h0M656.19 165.83h0M683.55 165.83h0M713.47 165.75h0M740.38 165.69h0M767.29 165.62h0M797.19 165.55h0M824.10 165.49h0M854.00 165.42h0M880.90 165.37h0M98.40 198.16h0M125.40 198.14h0M155.40 198.11h0M182.40 198.08h0M211.50 198.05h0M238.50 198.02h0M266.40 197.80h0M295.45 197.27h0M323.26 196.76h0M352.61 196.23h0M543.72 199.61h0M572.82 199.61h0M600.72 199.61h0M627.22 199.61h0M656.11 194.76h0M683.43 194.73h0M713.32 194.64h0M740.26 194.59h0M767.19 194.55h0M797.12 194.50h0M824.05 194.45h0M853.97 194.41h0M880.90 194.36h0M98.39 224.82h0M125.39 224.77h0M155.40 224.71h0M182.40 224.65h0M211.50 224.59h0M238.50 224.54h0M266.40 224.31h0M295.46 223.79h0M323.27 223.31h0M352.64 222.80h0M379.47 222.35h0M572.82 226.11h0M600.72 226.11h0M627.22 226.11h0M656.04 221.19h0M683.31 221.14h0M713.18 221.04h0M740.14 221.01h0M767.09 220.98h0M797.04 220.95h0M824.00 220.92h0M853.95 220.89h0M880.90 220.86h0M98.38 253.48h0M125.39 253.41h0M155.39 253.31h0M182.40 253.23h0M211.50 253.14h0M238.50 253.05h0M266.40 252.82h0M295.46 252.32h0M323.28 251.86h0M352.66 251.37h0M379.51 250.94h0M407.55 251.04h0M628.44 249.48h0M655.98 249.58h0M683.21 249.50h0M713.05 249.39h0M740.03 249.38h0M767.01 249.37h0M796.99 249.35h0M823.97 249.34h0M853.95 249.33h0M880.93 249.32h0M98.32 283.92h0M125.34 283.81h0M155.36 283.66h0M182.38 283.53h0M211.49 283.39h0M238.49 283.25h0M266.40 283.03h0M295.49 282.64h0M323.35 282.28h0M352.79 281.89h0M379.71 281.54h0M407.72 281.59h0M436.24 281.69h0M464.17 281.78h0M575.49 279.94h0M602.77 279.52h0M628.90 279.44h0M656.53 279.40h0M683.77 279.26h0M713.61 279.14h0M740.60 279.13h0M767.59 279.12h0M797.57 279.11h0M824.56 279.10h0M854.54 279.09h0M881.53 279.08h0M98.24 310.92h0M125.28 310.77h0M155.31 310.57h0M182.34 310.40h0M211.47 310.21h0M238.48 310.03h0M266.40 309.82h0M295.50 309.53h0M323.39 309.26h0M352.86 308.97h0M379.83 308.71h0M407.83 308.71h0M436.33 308.73h0M464.24 308.76h0M493.34 308.78h0M520.20 308.12h0M546.97 307.44h0M575.69 306.78h0M603.10 306.23h0M629.33 306.06h0M657.05 305.90h0M684.32 305.72h0M714.16 305.58h0M741.16 305.57h0M768.15 305.57h0M798.14 305.56h0M825.13 305.55h0M855.13 305.55h0M882.12 305.54h0M98.13 338.31h0M125.19 338.12h0M155.25 337.89h0M182.30 337.67h0M211.44 337.44h0M238.47 337.22h0M266.38 337.01h0M295.50 336.83h0M323.40 336.65h0M352.90 336.46h0M379.89 336.29h0M407.89 336.24h0M436.38 336.19h0M464.28 336.14h0M493.38 336.10h0M520.27 335.42h0M547.08 334.74h0M575.88 334.03h0M603.40 333.40h0M629.72 333.16h0M657.52 332.92h0M684.82 332.70h0M714.68 332.56h0M741.68 332.56h0M768.68 332.56h0M798.67 332.56h0M825.67 332.56h0M855.67 332.56h0M882.67 332.56h0M98.02 365.62h0M125.09 365.43h0M155.17 365.20h0M182.23 364.98h0M211.38 364.75h0M238.42 364.53h0M266.35 364.33h0M295.47 364.16h0M323.39 363.99h0M352.90 363.82h0M379.90 363.66h0M407.90 363.56h0M436.40 363.46h0M464.30 363.37h0M493.39 363.27h0M520.31 362.57h0M547.13 361.87h0M575.93 361.14h0M603.46 360.49h0M629.80 360.27h0M657.65 360.07h0M684.98 359.88h0M714.87 359.75h0M741.88 359.76h0M768.88 359.77h0M798.89 359.78h0M825.90 359.79h0M855.91 359.80h0M882.92 359.81h0M97.89 393.82h0M124.97 393.64h0M155.06 393.41h0M182.13 393.20h0M211.30 392.97h0M238.36 392.76h0M266.30 392.56h0M295.43 392.40h0M323.35 392.24h0M352.87 392.08h0M379.88 391.92h0M407.89 391.78h0M436.40 391.63h0M464.30 391.49h0M493.40 391.34h0M520.33 390.62h0M547.17 389.90h0M575.98 389.15h0M603.51 388.47h0M629.89 388.29h0M657.76 388.12h0M685.13 387.95h0M715.05 387.85h0M742.07 387.87h0M769.09 387.89h0M799.11 387.92h0M826.12 387.94h0M856.14 387.97h0M883.16 387.99h0M97.74 422.63h0M124.83 422.45h0M154.94 422.23h0M182.02 422.02h0M211.20 421.80h0M238.27 421.59h0M266.22 421.39h0M295.36 421.24h0M323.29 421.09h0M352.82 420.94h0M379.84 420.79h0M407.87 420.60h0M436.39 420.41h0M464.30 420.21h0M493.40 420.01h0M520.35 419.28h0M547.20 418.53h0M576.03 417.76h0M603.57 417.06h0M629.97 416.91h0M657.88 416.77h0M685.28 416.64h0M715.22 416.57h0M742.25 416.60h0M769.28 416.64h0M799.31 416.68h0M826.33 416.71h0M856.36 416.75h0M883.39 416.79h0M97.68 451.25h0M124.77 451.09h0M154.87 450.88h0M181.95 450.69h0M211.13 450.49h0M238.20 450.30h0M266.16 450.11h0M295.31 449.94h0M323.25 449.77h0M352.79 449.59h0M379.82 449.43h0M407.86 449.21h0M436.38 448.97h0M464.29 448.75h0M493.40 448.51h0M520.35 447.79h0M547.21 447.06h0M576.05 446.30h0M603.60 445.62h0M630.01 445.47h0M657.92 445.34h0M685.34 445.22h0M715.31 445.18h0M742.39 445.29h0M769.47 445.41h0M799.56 445.55h0M826.63 445.67h0M856.71 445.81h0M883.78 445.93h0M97.61 480.86h0M124.69 480.72h0M154.79 480.54h0M181.87 480.37h0M211.06 480.18h0M238.13 480.01h0M266.09 479.83h0M295.26 479.64h0M323.21 479.45h0M352.76 479.25h0M379.80 479.06h0M407.84 478.81h0M436.37 478.55h0M464.29 478.28h0M493.40 478.01h0M520.36 477.31h0M547.22 476.59h0M576.07 475.85h0M603.64 475.18h0M630.05 475.04h0M657.97 474.91h0M685.39 474.80h0M715.39 474.79h0M742.53 475.00h0M769.66 475.21h0M799.79 475.45h0M826.89 475.67h0M857.00 475.92h0M884.09 476.16h0M97.54 510.58h0M124.62 510.46h0M154.71 510.29h0M181.79 510.15h0M210.97 509.98h0M238.04 509.83h0M266.01 509.65h0M295.19 509.44h0M323.16 509.23h0M352.72 509.01h0M379.77 508.81h0M407.82 508.52h0M436.37 508.22h0M464.29 507.92h0M493.40 507.61h0M520.36 506.92h0M547.23 506.23h0M576.09 505.50h0M603.67 504.84h0M630.10 504.71h0M658.03 504.60h0M685.46 504.49h0M715.48 504.52h0M742.66 504.81h0M769.82 505.11h0M799.97 505.46h0M827.09 505.77h0M857.20 506.13h0M884.28 506.46h0M97.47 536.09h0M124.54 535.98h0M154.63 535.84h0M181.70 535.72h0M210.87 535.58h0M237.94 535.45h0M265.92 535.28h0M295.11 535.05h0M323.09 534.83h0M352.67 534.59h0M379.73 534.37h0M407.80 534.05h0M436.36 533.71h0M464.29 533.37h0M493.40 533.01h0M520.36 532.34h0M547.24 531.66h0M576.11 530.96h0M603.71 530.31h0M630.15 530.21h0M658.11 530.12h0M685.56 530.04h0M715.59 530.11h0M742.77 530.41h0M769.92 530.73h0M800.07 531.09h0M827.17 531.43h0M857.27 531.81h0M884.34 532.15h0M97.39 566.81h0M124.45 566.73h0M154.52 566.62h0M181.58 566.51h0M210.75 566.40h0M237.81 566.30h0M265.79 566.14h0M295.01 565.90h0M323.01 565.66h0M352.60 565.41h0M379.68 565.17h0M407.77 564.80h0M436.34 564.41h0M464.28 564.02h0M493.40 563.62h0M520.36 562.97h0M547.25 562.31h0M576.14 561.62h0M603.76 561.00h0M630.22 560.93h0M658.20 560.88h0M685.67 560.83h0M715.72 560.93h0M742.89 561.26h0M770.03 561.60h0M800.16 561.98h0M827.26 562.34h0M97.34 592.88h0M124.39 592.80h0M154.47 592.70h0M181.53 592.60h0M210.69 592.49h0M237.75 592.40h0M265.74 592.25h0M294.96 592.01h0M322.96 591.77h0M352.56 591.52h0M379.64 591.28h0M407.75 590.89h0M436.33 590.47h0M464.28 590.05h0M493.40 589.62h0M520.36 588.97h0M547.25 588.31h0M576.14 587.62h0M603.76 587.00h0M630.24 586.96h0M658.23 586.95h0M685.73 586.94h0M715.79 587.06h0M770.08 587.73h0M97.27 625.57h0M124.33 625.49h0M154.40 625.40h0M181.46 625.31h0M210.62 625.21h0M237.68 625.12h0M265.67 624.97h0M294.89 624.74h0M322.90 624.50h0M352.51 624.25h0M379.60 624.02h0M407.72 623.60h0M436.32 623.14h0M464.28 622.69h0M493.40 622.22h0M520.36 621.57h0M547.25 620.91h0M576.14 620.22h0M603.76 619.60h0M630.26 619.60h0M658.28 619.63h0M715.87 619.82h0M743.01 620.16h0M770.14 620.50h0M800.25 620.90h0M97.22 652.64h0M124.27 652.57h0M154.34 652.48h0M181.40 652.39h0M210.56 652.30h0M237.62 652.22h0M265.61 652.08h0M294.84 651.84h0M322.85 651.61h0M352.47 651.36h0M379.56 651.13h0M407.70 650.69h0M436.31 650.21h0M464.28 649.73h0M493.40 649.22h0M520.36 648.57h0M547.25 647.91h0M576.14 647.22h0M603.76 646.60h0M630.28 646.63h0M658.31 646.71h0M685.85 646.78h0M715.93 646.96h0M743.07 647.30h0" stroke="#0000ff" stroke-width="3.8" stroke-linecap="round" fill="none"/><path d="M101.30 140.00L98.40 141.85L98.40 138.15ZM128.30 140.00L125.40 141.85L125.40 138.15ZM158.30 140.00L155.40 141.85L155.40 138.15ZM185.30 140.00L182.40 141.85L182.40 138.15ZM214.40 140.00L211.50 141.85L211.50 138.15ZM241.40 140.00L238.50 141.85L238.50 138.15ZM269.30 139.72L266.46 141.67L266.34 137.97ZM298.34 138.98L295.68 141.16L295.24 137.49ZM326.12 138.27L323.66 140.67L322.91 137.05ZM630.54 134.52L629.88 137.89L627.20 135.34ZM658.14 134.68L657.56 138.07L654.82 135.58ZM685.45 134.64L684.95 138.04L682.16 135.62ZM715.31 134.51L714.90 137.93L712.04 135.58ZM742.16 134.40L741.84 137.82L738.92 135.55ZM769.01 134.29L768.78 137.72L765.80 135.52ZM798.85 134.17L798.71 137.60L795.67 135.49ZM825.69 134.06L825.65 137.50L822.55 135.47ZM855.52 133.95L855.57 137.39L852.42 135.45ZM882.36 133.86L882.51 137.29L879.30 135.44ZM101.30 169.00L98.40 170.85L98.40 167.15ZM128.30 169.00L125.40 170.85L125.40 167.15ZM158.30 169.00L155.40 170.85L155.40 167.15ZM185.30 169.00L182.40 170.85L182.40 167.15ZM214.40 169.00L211.50 170.85L211.50 167.15ZM241.40 169.00L238.50 170.85L238.50 167.15ZM269.29 168.69L266.46 170.64L266.33 166.94ZM298.32 167.84L295.70 170.07L295.20 166.40ZM326.07 167.05L323.68 169.51L322.82 165.91ZM630.54 163.52L629.88 166.89L627.20 164.34ZM658.14 163.68L657.56 167.07L654.82 164.58ZM685.45 163.64L684.95 167.04L682.16 164.62ZM715.31 163.51L714.90 166.93L712.04 164.58ZM742.16 163.40L741.84 166.82L738.92 164.55ZM769.01 163.29L768.78 166.72L765.80 164.52ZM798.85 163.17L798.71 166.60L795.67 164.49ZM825.69 163.06L825.65 166.50L822.55 164.47ZM855.52 162.95L855.57 166.39L852.42 164.45ZM882.36 162.86L882.51 166.29L879.30 164.44ZM101.30 198.25L98.34 200.01L98.45 196.31ZM128.30 198.21L125.35 199.99L125.44 196.29ZM158.30 198.16L155.36 199.96L155.43 196.26ZM185.30 198.12L182.37 199.93L182.43 196.23ZM214.40 198.07L211.48 199.90L211.52 196.20ZM241.40 198.03L238.49 199.87L238.51 196.17ZM269.29 197.70L266.46 199.65L266.33 195.95ZM298.33 196.88L295.69 199.10L295.21 195.43ZM326.09 196.12L323.67 198.56L322.85 194.95ZM355.37 195.32L353.20 197.99L352.03 194.48ZM658.01 192.56L657.51 195.97L654.71 193.54ZM685.25 192.47L684.87 195.89L681.99 193.57ZM715.06 192.32L714.80 195.75L711.84 193.53ZM741.95 192.24L741.76 195.68L738.76 193.51ZM768.84 192.16L768.71 195.60L765.67 193.49ZM798.72 192.08L798.66 195.52L795.57 193.48ZM825.60 192.00L825.61 195.44L822.49 193.46ZM855.47 191.92L855.56 195.36L852.39 193.45ZM882.36 191.85L882.50 195.29L879.30 193.44ZM101.29 224.98L98.29 226.66L98.50 222.97ZM128.29 224.91L125.31 226.62L125.48 222.92ZM158.29 224.81L155.33 226.55L155.46 222.86ZM185.30 224.73L182.35 226.50L182.45 222.80ZM214.40 224.64L211.47 226.44L211.53 222.74ZM241.40 224.55L238.49 226.39L238.51 222.69ZM269.30 224.21L266.46 226.16L266.33 222.46ZM298.33 223.43L295.69 225.63L295.22 221.96ZM326.10 222.69L323.67 225.11L322.88 221.50ZM355.40 221.92L353.20 224.56L352.07 221.04ZM382.15 221.24L380.18 224.06L378.76 220.64ZM657.88 218.95L657.46 222.37L654.61 220.01ZM685.05 218.81L684.80 222.24L681.83 220.03ZM714.82 218.65L714.70 222.09L711.66 219.99ZM741.75 218.60L741.67 222.04L738.60 219.98ZM768.68 218.55L768.64 221.99L765.54 219.97ZM798.59 218.50L798.61 221.94L795.48 219.96ZM825.52 218.45L825.57 221.89L822.42 219.95ZM855.43 218.40L855.54 221.84L852.36 219.94ZM882.35 218.35L882.50 221.79L879.30 219.94ZM101.27 253.73L98.22 255.33L98.54 251.64ZM128.28 253.62L125.25 255.25L125.52 251.56ZM158.29 253.48L155.29 255.16L155.49 251.47ZM185.29 253.35L182.32 255.08L182.47 251.38ZM214.40 253.21L211.45 254.99L211.54 251.29ZM241.40 253.08L238.48 254.90L238.52 251.20ZM269.30 252.72L266.46 254.67L266.34 250.97ZM298.34 251.98L295.68 254.16L295.24 250.49ZM326.12 251.27L323.66 253.67L322.91 250.05ZM355.43 250.53L353.20 253.14L352.12 249.60ZM382.20 249.88L380.19 252.66L378.83 249.22ZM410.26 250.03L408.19 252.78L406.90 249.31ZM630.37 247.31L629.82 250.71L627.06 248.25ZM657.77 247.30L657.44 250.73L654.53 248.44ZM684.86 247.11L684.74 250.55L681.69 248.45ZM714.59 246.93L714.62 250.37L711.48 248.41ZM741.55 246.91L741.61 250.35L738.46 248.41ZM768.52 246.89L768.59 250.33L765.43 248.41ZM798.48 246.87L798.58 250.31L795.40 248.40ZM825.45 246.85L825.56 250.29L822.38 248.40ZM855.41 246.83L855.54 250.26L852.35 248.40ZM882.38 246.81L882.53 250.24L879.33 248.39ZM101.18 284.40L98.02 285.75L98.63 282.10ZM128.21 284.23L125.07 285.64L125.61 281.98ZM158.24 284.00L155.14 285.50L155.58 281.82ZM185.26 283.80L182.20 285.37L182.55 281.69ZM214.38 283.59L211.36 285.23L211.61 281.54ZM241.39 283.38L238.41 285.10L238.58 281.40ZM269.30 283.04L266.39 284.88L266.41 281.18ZM298.38 282.46L295.61 284.49L295.37 280.80ZM326.23 281.90L323.59 284.11L323.11 280.44ZM355.63 281.32L353.16 283.70L352.42 280.08ZM382.51 280.79L380.19 283.33L379.23 279.76ZM410.53 280.86L408.19 283.38L407.26 279.80ZM439.06 281.01L436.68 283.48L435.81 279.89ZM467.00 281.15L464.57 283.58L463.76 279.97ZM577.90 278.34L576.51 281.48L574.46 278.40ZM604.95 277.61L603.99 280.91L601.55 278.13ZM630.96 277.40L630.20 280.76L627.60 278.13ZM658.46 277.24L657.90 280.64L655.15 278.17ZM685.58 276.99L685.22 280.41L682.33 278.11ZM715.32 276.79L715.11 280.23L712.12 278.05ZM742.30 276.78L742.10 280.21L739.10 278.04ZM769.28 276.76L769.09 280.20L766.08 278.04ZM799.25 276.75L799.08 280.18L796.06 278.04ZM826.23 276.73L826.07 280.17L823.05 278.03ZM856.21 276.71L856.06 280.15L853.03 278.03ZM883.19 276.70L883.05 280.14L880.01 278.02ZM101.06 311.60L97.81 312.72L98.68 309.12ZM128.11 311.37L124.89 312.58L125.66 308.96ZM158.17 311.08L154.99 312.40L155.64 308.75ZM185.21 310.81L182.08 312.23L182.61 308.57ZM214.35 310.53L211.26 312.05L211.67 308.37ZM241.37 310.26L238.34 311.88L238.63 308.19ZM269.29 309.93L266.32 311.67L266.47 307.97ZM298.40 309.50L295.52 311.38L295.48 307.68ZM326.28 309.08L323.50 311.11L323.28 307.41ZM355.75 308.65L353.07 310.81L352.66 307.13ZM382.69 308.25L380.12 310.54L379.53 306.88ZM410.69 308.24L408.12 310.53L407.53 306.88ZM439.20 308.28L436.62 310.56L436.05 306.90ZM467.10 308.32L464.51 310.59L463.96 306.93ZM496.21 308.36L493.61 310.61L493.07 306.95ZM523.00 307.35L520.69 309.90L519.71 306.33ZM549.64 306.33L547.68 309.15L546.26 305.74ZM578.19 305.30L576.63 308.37L574.75 305.18ZM605.38 304.45L604.24 307.69L601.96 304.78ZM631.51 304.14L630.55 307.44L628.11 304.67ZM659.11 303.87L658.35 307.22L655.75 304.58ZM686.27 303.57L685.69 306.96L682.95 304.47ZM716.02 303.35L715.58 306.76L712.74 304.39ZM743.01 303.34L742.58 306.76L739.73 304.39ZM770.00 303.33L769.57 306.75L766.73 304.38ZM799.99 303.32L799.57 306.74L796.72 304.38ZM826.98 303.32L826.56 306.73L823.71 304.38ZM856.97 303.31L856.56 306.72L853.70 304.37ZM883.95 303.30L883.55 306.71L880.69 304.37ZM100.89 339.20L97.57 340.07L98.70 336.55ZM127.98 338.91L124.68 339.90L125.69 336.34ZM158.07 338.55L154.82 339.69L155.68 336.09ZM185.14 338.23L181.94 339.49L182.65 335.86ZM214.30 337.87L211.16 339.27L211.71 335.61ZM241.35 337.54L238.26 339.06L238.67 335.38ZM269.28 337.22L266.25 338.86L266.52 335.17ZM298.39 336.95L295.42 338.68L295.57 334.98ZM326.30 336.68L323.38 338.50L323.42 334.80ZM355.80 336.39L352.94 338.31L352.85 334.61ZM382.79 336.13L379.99 338.14L379.79 334.45ZM410.78 336.05L408.01 338.08L407.77 334.39ZM439.28 335.98L436.52 338.03L436.25 334.34ZM467.17 335.91L464.43 337.99L464.13 334.30ZM496.27 335.84L493.54 337.94L493.21 334.26ZM523.11 334.81L520.66 337.23L519.89 333.61ZM549.82 333.77L547.70 336.48L546.47 332.99ZM578.45 332.70L576.72 335.68L575.03 332.39ZM605.78 331.74L604.45 334.92L602.34 331.88ZM632.00 331.37L630.85 334.61L628.58 331.70ZM659.71 331.02L658.74 334.32L656.31 331.53ZM686.91 330.69L686.11 334.03L683.54 331.38ZM716.68 330.46L716.01 333.84L713.34 331.28ZM743.68 330.46L743.01 333.84L740.34 331.28ZM770.68 330.46L770.01 333.84L767.34 331.28ZM800.68 330.46L800.01 333.84L797.34 331.28ZM827.68 330.46L827.01 333.84L824.34 331.28ZM857.68 330.46L857.01 333.84L854.34 331.28ZM884.68 330.46L884.01 333.84L881.34 331.28ZM100.73 366.66L97.36 367.34L98.69 363.89ZM127.83 366.38L124.49 367.18L125.70 363.69ZM157.95 366.03L154.64 366.97L155.70 363.42ZM185.04 365.70L181.77 366.78L182.68 363.19ZM214.22 365.34L211.00 366.56L211.76 362.94ZM241.28 365.01L238.11 366.35L238.73 362.71ZM269.23 364.70L266.11 366.16L266.59 362.49ZM298.36 364.45L295.29 366.00L295.66 362.32ZM326.28 364.20L323.26 365.84L323.52 362.15ZM355.79 363.93L352.82 365.67L352.97 361.97ZM382.80 363.69L379.88 365.51L379.92 361.81ZM410.80 363.53L407.91 365.41L407.89 361.71ZM439.30 363.39L436.44 365.31L436.35 361.61ZM467.19 363.25L464.37 365.21L464.22 361.52ZM496.29 363.10L493.50 365.11L493.28 361.42ZM523.16 362.04L520.64 364.39L519.97 360.76ZM549.88 360.97L547.70 363.63L546.55 360.11ZM578.54 359.87L576.74 362.80L575.12 359.48ZM605.87 358.88L604.48 362.03L602.43 358.95ZM632.14 358.55L630.90 361.76L628.71 358.78ZM659.90 358.24L658.81 361.50L656.48 358.63ZM687.15 357.95L686.21 361.26L683.75 358.49ZM716.97 357.75L716.14 361.09L713.59 358.41ZM743.99 357.77L743.14 361.11L740.61 358.41ZM771.00 357.79L770.15 361.12L767.62 358.42ZM801.02 357.80L800.16 361.13L797.63 358.43ZM828.03 357.82L827.16 361.15L824.65 358.43ZM858.05 357.83L857.17 361.16L854.66 358.44ZM885.06 357.85L884.18 361.17L881.67 358.45ZM100.53 395.03L97.13 395.51L98.66 392.14ZM127.65 394.75L124.26 395.35L125.68 391.94ZM157.79 394.40L154.43 395.15L155.70 391.68ZM184.90 394.08L181.57 394.97L182.70 391.44ZM214.10 393.74L210.82 394.76L211.79 391.19ZM241.18 393.41L237.94 394.56L238.77 390.95ZM269.15 393.11L265.95 394.38L266.65 390.74ZM298.29 392.86L295.13 394.22L295.72 390.57ZM326.23 392.62L323.11 394.07L323.60 390.41ZM355.76 392.37L352.68 393.92L353.06 390.23ZM382.78 392.14L379.74 393.77L380.02 390.08ZM410.79 391.92L407.80 393.63L407.98 389.93ZM439.30 391.70L436.36 393.48L436.44 389.78ZM467.20 391.48L464.30 393.34L464.30 389.64ZM496.30 391.25L493.45 393.19L493.34 389.49ZM523.20 390.17L520.62 392.45L520.04 388.80ZM549.94 389.07L547.70 391.67L546.64 388.12ZM578.61 387.93L576.76 390.83L575.21 387.47ZM605.95 386.91L604.51 390.03L602.51 386.92ZM632.26 386.62L630.95 389.80L628.83 386.77ZM660.07 386.36L658.88 389.59L656.64 386.64ZM687.38 386.12L686.31 389.39L683.96 386.52ZM717.25 385.96L716.25 389.25L713.84 386.45ZM744.28 385.99L743.26 389.28L740.87 386.46ZM771.30 386.03L770.28 389.31L767.89 386.48ZM801.34 386.06L800.29 389.34L797.92 386.50ZM828.36 386.10L827.30 389.37L824.95 386.51ZM858.39 386.14L857.31 389.40L854.98 386.53ZM885.42 386.17L884.32 389.43L882.00 386.55ZM100.31 423.99L96.88 424.26L98.61 421.00ZM127.44 423.72L124.02 424.12L125.64 420.79ZM157.60 423.38L154.20 423.93L155.67 420.53ZM184.73 423.07L181.35 423.75L182.69 420.30ZM213.95 422.73L210.61 423.55L211.80 420.05ZM241.05 422.41L237.75 423.36L238.79 419.81ZM269.03 422.11L265.76 423.18L266.68 419.60ZM298.19 421.88L294.95 423.04L295.77 419.44ZM326.14 421.66L322.93 422.91L323.65 419.28ZM355.68 421.42L352.51 422.76L353.13 419.11ZM382.71 421.20L379.58 422.63L380.11 418.96ZM410.75 420.92L407.67 422.44L408.07 418.76ZM439.28 420.62L436.25 422.25L436.52 418.56ZM467.19 420.32L464.23 422.06L464.37 418.36ZM496.30 420.01L493.40 421.86L493.40 418.16ZM523.23 418.90L520.59 421.11L520.11 417.44ZM550.00 417.77L547.69 420.31L546.72 416.74ZM578.69 416.60L576.77 419.45L575.29 416.06ZM606.04 415.54L604.54 418.64L602.60 415.49ZM632.39 415.31L630.99 418.45L628.95 415.37ZM660.25 415.10L658.94 418.28L656.81 415.26ZM687.60 414.90L686.39 418.12L684.17 415.16ZM717.51 414.79L716.36 418.03L714.09 415.10ZM744.56 414.84L743.37 418.07L741.13 415.13ZM771.60 414.89L770.39 418.12L768.17 415.16ZM801.64 414.95L800.40 418.16L798.21 415.19ZM828.68 415.01L827.42 418.21L825.25 415.21ZM858.72 415.07L857.43 418.26L855.29 415.24ZM885.76 415.12L884.45 418.30L882.32 415.27ZM100.21 452.67L96.77 452.86L98.59 449.63ZM127.34 452.43L123.91 452.73L125.62 449.45ZM157.49 452.12L154.08 452.56L155.66 449.21ZM184.62 451.83L181.23 452.40L182.68 448.99ZM213.85 451.52L210.48 452.22L211.79 448.76ZM240.95 451.23L237.61 452.05L238.80 448.54ZM268.94 450.94L265.63 451.88L266.70 448.34ZM298.12 450.68L294.84 451.72L295.79 448.15ZM326.08 450.43L322.84 451.57L323.67 447.97ZM355.64 450.16L352.43 451.41L353.15 447.78ZM382.68 449.91L379.52 451.25L380.13 447.60ZM410.73 449.57L407.62 451.04L408.09 447.37ZM439.27 449.22L436.22 450.82L436.54 447.13ZM467.19 448.88L464.21 450.60L464.38 446.90ZM496.30 448.51L493.40 450.36L493.40 446.66ZM523.23 447.42L520.59 449.63L520.12 445.96ZM550.01 446.31L547.69 448.85L546.74 445.27ZM578.72 445.16L576.78 448.00L575.32 444.60ZM606.09 444.12L604.55 447.20L602.65 444.03ZM632.45 443.90L631.01 447.03L629.01 443.91ZM660.32 443.71L658.97 446.87L656.88 443.81ZM687.69 443.52L686.42 446.72L684.25 443.72ZM717.64 443.46L716.41 446.67L714.21 443.69ZM744.77 443.63L743.45 446.81L741.33 443.78ZM771.89 443.81L770.49 446.96L768.45 443.87ZM802.02 444.02L800.53 447.12L798.58 443.97ZM829.13 444.20L827.57 447.27L825.70 444.07ZM859.25 444.41L857.60 447.43L855.82 444.19ZM886.36 444.61L884.63 447.58L882.93 444.29ZM100.10 482.35L96.67 482.45L98.56 479.27ZM127.23 482.13L123.80 482.34L125.59 479.10ZM157.38 481.85L153.95 482.19L155.63 478.89ZM184.50 481.60L181.09 482.05L182.66 478.69ZM213.73 481.32L210.33 481.89L211.78 478.48ZM240.83 481.05L237.46 481.74L238.79 478.28ZM268.83 480.78L265.49 481.58L266.70 478.08ZM298.03 480.48L294.72 481.41L295.80 477.87ZM326.01 480.20L322.73 481.24L323.69 477.66ZM355.59 479.90L352.35 481.05L353.17 477.45ZM382.65 479.62L379.45 480.88L380.15 477.25ZM410.71 479.23L407.57 480.64L408.11 476.98ZM439.26 478.83L436.19 480.39L436.55 476.70ZM467.19 478.43L464.20 480.13L464.39 476.44ZM496.30 478.02L493.40 479.86L493.40 476.16ZM523.23 476.95L520.59 479.14L520.13 475.47ZM550.03 475.86L547.69 478.38L546.75 474.80ZM578.75 474.73L576.78 477.56L575.36 474.14ZM606.14 473.71L604.57 476.77L602.70 473.58ZM632.51 473.50L631.03 476.61L629.07 473.47ZM660.39 473.31L658.99 476.46L656.95 473.37ZM687.77 473.14L686.45 476.31L684.33 473.28ZM717.77 473.13L716.45 476.31L714.33 473.28ZM744.98 473.45L743.52 476.56L741.54 473.44ZM772.17 473.77L770.58 476.81L768.73 473.61ZM802.37 474.13L800.63 477.10L798.94 473.80ZM829.53 474.47L827.66 477.36L826.12 473.99ZM859.69 474.85L857.69 477.64L856.32 474.21ZM886.83 475.20L884.70 477.90L883.48 474.41ZM99.99 512.13L96.55 512.15L98.52 509.02ZM127.11 511.94L123.67 512.05L125.56 508.86ZM157.25 511.69L153.82 511.92L155.60 508.67ZM184.37 511.46L180.95 511.79L182.63 508.50ZM213.59 511.22L210.18 511.66L211.76 508.31ZM240.70 510.98L237.30 511.53L238.77 508.13ZM268.71 510.72L265.33 511.37L266.69 507.93ZM297.93 510.39L294.58 511.19L295.80 507.69ZM325.93 510.08L322.62 511.00L323.70 507.46ZM355.53 509.74L352.25 510.80L353.19 507.22ZM382.60 509.43L379.37 510.61L380.17 507.00ZM410.68 509.00L407.52 510.35L408.13 506.70ZM439.25 508.54L436.16 510.06L436.57 506.38ZM467.19 508.09L464.18 509.77L464.40 506.08ZM496.30 507.62L493.40 509.46L493.40 505.76ZM523.24 506.57L520.58 508.76L520.14 505.09ZM550.04 505.51L547.68 508.02L546.77 504.43ZM578.78 504.41L576.78 507.21L575.40 503.78ZM606.19 503.41L604.58 506.45L602.76 503.23ZM632.58 503.21L631.05 506.29L629.14 503.12ZM660.47 503.04L659.02 506.16L657.03 503.03ZM687.87 502.88L686.48 506.03L684.43 502.95ZM717.90 502.93L716.50 506.07L714.46 502.98ZM745.17 503.37L743.58 506.42L741.74 503.21ZM772.42 503.82L770.64 506.77L769.00 503.46ZM802.65 504.34L800.68 507.16L799.26 503.75ZM829.83 504.83L827.70 507.52L826.49 504.02ZM860.00 505.37L857.69 507.92L856.72 504.35ZM887.12 505.87L884.66 508.27L883.91 504.65ZM99.89 537.69L96.45 537.63L98.49 534.55ZM127.00 537.52L123.56 537.55L125.53 534.41ZM157.12 537.31L153.69 537.44L155.56 534.25ZM184.23 537.12L180.80 537.33L182.59 534.10ZM213.45 536.91L210.02 537.22L211.72 533.93ZM240.55 536.71L237.13 537.11L238.75 533.78ZM268.56 536.46L265.16 536.97L266.67 533.59ZM297.81 536.12L294.43 536.77L295.79 533.33ZM325.83 535.78L322.49 536.58L323.70 533.08ZM355.45 535.42L352.14 536.37L353.19 532.82ZM382.54 535.09L379.28 536.17L380.18 532.58ZM410.65 534.59L407.45 535.87L408.15 532.23ZM439.23 534.07L436.12 535.54L436.59 531.87ZM467.18 533.56L464.17 535.21L464.41 531.52ZM496.30 533.02L493.40 534.86L493.40 531.16ZM523.24 532.00L520.58 534.18L520.14 530.51ZM550.05 530.97L547.68 533.46L546.80 529.87ZM578.81 529.90L576.79 532.68L575.44 529.23ZM606.26 528.92L604.60 531.93L602.82 528.69ZM632.67 528.76L631.08 531.81L629.23 528.60ZM660.59 528.64L659.06 531.71L657.16 528.54ZM688.02 528.51L686.53 531.61L684.58 528.47ZM718.08 528.61L716.55 531.69L714.64 528.52ZM745.34 529.07L743.62 532.05L741.91 528.77ZM772.57 529.56L770.67 532.42L769.17 529.04ZM802.79 530.11L800.70 532.83L799.44 529.35ZM829.96 530.61L827.69 533.20L826.65 529.65ZM860.10 531.19L857.67 533.61L856.88 530.00ZM887.20 531.71L884.62 533.98L884.05 530.32ZM99.76 568.48L96.32 568.33L98.45 565.30ZM126.85 568.35L123.41 568.26L125.48 565.19ZM156.96 568.18L153.52 568.17L155.52 565.06ZM184.06 568.02L180.62 568.09L182.54 564.93ZM213.26 567.85L209.82 568.00L211.67 564.80ZM240.35 567.70L236.92 567.92L238.70 564.68ZM268.37 567.46L264.95 567.79L266.63 564.49ZM297.65 567.09L294.25 567.59L295.77 564.21ZM325.70 566.73L322.32 567.38L323.69 563.94ZM355.34 566.34L352.00 567.16L353.20 563.66ZM382.46 565.98L379.16 566.95L380.19 563.39ZM410.60 565.43L407.37 566.61L408.17 563.00ZM439.21 564.83L436.07 566.24L436.61 562.58ZM467.18 564.24L464.14 565.87L464.42 562.18ZM496.30 563.63L493.39 565.47L493.41 561.77ZM523.25 562.64L520.57 564.80L520.15 561.13ZM550.07 561.64L547.68 564.11L546.82 560.51ZM578.85 560.60L576.79 563.36L575.49 559.89ZM606.33 559.65L604.62 562.64L602.90 559.36ZM632.77 559.54L631.10 562.55L629.34 559.30ZM660.73 559.47L659.09 562.50L657.30 559.26ZM688.19 559.40L686.58 562.44L684.76 559.23ZM718.27 559.55L716.60 562.56L714.84 559.30ZM745.52 560.05L743.66 562.94L742.11 559.58ZM772.74 560.56L770.69 563.32L769.37 559.87ZM802.94 561.14L800.70 563.75L799.63 560.21ZM830.08 561.68L827.67 564.14L826.84 560.53ZM99.68 594.58L96.25 594.38L98.42 591.39ZM126.77 594.46L123.34 594.32L125.45 591.28ZM156.88 594.30L153.44 594.24L155.49 591.15ZM183.98 594.15L180.54 594.16L182.52 591.04ZM213.18 593.99L209.74 594.08L211.65 590.91ZM240.26 593.84L236.83 594.00L238.68 590.79ZM268.29 593.62L264.86 593.88L266.61 590.61ZM297.58 593.25L294.16 593.68L295.75 590.33ZM325.64 592.89L322.25 593.48L323.68 590.06ZM355.29 592.51L351.93 593.25L353.19 589.78ZM382.41 592.15L379.09 593.05L380.20 589.52ZM410.57 591.56L407.32 592.69L408.18 589.09ZM439.20 590.92L436.04 592.30L436.62 588.64ZM467.17 590.29L464.13 591.90L464.43 588.21ZM496.30 589.63L493.39 591.47L493.41 587.77ZM523.25 588.64L520.57 590.80L520.15 587.13ZM550.07 587.64L547.68 590.11L546.82 586.51ZM578.85 586.60L576.79 589.36L575.49 585.89ZM606.33 585.65L604.62 588.64L602.90 585.36ZM632.80 585.59L631.11 588.59L629.37 585.33ZM660.79 585.58L659.11 588.58L657.36 585.32ZM688.28 585.56L686.61 588.56L684.85 585.31ZM718.37 585.74L716.63 588.71L714.95 585.41ZM772.81 586.76L770.70 589.48L769.46 585.99ZM99.59 627.32L96.16 627.05L98.39 624.09ZM126.67 627.20L123.24 626.99L125.42 624.00ZM156.78 627.05L153.34 626.92L155.45 623.88ZM183.87 626.92L180.43 626.85L182.49 623.77ZM213.07 626.77L209.63 626.77L211.62 623.65ZM240.16 626.63L236.72 626.70L238.64 623.54ZM268.19 626.41L264.75 626.58L266.58 623.36ZM297.48 626.05L294.06 626.38L295.73 623.09ZM325.55 625.70L322.14 626.19L323.67 622.82ZM355.21 625.31L351.83 625.97L353.19 622.53ZM382.34 624.96L379.00 625.77L380.20 622.27ZM410.53 624.32L407.26 625.39L408.18 621.81ZM439.18 623.63L436.01 624.97L436.63 621.32ZM467.17 622.95L464.12 624.54L464.44 620.85ZM496.30 622.23L493.39 624.07L493.41 620.37ZM523.25 621.24L520.57 623.40L520.15 619.73ZM550.07 620.24L547.68 622.71L546.82 619.11ZM578.85 619.20L576.79 621.96L575.49 618.49ZM606.33 618.25L604.62 621.24L602.90 617.96ZM632.83 618.25L631.12 621.24L629.40 617.96ZM660.86 618.31L659.13 621.28L657.43 617.99ZM718.50 618.59L716.66 621.50L715.08 618.15ZM745.71 619.10L743.69 621.88L742.34 618.44ZM772.90 619.62L770.70 622.27L769.58 618.74ZM803.07 620.22L800.68 622.69L799.82 619.10ZM99.50 654.43L96.08 654.10L98.35 651.18ZM126.59 654.32L123.16 654.05L125.39 651.09ZM156.69 654.18L153.26 653.98L155.42 650.98ZM183.78 654.05L180.34 653.91L182.45 650.87ZM212.98 653.91L209.54 653.84L211.59 650.76ZM240.06 653.78L236.62 653.77L238.61 650.66ZM268.09 653.56L264.66 653.66L266.56 650.49ZM297.39 653.21L293.96 653.47L295.71 650.21ZM325.47 652.86L322.06 653.28L323.65 649.94ZM355.14 652.48L351.75 653.07L353.18 649.66ZM382.28 652.13L378.92 652.87L380.19 649.39ZM410.49 651.46L407.21 652.47L408.19 648.91ZM439.16 650.73L435.98 652.03L436.64 648.39ZM467.16 650.00L464.10 651.57L464.45 647.88ZM496.30 649.23L493.39 651.07L493.41 647.37ZM523.25 648.24L520.57 650.40L520.15 646.73ZM550.07 647.24L547.68 649.71L546.82 646.11ZM578.85 646.20L576.79 648.96L575.49 645.49ZM606.33 645.25L604.62 648.24L602.90 644.96ZM632.86 645.31L631.13 648.28L629.43 644.99ZM660.91 645.41L659.14 648.36L657.49 645.05ZM688.46 645.52L686.65 648.44L685.05 645.11ZM718.59 645.80L716.67 648.65L715.19 645.26ZM745.79 646.31L743.70 649.04L742.44 645.56Z" fill="#0000ff" stroke="#0000ff" stroke-width="0.6" stroke-linejoin="round"/>
<g font-family="Liberation Sans" font-size="6.8" fill="#222"><text x="902.8" y="136" text-anchor="middle">52°W</text><text x="902.8" y="674" text-anchor="middle">52°W</text><text x="878.2" y="136" text-anchor="middle">53°W</text><text x="878.2" y="674" text-anchor="middle">53°W</text><text x="853.5" y="136" text-anchor="middle">54°W</text><text x="853.5" y="674" text-anchor="middle">54°W</text><text x="828.9" y="136" text-anchor="middle">55°W</text><text x="828.9" y="674" text-anchor="middle">55°W</text><text x="804.2" y="136" text-anchor="middle">56°W</text><text x="804.2" y="674" text-anchor="middle">56°W</text><text x="779.6" y="136" text-anchor="middle">57°W</text><text x="779.6" y="674" text-anchor="middle">57°W</text><text x="755.0" y="136" text-anchor="middle">58°W</text><text x="755.0" y="674" text-anchor="middle">58°W</text><text x="730.3" y="136" text-anchor="middle">59°W</text><text x="730.3" y="674" text-anchor="middle">59°W</text><text x="705.7" y="136" text-anchor="middle">60°W</text><text x="705.7" y="674" text-anchor="middle">60°W</text><text x="681.1" y="136" text-anchor="middle">61°W</text><text x="681.1" y="674" text-anchor="middle">61°W</text><text x="656.4" y="136" text-anchor="middle">62°W</text><text x="656.4" y="674" text-anchor="middle">62°W</text><text x="631.8" y="136" text-anchor="middle">63°W</text><text x="631.8" y="674" text-anchor="middle">63°W</text><text x="607.2" y="136" text-anchor="middle">64°W</text><text x="607.2" y="674" text-anchor="middle">64°W</text><text x="582.5" y="136" text-anchor="middle">65°W</text><text x="582.5" y="674" text-anchor="middle">65°W</text><text x="557.9" y="136" text-anchor="middle">66°W</text><text x="557.9" y="674" text-anchor="middle">66°W</text><text x="533.2" y="136" text-anchor="middle">67°W</text><text x="533.2" y="674" text-anchor="middle">67°W</text><text x="508.6" y="136" text-anchor="middle">68°W</text><text x="508.6" y="674" text-anchor="middle">68°W</text><text x="484.0" y="136" text-anchor="middle">69°W</text><text x="484.0" y="674" text-anchor="middle">69°W</text><text x="459.3" y="136" text-anchor="middle">70°W</text><text x="459.3" y="674" text-anchor="middle">70°W</text><text x="434.7" y="136" text-anchor="middle">71°W</text><text x="434.7" y="674" text-anchor="middle">71°W</text><text x="410.1" y="136" text-anchor="middle">72°W</text><text x="410.1" y="674" text-anchor="middle">72°W</text><text x="385.4" y="136" text-anchor="middle">73°W</text><text x="385.4" y="674" text-anchor="middle">73°W</text><text x="360.8" y="136" text-anchor="middle">74°W</text><text x="360.8" y="674" text-anchor="middle">74°W</text><text x="336.2" y="136" text-anchor="middle">75°W</text><text x="336.2" y="674" text-anchor="middle">75°W</text><text x="311.5" y="136" text-anchor="middle">76°W</text><text x="311.5" y="674" text-anchor="middle">76°W</text><text x="286.9" y="136" text-anchor="middle">77°W</text><text x="286.9" y="674" text-anchor="middle">77°W</text><text x="262.3" y="136" text-anchor="middle">78°W</text><text x="262.3" y="674" text-anchor="middle">78°W</text><text x="237.6" y="136" text-anchor="middle">79°W</text><text x="237.6" y="674" text-anchor="middle">79°W</text><text x="213.0" y="136" text-anchor="middle">80°W</text><text x="213.0" y="674" text-anchor="middle">80°W</text><text x="188.3" y="136" text-anchor="middle">81°W</text><text x="188.3" y="674" text-anchor="middle">81°W</text><text x="163.7" y="136" text-anchor="middle">82°W</text><text x="163.7" y="674" text-anchor="middle">82°W</text><text x="139.1" y="136" text-anchor="middle">83°W</text><text x="139.1" y="674" text-anchor="middle">83°W</text><text x="114.4" y="136" text-anchor="middle">84°W</text><text x="114.4" y="674" text-anchor="middle">84°W</text><text x="89.8" y="136" text-anchor="middle">85°W</text><text x="89.8" y="674" text-anchor="middle">85°W</text><text x="87" y="172.1" text-anchor="end">53°S</text><text x="906" y="172.1" text-anchor="start">53°S</text><text x="87" y="213.4" text-anchor="end">54°S</text><text x="906" y="213.4" text-anchor="start">54°S</text><text x="87" y="255.7" text-anchor="end">55°S</text><text x="906" y="255.7" text-anchor="start">55°S</text><text x="87" y="299.1" text-anchor="end">56°S</text><text x="906" y="299.1" text-anchor="start">56°S</text><text x="87" y="343.6" text-anchor="end">57°S</text><text x="906" y="343.6" text-anchor="start">57°S</text><text x="87" y="389.4" text-anchor="end">58°S</text><text x="906" y="389.4" text-anchor="start">58°S</text><text x="87" y="436.4" text-anchor="end">59°S</text><text x="906" y="436.4" text-anchor="start">59°S</text><text x="87" y="484.8" text-anchor="end">60°S</text><text x="906" y="484.8" text-anchor="start">60°S</text><text x="87" y="534.7" text-anchor="end">61°S</text><text x="906" y="534.7" text-anchor="start">61°S</text><text x="87" y="586.2" text-anchor="end">62°S</text><text x="906" y="586.2" text-anchor="start">62°S</text><text x="87" y="639.4" text-anchor="end">63°S</text><text x="906" y="639.4" text-anchor="start">63°S</text></g>
<rect x="59.50" y="683.8" width="82.25" height="18.5" fill="#c8dcf8"/>
<rect x="141.45" y="683.8" width="82.25" height="18.5" fill="#0576f6"/>
<line x1="141.45" y1="683.8" x2="141.45" y2="702.3" stroke="#222" stroke-width="1"/>
<rect x="223.41" y="683.8" width="82.25" height="18.5" fill="#79a7f8"/>
<line x1="223.41" y1="683.8" x2="223.41" y2="702.3" stroke="#222" stroke-width="1"/>
<rect x="305.36" y="683.8" width="82.25" height="18.5" fill="#20f000"/>
<line x1="305.36" y1="683.8" x2="305.36" y2="702.3" stroke="#222" stroke-width="1"/>
<rect x="387.32" y="683.8" width="82.25" height="18.5" fill="#ffff00"/>
<line x1="387.32" y1="683.8" x2="387.32" y2="702.3" stroke="#222" stroke-width="1"/>
<rect x="469.27" y="683.8" width="82.25" height="18.5" fill="#ffd700"/>
<line x1="469.27" y1="683.8" x2="469.27" y2="702.3" stroke="#222" stroke-width="1"/>
<rect x="551.23" y="683.8" width="82.25" height="18.5" fill="#ffa500"/>
<line x1="551.23" y1="683.8" x2="551.23" y2="702.3" stroke="#222" stroke-width="1"/>
<rect x="633.18" y="683.8" width="82.25" height="18.5" fill="#ff7000"/>
<line x1="633.18" y1="683.8" x2="633.18" y2="702.3" stroke="#222" stroke-width="1"/>
<rect x="715.14" y="683.8" width="82.25" height="18.5" fill="#ff0000"/>
<line x1="715.14" y1="683.8" x2="715.14" y2="702.3" stroke="#222" stroke-width="1"/>
<rect x="797.09" y="683.8" width="82.25" height="18.5" fill="#6b1000"/>
<line x1="797.09" y1="683.8" x2="797.09" y2="702.3" stroke="#222" stroke-width="1"/>
<rect x="879.05" y="683.8" width="82.25" height="18.5" fill="#333333"/>
<line x1="879.05" y1="683.8" x2="879.05" y2="702.3" stroke="#222" stroke-width="1"/>
<rect x="59.5" y="683.8" width="901.5" height="18.5" fill="none" stroke="#222" stroke-width="1.4"/>
<text x="59.50" y="677" text-anchor="middle" font-family="Liberation Sans" font-weight="bold" font-size="10" fill="#0000ff">0</text>
<text x="141.45" y="677" text-anchor="middle" font-family="Liberation Sans" font-weight="bold" font-size="10" fill="#0000ff">0.5</text>
<text x="223.41" y="677" text-anchor="middle" font-family="Liberation Sans" font-weight="bold" font-size="10" fill="#0000ff">1</text>
<text x="305.36" y="677" text-anchor="middle" font-family="Liberation Sans" font-weight="bold" font-size="10" fill="#0000ff">2</text>
<text x="387.32" y="677" text-anchor="middle" font-family="Liberation Sans" font-weight="bold" font-size="10" fill="#0000ff">3</text>
<text x="469.27" y="677" text-anchor="middle" font-family="Liberation Sans" font-weight="bold" font-size="10" fill="#0000ff">4</text>
<text x="551.23" y="677" text-anchor="middle" font-family="Liberation Sans" font-weight="bold" font-size="10" fill="#0000ff">6</text>
<text x="633.18" y="677" text-anchor="middle" font-family="Liberation Sans" font-weight="bold" font-size="10" fill="#0000ff">8</text>
<text x="715.14" y="677" text-anchor="middle" font-family="Liberation Sans" font-weight="bold" font-size="10" fill="#0000ff">10</text>
<text x="797.09" y="677" text-anchor="middle" font-family="Liberation Sans" font-weight="bold" font-size="10" fill="#0000ff">12</text>
<text x="879.05" y="677" text-anchor="middle" font-family="Liberation Sans" font-weight="bold" font-size="10" fill="#0000ff">14</text>
<text x="961.00" y="677" text-anchor="middle" font-family="Liberation Sans" font-weight="bold" font-size="10" fill="#0000ff">20</text>
</svg></body></html>
